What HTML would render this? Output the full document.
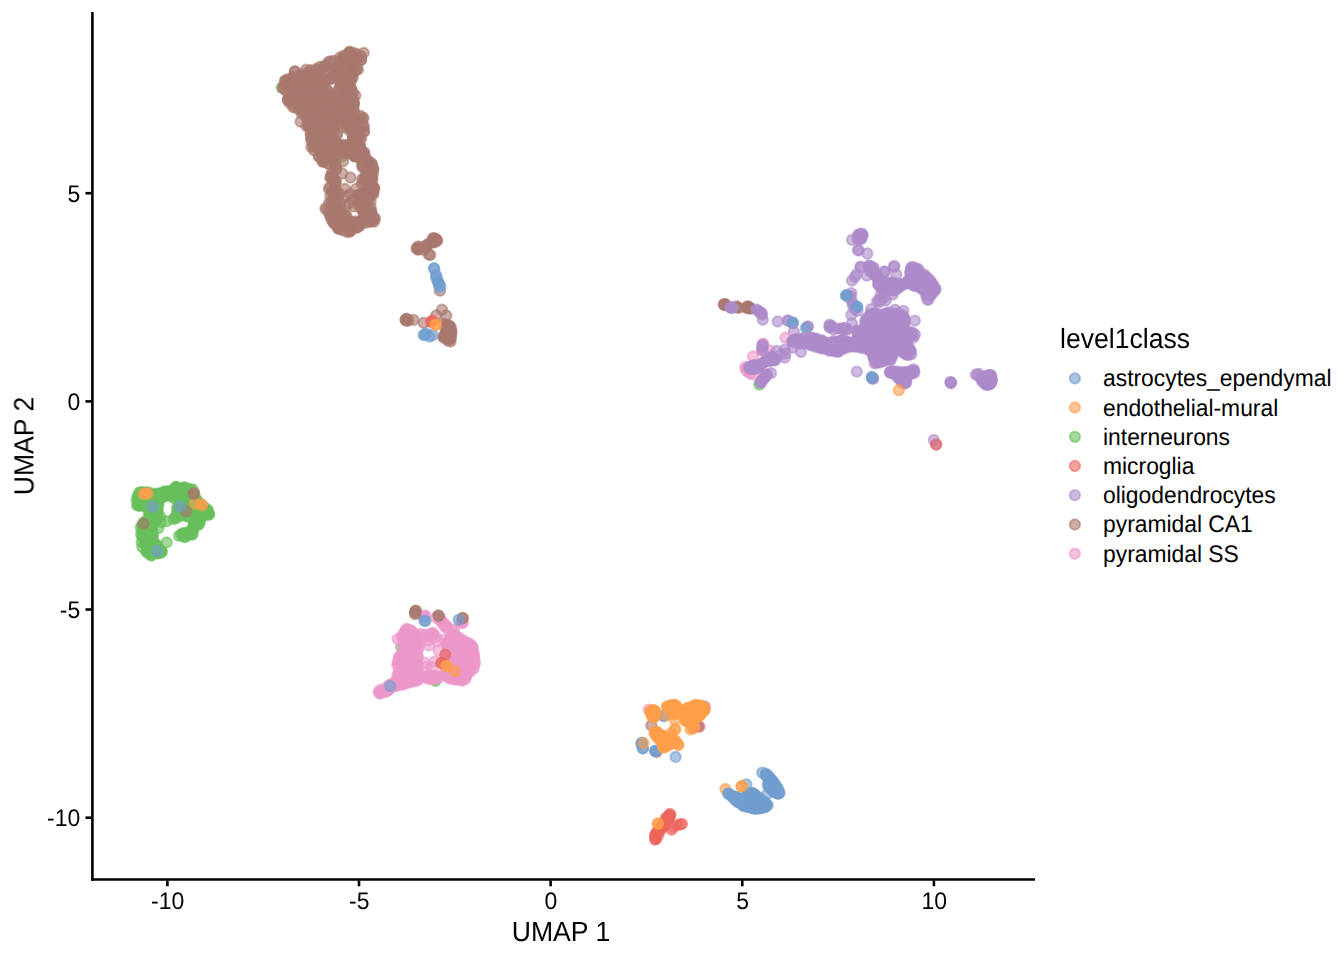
<!DOCTYPE html>
<html><head><meta charset="utf-8"><title>UMAP</title>
<style>
html,body{margin:0;padding:0;background:#fff;}
body{width:1344px;height:960px;overflow:hidden;font-family:"Liberation Sans",sans-serif;}
svg{display:block;font-family:"Liberation Sans",sans-serif;}
text{text-rendering:geometricPrecision}
.tx{opacity:.999}
.t{font-size:23px;fill:#000;}
.l{font-size:22.85px;fill:#000;}
.a{font-size:26.6px;fill:#000;}
.p circle{fill-opacity:.6;stroke-opacity:.6;stroke-width:1.88;}
</style></head><body>
<svg width="1344" height="960" viewBox="0 0 1344 960">
<rect width="1344" height="960" fill="#fff"/>
<g class="p">
<g fill="#67BF5C" stroke="#67BF5C">
<circle cx="349.5" cy="52.0" r="5.2"/>
<circle cx="281.6" cy="87.6" r="5.2"/>
<circle cx="342.2" cy="156.5" r="5.2"/>
</g>
<g fill="#ED97CA" stroke="#ED97CA">
<circle cx="326.0" cy="108.0" r="5.2"/>
<circle cx="345.0" cy="100.0" r="5.2"/>
<circle cx="353.0" cy="103.0" r="5.2"/>
</g>
<g fill="#A8786E" stroke="#A8786E">
<circle cx="313.1" cy="78.9" r="5.2"/>
<circle cx="341.3" cy="223.6" r="5.2"/>
<circle cx="325.1" cy="105.9" r="5.2"/>
<circle cx="354.1" cy="155.6" r="5.2"/>
<circle cx="295.0" cy="96.4" r="5.2"/>
<circle cx="308.9" cy="126.9" r="5.2"/>
<circle cx="345.9" cy="61.3" r="5.2"/>
<circle cx="366.7" cy="193.2" r="5.2"/>
<circle cx="326.3" cy="139.4" r="5.2"/>
<circle cx="332.1" cy="78.1" r="5.2"/>
<circle cx="332.5" cy="193.0" r="5.2"/>
<circle cx="361.2" cy="138.6" r="5.2"/>
<circle cx="350.4" cy="82.3" r="5.2"/>
<circle cx="373.3" cy="169.5" r="5.2"/>
<circle cx="323.9" cy="84.7" r="5.2"/>
<circle cx="313.3" cy="145.6" r="5.2"/>
<circle cx="330.6" cy="177.3" r="5.2"/>
<circle cx="325.1" cy="148.3" r="5.2"/>
<circle cx="301.2" cy="109.3" r="5.2"/>
<circle cx="356.3" cy="228.0" r="5.2"/>
<circle cx="347.0" cy="128.7" r="5.2"/>
<circle cx="293.2" cy="80.8" r="5.2"/>
<circle cx="353.6" cy="104.1" r="5.2"/>
<circle cx="329.0" cy="203.1" r="5.2"/>
<circle cx="309.2" cy="95.5" r="5.2"/>
<circle cx="311.8" cy="116.2" r="5.2"/>
<circle cx="337.4" cy="147.6" r="5.2"/>
<circle cx="334.9" cy="165.5" r="5.2"/>
<circle cx="351.5" cy="97.3" r="5.2"/>
<circle cx="328.9" cy="121.0" r="5.2"/>
<circle cx="374.0" cy="221.6" r="5.2"/>
<circle cx="365.5" cy="179.2" r="5.2"/>
<circle cx="317.6" cy="122.8" r="5.2"/>
<circle cx="326.9" cy="113.9" r="5.2"/>
<circle cx="344.0" cy="106.1" r="5.2"/>
<circle cx="336.0" cy="212.6" r="5.2"/>
<circle cx="320.2" cy="132.5" r="5.2"/>
<circle cx="359.8" cy="206.9" r="5.2"/>
<circle cx="331.8" cy="157.4" r="5.2"/>
<circle cx="319.1" cy="92.1" r="5.2"/>
<circle cx="372.3" cy="179.5" r="5.2"/>
<circle cx="366.5" cy="212.0" r="5.2"/>
<circle cx="344.8" cy="120.2" r="5.2"/>
<circle cx="354.3" cy="58.8" r="5.2"/>
<circle cx="312.4" cy="101.5" r="5.2"/>
<circle cx="355.7" cy="65.8" r="5.2"/>
<circle cx="336.8" cy="110.7" r="5.2"/>
<circle cx="330.2" cy="93.5" r="5.2"/>
<circle cx="343.6" cy="88.4" r="5.2"/>
<circle cx="312.0" cy="88.4" r="5.2"/>
<circle cx="350.7" cy="88.5" r="5.2"/>
<circle cx="331.5" cy="219.6" r="5.2"/>
<circle cx="301.3" cy="74.5" r="5.2"/>
<circle cx="338.7" cy="151.4" r="5.2"/>
<circle cx="322.1" cy="157.3" r="5.2"/>
<circle cx="330.6" cy="61.3" r="5.2"/>
<circle cx="302.3" cy="99.2" r="5.2"/>
<circle cx="364.2" cy="152.3" r="5.2"/>
<circle cx="342.4" cy="230.2" r="5.2"/>
<circle cx="320.4" cy="99.5" r="5.2"/>
<circle cx="352.0" cy="133.7" r="5.2"/>
<circle cx="334.5" cy="130.7" r="5.2"/>
<circle cx="352.4" cy="110.8" r="5.2"/>
<circle cx="315.1" cy="77.2" r="5.2"/>
<circle cx="362.2" cy="163.8" r="5.2"/>
<circle cx="283.1" cy="88.2" r="5.2"/>
<circle cx="315.4" cy="110.8" r="5.2"/>
<circle cx="354.9" cy="156.7" r="5.2"/>
<circle cx="292.9" cy="89.0" r="5.2"/>
<circle cx="341.5" cy="96.9" r="5.2"/>
<circle cx="355.4" cy="122.1" r="5.2"/>
<circle cx="308.5" cy="124.1" r="5.2"/>
<circle cx="334.0" cy="74.2" r="5.2"/>
<circle cx="360.5" cy="115.9" r="5.2"/>
<circle cx="367.2" cy="193.9" r="5.2"/>
<circle cx="292.4" cy="77.4" r="5.2"/>
<circle cx="339.6" cy="193.4" r="5.2"/>
<circle cx="328.7" cy="142.0" r="5.2"/>
<circle cx="346.5" cy="220.7" r="5.2"/>
<circle cx="331.9" cy="191.5" r="5.2"/>
<circle cx="329.8" cy="100.8" r="5.2"/>
<circle cx="367.6" cy="162.6" r="5.2"/>
<circle cx="359.5" cy="194.4" r="5.2"/>
<circle cx="321.3" cy="70.0" r="5.2"/>
<circle cx="350.9" cy="66.8" r="5.2"/>
<circle cx="349.7" cy="53.5" r="5.2"/>
<circle cx="335.7" cy="104.6" r="5.2"/>
<circle cx="362.2" cy="198.1" r="5.2"/>
<circle cx="326.3" cy="89.0" r="5.2"/>
<circle cx="300.6" cy="86.4" r="5.2"/>
<circle cx="320.4" cy="145.4" r="5.2"/>
<circle cx="359.2" cy="226.5" r="5.2"/>
<circle cx="306.8" cy="115.4" r="5.2"/>
<circle cx="360.9" cy="60.0" r="5.2"/>
<circle cx="353.2" cy="222.1" r="5.2"/>
<circle cx="325.1" cy="113.2" r="5.2"/>
<circle cx="359.5" cy="138.2" r="5.2"/>
<circle cx="297.5" cy="100.7" r="5.2"/>
<circle cx="360.4" cy="147.1" r="5.2"/>
<circle cx="358.5" cy="157.4" r="5.2"/>
<circle cx="361.3" cy="208.5" r="5.2"/>
<circle cx="330.7" cy="147.8" r="5.2"/>
<circle cx="363.9" cy="181.7" r="5.2"/>
<circle cx="338.0" cy="207.9" r="5.2"/>
<circle cx="319.1" cy="127.8" r="5.2"/>
<circle cx="372.1" cy="221.2" r="5.2"/>
<circle cx="373.2" cy="192.5" r="5.2"/>
<circle cx="346.1" cy="101.1" r="5.2"/>
<circle cx="309.8" cy="95.7" r="5.2"/>
<circle cx="336.0" cy="169.6" r="5.2"/>
<circle cx="364.0" cy="131.4" r="5.2"/>
<circle cx="353.6" cy="137.8" r="5.2"/>
<circle cx="339.5" cy="120.4" r="5.2"/>
<circle cx="337.1" cy="67.4" r="5.2"/>
<circle cx="335.5" cy="141.8" r="5.2"/>
<circle cx="345.9" cy="146.9" r="5.2"/>
<circle cx="298.9" cy="109.2" r="5.2"/>
<circle cx="342.2" cy="59.1" r="5.2"/>
<circle cx="345.1" cy="87.2" r="5.2"/>
<circle cx="331.6" cy="201.0" r="5.2"/>
<circle cx="324.8" cy="121.5" r="5.2"/>
<circle cx="337.2" cy="225.8" r="5.2"/>
<circle cx="316.3" cy="85.4" r="5.2"/>
<circle cx="344.8" cy="113.5" r="5.2"/>
<circle cx="291.6" cy="100.4" r="5.2"/>
<circle cx="317.2" cy="96.2" r="5.2"/>
<circle cx="316.6" cy="142.4" r="5.2"/>
<circle cx="365.1" cy="207.9" r="5.2"/>
<circle cx="348.0" cy="96.6" r="5.2"/>
<circle cx="311.2" cy="120.6" r="5.2"/>
<circle cx="347.6" cy="123.0" r="5.2"/>
<circle cx="369.5" cy="177.1" r="5.2"/>
<circle cx="311.9" cy="76.3" r="5.2"/>
<circle cx="330.9" cy="132.3" r="5.2"/>
<circle cx="313.2" cy="136.6" r="5.2"/>
<circle cx="368.5" cy="168.5" r="5.2"/>
<circle cx="361.7" cy="219.8" r="5.2"/>
<circle cx="335.7" cy="165.6" r="5.2"/>
<circle cx="347.0" cy="81.2" r="5.2"/>
<circle cx="356.2" cy="128.8" r="5.2"/>
<circle cx="335.4" cy="114.7" r="5.2"/>
<circle cx="285.6" cy="85.8" r="5.2"/>
<circle cx="332.4" cy="97.2" r="5.2"/>
<circle cx="334.2" cy="181.3" r="5.2"/>
<circle cx="353.4" cy="72.3" r="5.2"/>
<circle cx="364.1" cy="153.7" r="5.2"/>
<circle cx="350.1" cy="59.4" r="5.2"/>
<circle cx="318.4" cy="77.7" r="5.2"/>
<circle cx="329.7" cy="210.1" r="5.2"/>
<circle cx="327.2" cy="80.2" r="5.2"/>
<circle cx="326.5" cy="156.3" r="5.2"/>
<circle cx="335.1" cy="191.5" r="5.2"/>
<circle cx="334.2" cy="125.2" r="5.2"/>
<circle cx="325.1" cy="132.4" r="5.2"/>
<circle cx="311.0" cy="107.5" r="5.2"/>
<circle cx="348.5" cy="91.1" r="5.2"/>
<circle cx="351.2" cy="226.4" r="5.2"/>
<circle cx="338.6" cy="98.2" r="5.2"/>
<circle cx="297.5" cy="77.4" r="5.2"/>
<circle cx="338.9" cy="111.6" r="5.2"/>
<circle cx="355.0" cy="117.3" r="5.2"/>
<circle cx="355.4" cy="95.5" r="5.2"/>
<circle cx="304.5" cy="88.4" r="5.2"/>
<circle cx="292.0" cy="82.1" r="5.2"/>
<circle cx="323.0" cy="70.5" r="5.2"/>
<circle cx="333.6" cy="151.2" r="5.2"/>
<circle cx="320.1" cy="109.3" r="5.2"/>
<circle cx="361.4" cy="193.9" r="5.2"/>
<circle cx="343.1" cy="151.2" r="5.2"/>
<circle cx="303.5" cy="77.3" r="5.2"/>
<circle cx="357.7" cy="146.2" r="5.2"/>
<circle cx="346.3" cy="118.1" r="5.2"/>
<circle cx="349.3" cy="105.1" r="5.2"/>
<circle cx="318.8" cy="156.6" r="5.2"/>
<circle cx="323.9" cy="140.7" r="5.2"/>
<circle cx="294.0" cy="91.6" r="5.2"/>
<circle cx="308.5" cy="99.1" r="5.2"/>
<circle cx="332.9" cy="119.4" r="5.2"/>
<circle cx="337.3" cy="117.9" r="5.2"/>
<circle cx="342.4" cy="60.4" r="5.2"/>
<circle cx="310.3" cy="93.7" r="5.2"/>
<circle cx="352.8" cy="141.7" r="5.2"/>
<circle cx="338.7" cy="227.2" r="5.2"/>
<circle cx="335.0" cy="68.8" r="5.2"/>
<circle cx="329.1" cy="148.8" r="5.2"/>
<circle cx="297.3" cy="99.5" r="5.2"/>
<circle cx="358.4" cy="135.4" r="5.2"/>
<circle cx="301.4" cy="91.4" r="5.2"/>
<circle cx="372.8" cy="173.7" r="5.2"/>
<circle cx="367.1" cy="186.8" r="5.2"/>
<circle cx="373.1" cy="194.5" r="5.2"/>
<circle cx="370.6" cy="201.5" r="5.2"/>
<circle cx="340.6" cy="104.5" r="5.2"/>
<circle cx="339.7" cy="213.9" r="5.2"/>
<circle cx="331.6" cy="174.4" r="5.2"/>
<circle cx="371.6" cy="213.4" r="5.2"/>
<circle cx="353.9" cy="104.4" r="5.2"/>
<circle cx="310.7" cy="121.0" r="5.2"/>
<circle cx="312.8" cy="131.1" r="5.2"/>
<circle cx="312.3" cy="79.1" r="5.2"/>
<circle cx="332.2" cy="103.8" r="5.2"/>
<circle cx="293.3" cy="107.2" r="5.2"/>
<circle cx="314.8" cy="122.8" r="5.2"/>
<circle cx="345.2" cy="215.2" r="5.2"/>
<circle cx="339.1" cy="201.2" r="5.2"/>
<circle cx="345.9" cy="228.6" r="5.2"/>
<circle cx="334.6" cy="198.1" r="5.2"/>
<circle cx="314.8" cy="86.0" r="5.2"/>
<circle cx="320.5" cy="102.8" r="5.2"/>
<circle cx="373.5" cy="187.3" r="5.2"/>
<circle cx="294.9" cy="71.2" r="5.2"/>
<circle cx="335.4" cy="143.7" r="5.2"/>
<circle cx="358.5" cy="204.3" r="5.2"/>
<circle cx="350.4" cy="61.2" r="5.2"/>
<circle cx="326.8" cy="124.2" r="5.2"/>
<circle cx="329.7" cy="164.1" r="5.2"/>
<circle cx="352.3" cy="55.8" r="5.2"/>
<circle cx="343.4" cy="89.1" r="5.2"/>
<circle cx="331.4" cy="134.2" r="5.2"/>
<circle cx="306.5" cy="106.1" r="5.2"/>
<circle cx="365.4" cy="218.8" r="5.2"/>
<circle cx="333.1" cy="221.9" r="5.2"/>
<circle cx="349.6" cy="231.3" r="5.2"/>
<circle cx="372.7" cy="168.3" r="5.2"/>
<circle cx="360.4" cy="57.0" r="5.2"/>
<circle cx="283.9" cy="86.0" r="5.2"/>
<circle cx="306.4" cy="118.0" r="5.2"/>
<circle cx="316.6" cy="136.7" r="5.2"/>
<circle cx="352.2" cy="153.7" r="5.2"/>
<circle cx="343.7" cy="145.0" r="5.2"/>
<circle cx="362.7" cy="118.3" r="5.2"/>
<circle cx="335.2" cy="180.8" r="5.2"/>
<circle cx="304.8" cy="81.9" r="5.2"/>
<circle cx="322.1" cy="147.6" r="5.2"/>
<circle cx="347.4" cy="97.9" r="5.2"/>
<circle cx="351.4" cy="116.8" r="5.2"/>
<circle cx="323.6" cy="83.3" r="5.2"/>
<circle cx="314.2" cy="146.4" r="5.2"/>
<circle cx="287.7" cy="79.4" r="5.2"/>
<circle cx="357.8" cy="195.2" r="5.2"/>
<circle cx="295.8" cy="86.5" r="5.2"/>
<circle cx="302.0" cy="108.0" r="5.2"/>
<circle cx="330.8" cy="78.9" r="5.2"/>
<circle cx="355.1" cy="70.8" r="5.2"/>
<circle cx="369.3" cy="221.1" r="5.2"/>
<circle cx="340.5" cy="70.5" r="5.2"/>
<circle cx="322.6" cy="112.9" r="5.2"/>
<circle cx="314.5" cy="96.5" r="5.2"/>
<circle cx="363.3" cy="155.9" r="5.2"/>
<circle cx="318.2" cy="71.5" r="5.2"/>
<circle cx="333.1" cy="112.6" r="5.2"/>
<circle cx="306.2" cy="69.7" r="5.2"/>
<circle cx="357.6" cy="224.8" r="5.2"/>
<circle cx="372.2" cy="177.9" r="5.2"/>
<circle cx="322.9" cy="68.2" r="5.2"/>
<circle cx="329.7" cy="214.7" r="5.2"/>
<circle cx="322.4" cy="160.8" r="5.2"/>
<circle cx="340.5" cy="106.5" r="5.2"/>
<circle cx="338.0" cy="77.7" r="5.2"/>
<circle cx="347.2" cy="122.7" r="5.2"/>
<circle cx="362.0" cy="183.8" r="5.2"/>
<circle cx="366.5" cy="196.9" r="5.2"/>
<circle cx="327.6" cy="141.5" r="5.2"/>
<circle cx="317.4" cy="121.9" r="5.2"/>
<circle cx="288.3" cy="99.4" r="5.2"/>
<circle cx="338.5" cy="228.9" r="5.2"/>
<circle cx="306.5" cy="93.7" r="5.2"/>
<circle cx="299.7" cy="79.1" r="5.2"/>
<circle cx="370.7" cy="207.6" r="5.2"/>
<circle cx="318.0" cy="100.3" r="5.2"/>
<circle cx="328.4" cy="101.4" r="5.2"/>
<circle cx="364.0" cy="131.7" r="5.2"/>
<circle cx="325.4" cy="208.3" r="5.2"/>
<circle cx="352.7" cy="77.8" r="5.2"/>
<circle cx="314.3" cy="81.2" r="5.2"/>
<circle cx="373.3" cy="191.6" r="5.2"/>
<circle cx="334.5" cy="125.1" r="5.2"/>
<circle cx="334.5" cy="189.9" r="5.2"/>
<circle cx="341.5" cy="153.7" r="5.2"/>
<circle cx="346.6" cy="219.8" r="5.2"/>
<circle cx="349.3" cy="51.8" r="5.2"/>
<circle cx="347.9" cy="63.7" r="5.2"/>
<circle cx="337.7" cy="197.0" r="5.2"/>
<circle cx="322.3" cy="94.5" r="5.2"/>
<circle cx="368.9" cy="161.2" r="5.2"/>
<circle cx="311.4" cy="110.4" r="5.2"/>
<circle cx="346.9" cy="232.0" r="5.2"/>
<circle cx="375.1" cy="218.6" r="5.2"/>
<circle cx="373.2" cy="168.5" r="5.2"/>
<circle cx="337.7" cy="91.9" r="5.2"/>
<circle cx="355.6" cy="145.5" r="5.2"/>
<circle cx="351.2" cy="89.1" r="5.2"/>
<circle cx="361.9" cy="209.1" r="5.2"/>
<circle cx="354.9" cy="119.5" r="5.2"/>
<circle cx="341.1" cy="85.7" r="5.2"/>
<circle cx="339.0" cy="144.1" r="5.2"/>
<circle cx="317.3" cy="130.0" r="5.2"/>
<circle cx="348.3" cy="145.2" r="5.2"/>
<circle cx="324.5" cy="125.2" r="5.2"/>
<circle cx="347.5" cy="98.5" r="5.2"/>
<circle cx="327.9" cy="163.5" r="5.2"/>
<circle cx="295.5" cy="107.5" r="5.2"/>
<circle cx="339.9" cy="57.5" r="5.2"/>
<circle cx="360.0" cy="146.1" r="5.2"/>
<circle cx="334.3" cy="162.7" r="5.2"/>
<circle cx="356.1" cy="134.3" r="5.2"/>
<circle cx="316.2" cy="89.6" r="5.2"/>
<circle cx="330.4" cy="78.5" r="5.2"/>
<circle cx="354.4" cy="155.0" r="5.2"/>
<circle cx="317.5" cy="138.7" r="5.2"/>
<circle cx="310.9" cy="135.3" r="5.2"/>
<circle cx="319.5" cy="108.2" r="5.2"/>
<circle cx="325.9" cy="155.9" r="5.2"/>
<circle cx="314.3" cy="74.7" r="5.2"/>
<circle cx="308.9" cy="71.4" r="5.2"/>
<circle cx="370.3" cy="214.5" r="5.2"/>
<circle cx="291.4" cy="86.8" r="5.2"/>
<circle cx="361.1" cy="60.0" r="5.2"/>
<circle cx="337.5" cy="105.8" r="5.2"/>
<circle cx="299.3" cy="98.5" r="5.2"/>
<circle cx="322.5" cy="119.5" r="5.2"/>
<circle cx="312.0" cy="118.4" r="5.2"/>
<circle cx="311.1" cy="100.1" r="5.2"/>
<circle cx="307.7" cy="124.0" r="5.2"/>
<circle cx="368.7" cy="199.1" r="5.2"/>
<circle cx="353.6" cy="109.2" r="5.2"/>
<circle cx="305.1" cy="106.8" r="5.2"/>
<circle cx="340.7" cy="63.4" r="5.2"/>
<circle cx="313.8" cy="150.1" r="5.2"/>
<circle cx="350.6" cy="227.5" r="5.2"/>
<circle cx="356.5" cy="57.1" r="5.2"/>
<circle cx="355.0" cy="221.4" r="5.2"/>
<circle cx="359.3" cy="200.6" r="5.2"/>
<circle cx="290.7" cy="96.3" r="5.2"/>
<circle cx="332.4" cy="178.5" r="5.2"/>
<circle cx="363.4" cy="167.5" r="5.2"/>
<circle cx="368.7" cy="222.1" r="5.2"/>
<circle cx="324.5" cy="136.5" r="5.2"/>
<circle cx="364.1" cy="126.6" r="5.2"/>
<circle cx="336.6" cy="213.2" r="5.2"/>
<circle cx="337.2" cy="132.7" r="5.2"/>
<circle cx="288.0" cy="80.4" r="5.2"/>
<circle cx="333.0" cy="148.3" r="5.2"/>
<circle cx="343.8" cy="122.8" r="5.2"/>
<circle cx="363.8" cy="193.6" r="5.2"/>
<circle cx="336.3" cy="199.6" r="5.2"/>
<circle cx="311.9" cy="113.8" r="5.2"/>
<circle cx="335.2" cy="97.8" r="5.2"/>
<circle cx="311.3" cy="147.0" r="5.2"/>
<circle cx="327.2" cy="111.3" r="5.2"/>
<circle cx="356.9" cy="69.0" r="5.2"/>
<circle cx="333.7" cy="222.5" r="5.2"/>
<circle cx="302.5" cy="78.1" r="5.2"/>
<circle cx="307.7" cy="94.9" r="5.2"/>
<circle cx="364.7" cy="178.2" r="5.2"/>
<circle cx="328.9" cy="189.0" r="5.2"/>
<circle cx="336.2" cy="74.9" r="5.2"/>
<circle cx="338.0" cy="118.1" r="5.2"/>
<circle cx="366.0" cy="203.4" r="5.2"/>
<circle cx="350.9" cy="73.6" r="5.2"/>
<circle cx="304.3" cy="113.7" r="5.2"/>
<circle cx="298.4" cy="86.4" r="5.2"/>
<circle cx="353.6" cy="124.8" r="5.2"/>
<circle cx="325.8" cy="147.1" r="5.2"/>
<circle cx="334.1" cy="110.8" r="5.2"/>
<circle cx="374.3" cy="188.3" r="5.2"/>
<circle cx="306.0" cy="81.4" r="5.2"/>
<circle cx="321.0" cy="79.7" r="5.2"/>
<circle cx="334.3" cy="124.8" r="5.2"/>
<circle cx="354.2" cy="148.8" r="5.2"/>
<circle cx="333.0" cy="69.8" r="5.2"/>
<circle cx="317.5" cy="113.8" r="5.2"/>
<circle cx="358.3" cy="147.6" r="5.2"/>
<circle cx="321.1" cy="152.7" r="5.2"/>
<circle cx="359.6" cy="119.2" r="5.2"/>
<circle cx="324.6" cy="65.7" r="5.2"/>
<circle cx="345.7" cy="153.4" r="5.2"/>
<circle cx="340.3" cy="85.3" r="5.2"/>
<circle cx="313.6" cy="106.9" r="5.2"/>
<circle cx="371.1" cy="210.8" r="5.2"/>
<circle cx="347.8" cy="114.8" r="5.2"/>
<circle cx="363.1" cy="211.6" r="5.2"/>
<circle cx="323.1" cy="94.5" r="5.2"/>
<circle cx="353.5" cy="137.3" r="5.2"/>
<circle cx="311.5" cy="138.0" r="5.2"/>
<circle cx="340.6" cy="149.9" r="5.2"/>
<circle cx="341.6" cy="108.3" r="5.2"/>
<circle cx="352.8" cy="92.6" r="5.2"/>
<circle cx="354.3" cy="112.6" r="5.2"/>
<circle cx="311.9" cy="73.9" r="5.2"/>
<circle cx="294.8" cy="71.8" r="5.2"/>
<circle cx="313.1" cy="126.8" r="5.2"/>
<circle cx="345.6" cy="93.9" r="5.2"/>
<circle cx="331.8" cy="206.5" r="5.2"/>
<circle cx="335.6" cy="160.7" r="5.2"/>
<circle cx="322.3" cy="149.6" r="5.2"/>
<circle cx="328.5" cy="129.0" r="5.2"/>
<circle cx="315.4" cy="142.3" r="5.2"/>
<circle cx="320.1" cy="121.5" r="5.2"/>
<circle cx="350.3" cy="143.9" r="5.2"/>
<circle cx="298.3" cy="95.1" r="5.2"/>
<circle cx="319.1" cy="133.2" r="5.2"/>
<circle cx="349.7" cy="57.7" r="5.2"/>
<circle cx="287.8" cy="99.3" r="5.2"/>
<circle cx="294.0" cy="90.7" r="5.2"/>
<circle cx="335.6" cy="206.9" r="5.2"/>
<circle cx="359.3" cy="136.3" r="5.2"/>
<circle cx="316.0" cy="97.5" r="5.2"/>
<circle cx="303.2" cy="98.1" r="5.2"/>
<circle cx="330.3" cy="137.9" r="5.2"/>
<circle cx="371.7" cy="163.7" r="5.2"/>
<circle cx="367.1" cy="191.0" r="5.2"/>
<circle cx="348.5" cy="82.9" r="5.2"/>
<circle cx="335.8" cy="144.3" r="5.2"/>
<circle cx="367.4" cy="170.2" r="5.2"/>
<circle cx="306.6" cy="126.1" r="5.2"/>
<circle cx="307.0" cy="92.0" r="5.2"/>
<circle cx="353.9" cy="117.6" r="5.2"/>
<circle cx="335.2" cy="185.7" r="5.2"/>
<circle cx="356.5" cy="223.6" r="5.2"/>
<circle cx="357.3" cy="130.0" r="5.2"/>
<circle cx="300.7" cy="75.5" r="5.2"/>
<circle cx="332.6" cy="102.5" r="5.2"/>
<circle cx="300.1" cy="84.8" r="5.2"/>
<circle cx="322.8" cy="161.9" r="5.2"/>
<circle cx="364.3" cy="223.1" r="5.2"/>
<circle cx="361.0" cy="55.9" r="5.2"/>
<circle cx="334.6" cy="110.6" r="5.2"/>
<circle cx="365.1" cy="156.8" r="5.2"/>
<circle cx="285.0" cy="81.3" r="5.2"/>
<circle cx="366.1" cy="201.4" r="5.2"/>
<circle cx="334.4" cy="223.8" r="5.2"/>
<circle cx="347.4" cy="220.2" r="5.2"/>
<circle cx="315.9" cy="69.2" r="5.2"/>
<circle cx="299.2" cy="107.1" r="5.2"/>
<circle cx="367.6" cy="161.8" r="5.2"/>
<circle cx="332.3" cy="172.6" r="5.2"/>
<circle cx="352.9" cy="52.7" r="5.2"/>
<circle cx="354.4" cy="155.6" r="5.2"/>
<circle cx="347.7" cy="125.2" r="5.2"/>
<circle cx="352.7" cy="64.7" r="5.2"/>
<circle cx="337.8" cy="98.6" r="5.2"/>
<circle cx="341.7" cy="71.9" r="5.2"/>
<circle cx="326.5" cy="65.5" r="5.2"/>
<circle cx="360.5" cy="194.5" r="5.2"/>
<circle cx="335.4" cy="75.9" r="5.2"/>
<circle cx="338.6" cy="194.2" r="5.2"/>
<circle cx="308.5" cy="85.0" r="5.2"/>
<circle cx="343.5" cy="105.9" r="5.2"/>
<circle cx="364.0" cy="166.0" r="5.2"/>
<circle cx="349.9" cy="89.5" r="5.2"/>
<circle cx="336.9" cy="135.0" r="5.2"/>
<circle cx="312.1" cy="115.8" r="5.2"/>
<circle cx="301.6" cy="113.3" r="5.2"/>
<circle cx="334.0" cy="60.8" r="5.2"/>
<circle cx="373.3" cy="187.2" r="5.2"/>
<circle cx="357.9" cy="69.4" r="5.2"/>
<circle cx="362.1" cy="179.2" r="5.2"/>
<circle cx="333.9" cy="126.6" r="5.2"/>
<circle cx="319.0" cy="82.0" r="5.2"/>
<circle cx="345.0" cy="97.7" r="5.2"/>
<circle cx="330.4" cy="195.9" r="5.2"/>
<circle cx="327.5" cy="119.1" r="5.2"/>
<circle cx="323.6" cy="147.1" r="5.2"/>
<circle cx="340.1" cy="204.2" r="5.2"/>
<circle cx="321.9" cy="136.4" r="5.2"/>
<circle cx="331.9" cy="153.8" r="5.2"/>
<circle cx="347.6" cy="151.2" r="5.2"/>
<circle cx="315.7" cy="146.5" r="5.2"/>
<circle cx="371.9" cy="220.6" r="5.2"/>
<circle cx="327.9" cy="91.1" r="5.2"/>
<circle cx="353.1" cy="137.3" r="5.2"/>
<circle cx="338.4" cy="228.5" r="5.2"/>
<circle cx="307.6" cy="99.1" r="5.2"/>
<circle cx="323.4" cy="101.3" r="5.2"/>
<circle cx="333.1" cy="204.2" r="5.2"/>
<circle cx="342.6" cy="222.4" r="5.2"/>
<circle cx="346.4" cy="215.6" r="5.2"/>
<circle cx="318.8" cy="155.3" r="5.2"/>
<circle cx="347.0" cy="145.5" r="5.2"/>
<circle cx="288.0" cy="100.6" r="5.2"/>
<circle cx="365.2" cy="212.2" r="5.2"/>
<circle cx="340.7" cy="118.0" r="5.2"/>
<circle cx="362.5" cy="124.2" r="5.2"/>
<circle cx="370.4" cy="192.7" r="5.2"/>
<circle cx="323.3" cy="161.3" r="5.2"/>
<circle cx="316.8" cy="140.4" r="5.2"/>
<circle cx="354.7" cy="120.7" r="5.2"/>
<circle cx="316.7" cy="127.7" r="5.2"/>
<circle cx="303.3" cy="97.0" r="5.2"/>
<circle cx="361.4" cy="151.7" r="5.2"/>
<circle cx="334.0" cy="216.3" r="5.2"/>
<circle cx="350.3" cy="75.8" r="5.2"/>
<circle cx="337.3" cy="144.3" r="5.2"/>
<circle cx="320.4" cy="89.6" r="5.2"/>
<circle cx="311.2" cy="111.1" r="5.2"/>
<circle cx="311.0" cy="140.0" r="5.2"/>
<circle cx="370.1" cy="182.4" r="5.2"/>
<circle cx="324.7" cy="80.3" r="5.2"/>
<circle cx="295.6" cy="83.1" r="5.2"/>
<circle cx="366.4" cy="205.7" r="5.2"/>
<circle cx="343.9" cy="55.7" r="5.2"/>
<circle cx="371.0" cy="212.0" r="5.2"/>
<circle cx="287.0" cy="91.5" r="5.2"/>
<circle cx="339.5" cy="65.8" r="5.2"/>
<circle cx="359.7" cy="221.9" r="5.2"/>
<circle cx="334.1" cy="163.3" r="5.2"/>
<circle cx="353.0" cy="143.4" r="5.2"/>
<circle cx="349.4" cy="127.0" r="5.2"/>
<circle cx="352.4" cy="223.9" r="5.2"/>
<circle cx="298.9" cy="104.3" r="5.2"/>
<circle cx="353.9" cy="102.0" r="5.2"/>
<circle cx="352.7" cy="98.1" r="5.2"/>
<circle cx="336.0" cy="93.6" r="5.2"/>
<circle cx="334.5" cy="150.5" r="5.2"/>
<circle cx="364.7" cy="160.2" r="5.2"/>
<circle cx="308.2" cy="120.8" r="5.2"/>
<circle cx="303.7" cy="102.6" r="5.2"/>
<circle cx="359.0" cy="130.4" r="5.2"/>
<circle cx="319.3" cy="114.0" r="5.2"/>
<circle cx="346.2" cy="83.6" r="5.2"/>
<circle cx="343.3" cy="106.7" r="5.2"/>
<circle cx="367.2" cy="173.4" r="5.2"/>
<circle cx="310.5" cy="70.1" r="5.2"/>
<circle cx="362.2" cy="166.3" r="5.2"/>
<circle cx="373.6" cy="187.3" r="5.2"/>
<circle cx="323.7" cy="136.3" r="5.2"/>
<circle cx="330.2" cy="104.3" r="5.2"/>
<circle cx="328.6" cy="121.8" r="5.2"/>
<circle cx="312.4" cy="85.1" r="5.2"/>
<circle cx="310.6" cy="133.0" r="5.2"/>
<circle cx="334.8" cy="183.5" r="5.2"/>
<circle cx="348.5" cy="63.5" r="5.2"/>
<circle cx="350.0" cy="231.5" r="5.2"/>
<circle cx="349.4" cy="102.7" r="5.2"/>
<circle cx="343.2" cy="94.4" r="5.2"/>
<circle cx="345.0" cy="76.7" r="5.2"/>
<circle cx="363.4" cy="118.0" r="5.2"/>
<circle cx="349.2" cy="91.4" r="5.2"/>
<circle cx="317.2" cy="99.8" r="5.2"/>
<circle cx="335.0" cy="192.7" r="5.2"/>
<circle cx="291.7" cy="99.1" r="5.2"/>
<circle cx="349.0" cy="153.1" r="5.2"/>
<circle cx="341.1" cy="212.3" r="5.2"/>
<circle cx="322.6" cy="149.7" r="5.2"/>
<circle cx="335.6" cy="76.1" r="5.2"/>
<circle cx="333.0" cy="115.3" r="5.2"/>
<circle cx="339.0" cy="228.0" r="5.2"/>
<circle cx="354.7" cy="155.7" r="5.2"/>
<circle cx="323.9" cy="118.3" r="5.2"/>
<circle cx="336.1" cy="108.6" r="5.2"/>
<circle cx="298.6" cy="92.6" r="5.2"/>
<circle cx="349.6" cy="115.3" r="5.2"/>
<circle cx="317.6" cy="127.1" r="5.2"/>
<circle cx="334.0" cy="99.6" r="5.2"/>
<circle cx="337.6" cy="124.0" r="5.2"/>
<circle cx="322.6" cy="130.0" r="5.2"/>
<circle cx="319.5" cy="67.0" r="5.2"/>
<circle cx="365.8" cy="179.6" r="5.2"/>
<circle cx="362.9" cy="210.2" r="5.2"/>
<circle cx="326.7" cy="210.0" r="5.2"/>
<circle cx="368.5" cy="196.3" r="5.2"/>
<circle cx="329.9" cy="187.0" r="5.2"/>
<circle cx="305.5" cy="113.9" r="5.2"/>
<circle cx="360.6" cy="197.9" r="5.2"/>
<circle cx="337.5" cy="67.7" r="5.2"/>
<circle cx="309.5" cy="107.1" r="5.2"/>
<circle cx="322.8" cy="123.1" r="5.2"/>
<circle cx="297.2" cy="85.7" r="5.2"/>
<circle cx="326.8" cy="94.5" r="5.2"/>
<circle cx="303.9" cy="79.2" r="5.2"/>
<circle cx="373.8" cy="217.5" r="5.2"/>
<circle cx="348.3" cy="147.0" r="5.2"/>
<circle cx="314.9" cy="95.6" r="5.2"/>
<circle cx="348.7" cy="121.5" r="5.2"/>
<circle cx="335.1" cy="198.8" r="5.2"/>
<circle cx="354.7" cy="147.5" r="5.2"/>
<circle cx="290.3" cy="103.4" r="5.2"/>
<circle cx="323.3" cy="157.9" r="5.2"/>
<circle cx="321.0" cy="144.0" r="5.2"/>
<circle cx="371.6" cy="164.1" r="5.2"/>
<circle cx="351.3" cy="78.5" r="5.2"/>
<circle cx="285.2" cy="80.5" r="5.2"/>
<circle cx="347.0" cy="126.8" r="5.2"/>
<circle cx="302.2" cy="76.1" r="5.2"/>
<circle cx="330.7" cy="145.1" r="5.2"/>
<circle cx="357.1" cy="226.9" r="5.2"/>
<circle cx="323.0" cy="82.9" r="5.2"/>
<circle cx="308.9" cy="73.4" r="5.2"/>
<circle cx="371.8" cy="185.6" r="5.2"/>
<circle cx="308.6" cy="124.3" r="5.2"/>
<circle cx="318.9" cy="89.7" r="5.2"/>
<circle cx="362.9" cy="127.9" r="5.2"/>
<circle cx="364.2" cy="216.5" r="5.2"/>
<circle cx="344.1" cy="218.6" r="5.2"/>
<circle cx="353.3" cy="63.6" r="5.2"/>
<circle cx="345.2" cy="56.7" r="5.2"/>
<circle cx="365.8" cy="172.1" r="5.2"/>
<circle cx="285.6" cy="90.2" r="5.2"/>
<circle cx="356.7" cy="54.0" r="5.2"/>
<circle cx="346.6" cy="91.7" r="5.2"/>
<circle cx="317.8" cy="114.2" r="5.2"/>
<circle cx="328.0" cy="133.3" r="5.2"/>
<circle cx="357.2" cy="134.0" r="5.2"/>
<circle cx="341.1" cy="106.5" r="5.2"/>
<circle cx="341.7" cy="82.4" r="5.2"/>
<circle cx="328.7" cy="61.9" r="5.2"/>
<circle cx="336.1" cy="181.4" r="5.2"/>
<circle cx="308.3" cy="94.0" r="5.2"/>
<circle cx="356.7" cy="123.2" r="5.2"/>
<circle cx="311.1" cy="127.3" r="5.2"/>
<circle cx="318.6" cy="135.1" r="5.2"/>
<circle cx="334.5" cy="155.7" r="5.2"/>
<circle cx="371.8" cy="177.1" r="5.2"/>
<circle cx="301.9" cy="94.7" r="5.2"/>
<circle cx="305.3" cy="99.8" r="5.2"/>
<circle cx="322.7" cy="109.8" r="5.2"/>
<circle cx="330.5" cy="177.4" r="5.2"/>
<circle cx="308.4" cy="84.0" r="5.2"/>
<circle cx="340.0" cy="209.9" r="5.2"/>
<circle cx="293.1" cy="77.2" r="5.2"/>
<circle cx="349.3" cy="151.2" r="5.2"/>
<circle cx="300.6" cy="121.7" r="5.2"/>
<circle cx="343.8" cy="225.2" r="5.2"/>
<circle cx="369.2" cy="193.4" r="5.2"/>
<circle cx="349.3" cy="231.0" r="5.2"/>
<circle cx="339.3" cy="88.1" r="5.2"/>
<circle cx="337.7" cy="223.6" r="5.2"/>
<circle cx="318.6" cy="99.6" r="5.2"/>
<circle cx="332.8" cy="140.9" r="5.2"/>
<circle cx="366.2" cy="176.9" r="5.2"/>
<circle cx="326.1" cy="96.3" r="5.2"/>
<circle cx="336.1" cy="169.1" r="5.2"/>
<circle cx="342.1" cy="150.1" r="5.2"/>
<circle cx="296.2" cy="88.9" r="5.2"/>
<circle cx="305.3" cy="113.3" r="5.2"/>
<circle cx="330.4" cy="215.6" r="5.2"/>
<circle cx="331.2" cy="114.0" r="5.2"/>
<circle cx="340.3" cy="115.3" r="5.2"/>
<circle cx="342.3" cy="75.0" r="5.2"/>
<circle cx="343.0" cy="161.3" r="5.2"/>
<circle cx="342.3" cy="173.5" r="5.2"/>
<circle cx="350.4" cy="177.5" r="5.2"/>
<circle cx="345.0" cy="189.0" r="5.2"/>
<circle cx="355.8" cy="189.0" r="5.2"/>
<circle cx="363.7" cy="53.0" r="5.2"/>
<circle cx="347.5" cy="196.5" r="5.2"/>
<circle cx="352.5" cy="199.5" r="5.2"/>
<circle cx="349.0" cy="203.5" r="5.2"/>
<circle cx="354.0" cy="206.5" r="5.2"/>
<circle cx="345.5" cy="207.0" r="5.2"/>
<circle cx="350.0" cy="194.0" r="5.2"/>
<circle cx="418.4" cy="246.3" r="5.2"/>
<circle cx="417.9" cy="248.8" r="5.2"/>
<circle cx="416.4" cy="248.2" r="5.2"/>
<circle cx="418.2" cy="249.5" r="5.2"/>
<circle cx="419.4" cy="248.3" r="5.2"/>
<circle cx="417.8" cy="249.4" r="5.2"/>
<circle cx="418.2" cy="248.4" r="5.2"/>
<circle cx="423.7" cy="249.9" r="5.2"/>
<circle cx="425.2" cy="246.2" r="5.2"/>
<circle cx="427.0" cy="245.0" r="5.2"/>
<circle cx="429.0" cy="243.5" r="5.2"/>
<circle cx="426.0" cy="247.5" r="5.2"/>
<circle cx="433.1" cy="238.4" r="5.2"/>
<circle cx="434.7" cy="239.1" r="5.2"/>
<circle cx="436.8" cy="239.8" r="5.2"/>
<circle cx="432.3" cy="241.3" r="5.2"/>
<circle cx="435.1" cy="238.4" r="5.2"/>
<circle cx="433.1" cy="238.5" r="5.2"/>
<circle cx="434.3" cy="241.0" r="5.2"/>
<circle cx="433.1" cy="241.8" r="5.2"/>
<circle cx="433.9" cy="242.7" r="5.2"/>
<circle cx="435.4" cy="239.4" r="5.2"/>
<circle cx="437.2" cy="241.0" r="5.2"/>
<circle cx="436.2" cy="240.1" r="5.2"/>
<circle cx="428.8" cy="254.3" r="5.2"/>
<circle cx="430.3" cy="255.0" r="5.2"/>
<circle cx="440.0" cy="290.7" r="5.2"/>
</g>
<g fill="#729ECE" stroke="#729ECE">
<circle cx="433.9" cy="268.1" r="5.2"/>
<circle cx="434.3" cy="269.0" r="5.2"/>
<circle cx="436.0" cy="275.0" r="5.2"/>
<circle cx="436.3" cy="276.5" r="5.2"/>
<circle cx="436.5" cy="278.6" r="5.2"/>
<circle cx="437.8" cy="280.6" r="5.2"/>
<circle cx="438.4" cy="283.0" r="5.2"/>
<circle cx="438.5" cy="283.1" r="5.2"/>
<circle cx="440.4" cy="285.9" r="5.2"/>
<circle cx="439.3" cy="287.0" r="5.2"/>
</g>
<g fill="#A8786E" stroke="#A8786E">
<circle cx="405.8" cy="319.4" r="5.2"/>
<circle cx="406.5" cy="320.8" r="5.2"/>
<circle cx="405.5" cy="320.0" r="5.2"/>
<circle cx="406.7" cy="318.6" r="5.2"/>
<circle cx="408.3" cy="320.4" r="5.2"/>
<circle cx="413.5" cy="319.9" r="5.2"/>
<circle cx="423.7" cy="322.8" r="5.2"/>
<circle cx="442.0" cy="309.7" r="5.2"/>
<circle cx="446.3" cy="315.5" r="5.2"/>
<circle cx="436.1" cy="315.5" r="5.2"/>
<circle cx="448.5" cy="325.2" r="5.2"/>
<circle cx="443.4" cy="337.3" r="5.2"/>
<circle cx="449.4" cy="337.9" r="5.2"/>
<circle cx="451.5" cy="331.9" r="5.2"/>
<circle cx="445.8" cy="332.0" r="5.2"/>
<circle cx="448.0" cy="340.7" r="5.2"/>
<circle cx="448.3" cy="330.1" r="5.2"/>
<circle cx="446.0" cy="335.4" r="5.2"/>
<circle cx="447.6" cy="335.0" r="5.2"/>
<circle cx="451.2" cy="335.4" r="5.2"/>
<circle cx="443.9" cy="324.0" r="5.2"/>
<circle cx="446.1" cy="324.8" r="5.2"/>
<circle cx="445.9" cy="338.3" r="5.2"/>
<circle cx="449.1" cy="326.7" r="5.2"/>
<circle cx="450.8" cy="328.7" r="5.2"/>
<circle cx="445.9" cy="327.6" r="5.2"/>
<circle cx="450.5" cy="341.5" r="5.2"/>
<circle cx="450.4" cy="339.0" r="5.2"/>
<circle cx="447.5" cy="337.2" r="5.2"/>
<circle cx="449.4" cy="332.6" r="5.2"/>
<circle cx="446.7" cy="331.3" r="5.2"/>
<circle cx="447.2" cy="329.1" r="5.2"/>
<circle cx="450.0" cy="333.7" r="5.2"/>
<circle cx="447.8" cy="332.1" r="5.2"/>
<circle cx="444.7" cy="336.1" r="5.2"/>
<circle cx="443.4" cy="336.4" r="5.2"/>
<circle cx="450.4" cy="326.4" r="5.2"/>
<circle cx="446.7" cy="326.0" r="5.2"/>
<circle cx="449.1" cy="328.4" r="5.2"/>
<circle cx="450.8" cy="337.2" r="5.2"/>
<circle cx="449.1" cy="329.8" r="5.2"/>
<circle cx="445.8" cy="333.9" r="5.2"/>
<circle cx="445.0" cy="337.2" r="5.2"/>
<circle cx="451.3" cy="330.9" r="5.2"/>
</g>
<g fill="#729ECE" stroke="#729ECE">
<circle cx="423.7" cy="335.2" r="5.2"/>
<circle cx="426.6" cy="333.7" r="5.2"/>
<circle cx="432.5" cy="335.2" r="5.2"/>
<circle cx="429.5" cy="336.6" r="5.2"/>
<circle cx="424.5" cy="334.5" r="5.2"/>
</g>
<g fill="#ED665D" stroke="#ED665D">
<circle cx="431.7" cy="321.3" r="5.2"/>
<circle cx="431.0" cy="322.0" r="5.2"/>
<circle cx="432.5" cy="320.8" r="5.2"/>
</g>
<g fill="#FF9E4A" stroke="#FF9E4A">
<circle cx="436.1" cy="325.0" r="5.2"/>
<circle cx="435.6" cy="324.6" r="5.2"/>
</g>
<g fill="#67BF5C" stroke="#67BF5C">
<circle cx="191.4" cy="506.4" r="5.2"/>
<circle cx="146.1" cy="551.2" r="5.2"/>
<circle cx="146.4" cy="504.6" r="5.2"/>
<circle cx="175.7" cy="487.0" r="5.2"/>
<circle cx="188.3" cy="488.7" r="5.2"/>
<circle cx="181.7" cy="498.8" r="5.2"/>
<circle cx="158.6" cy="499.2" r="5.2"/>
<circle cx="184.8" cy="533.8" r="5.2"/>
<circle cx="179.3" cy="512.4" r="5.2"/>
<circle cx="151.5" cy="514.6" r="5.2"/>
<circle cx="138.3" cy="499.7" r="5.2"/>
<circle cx="193.5" cy="524.1" r="5.2"/>
<circle cx="147.8" cy="529.8" r="5.2"/>
<circle cx="207.6" cy="512.9" r="5.2"/>
<circle cx="200.1" cy="519.1" r="5.2"/>
<circle cx="186.6" cy="495.1" r="5.2"/>
<circle cx="156.8" cy="545.0" r="5.2"/>
<circle cx="179.7" cy="490.3" r="5.2"/>
<circle cx="151.2" cy="503.8" r="5.2"/>
<circle cx="160.4" cy="551.7" r="5.2"/>
<circle cx="185.7" cy="508.8" r="5.2"/>
<circle cx="151.9" cy="496.9" r="5.2"/>
<circle cx="152.5" cy="521.5" r="5.2"/>
<circle cx="157.5" cy="509.9" r="5.2"/>
<circle cx="143.1" cy="534.9" r="5.2"/>
<circle cx="146.8" cy="538.5" r="5.2"/>
<circle cx="179.3" cy="505.3" r="5.2"/>
<circle cx="173.8" cy="498.1" r="5.2"/>
<circle cx="140.3" cy="501.8" r="5.2"/>
<circle cx="142.3" cy="547.0" r="5.2"/>
<circle cx="149.5" cy="543.8" r="5.2"/>
<circle cx="178.1" cy="499.4" r="5.2"/>
<circle cx="196.2" cy="509.4" r="5.2"/>
<circle cx="191.7" cy="534.7" r="5.2"/>
<circle cx="170.1" cy="492.0" r="5.2"/>
<circle cx="186.9" cy="516.3" r="5.2"/>
<circle cx="192.7" cy="495.6" r="5.2"/>
<circle cx="142.6" cy="526.0" r="5.2"/>
<circle cx="137.6" cy="496.0" r="5.2"/>
<circle cx="140.6" cy="492.2" r="5.2"/>
<circle cx="201.7" cy="506.8" r="5.2"/>
<circle cx="169.8" cy="496.0" r="5.2"/>
<circle cx="192.6" cy="501.9" r="5.2"/>
<circle cx="151.8" cy="535.4" r="5.2"/>
<circle cx="154.0" cy="552.4" r="5.2"/>
<circle cx="198.2" cy="506.4" r="5.2"/>
<circle cx="155.4" cy="499.9" r="5.2"/>
<circle cx="187.2" cy="534.7" r="5.2"/>
<circle cx="182.9" cy="510.6" r="5.2"/>
<circle cx="190.6" cy="511.9" r="5.2"/>
<circle cx="204.0" cy="514.7" r="5.2"/>
<circle cx="188.2" cy="491.8" r="5.2"/>
<circle cx="154.6" cy="512.8" r="5.2"/>
<circle cx="141.7" cy="542.4" r="5.2"/>
<circle cx="149.0" cy="512.7" r="5.2"/>
<circle cx="192.9" cy="530.7" r="5.2"/>
<circle cx="153.1" cy="542.6" r="5.2"/>
<circle cx="186.1" cy="503.0" r="5.2"/>
<circle cx="142.6" cy="530.2" r="5.2"/>
<circle cx="151.1" cy="525.7" r="5.2"/>
<circle cx="147.1" cy="492.1" r="5.2"/>
<circle cx="205.5" cy="508.2" r="5.2"/>
<circle cx="160.3" cy="516.5" r="5.2"/>
<circle cx="148.6" cy="518.2" r="5.2"/>
<circle cx="141.1" cy="499.8" r="5.2"/>
<circle cx="158.2" cy="504.4" r="5.2"/>
<circle cx="195.7" cy="519.3" r="5.2"/>
<circle cx="144.9" cy="505.0" r="5.2"/>
<circle cx="197.9" cy="525.2" r="5.2"/>
<circle cx="183.2" cy="534.2" r="5.2"/>
<circle cx="181.2" cy="515.7" r="5.2"/>
<circle cx="146.2" cy="545.6" r="5.2"/>
<circle cx="177.6" cy="489.1" r="5.2"/>
<circle cx="149.4" cy="548.5" r="5.2"/>
<circle cx="209.0" cy="514.0" r="5.2"/>
<circle cx="156.2" cy="504.9" r="5.2"/>
<circle cx="175.2" cy="517.3" r="5.2"/>
<circle cx="185.2" cy="494.8" r="5.2"/>
<circle cx="178.7" cy="494.1" r="5.2"/>
<circle cx="145.2" cy="496.5" r="5.2"/>
<circle cx="147.9" cy="501.5" r="5.2"/>
<circle cx="177.5" cy="507.7" r="5.2"/>
<circle cx="193.0" cy="506.3" r="5.2"/>
<circle cx="151.1" cy="539.8" r="5.2"/>
<circle cx="137.0" cy="505.4" r="5.2"/>
<circle cx="149.3" cy="508.2" r="5.2"/>
<circle cx="150.6" cy="511.1" r="5.2"/>
<circle cx="156.7" cy="516.7" r="5.2"/>
<circle cx="159.1" cy="553.1" r="5.2"/>
<circle cx="195.5" cy="499.1" r="5.2"/>
<circle cx="164.6" cy="494.0" r="5.2"/>
<circle cx="197.9" cy="501.7" r="5.2"/>
<circle cx="157.7" cy="496.1" r="5.2"/>
<circle cx="151.5" cy="498.9" r="5.2"/>
<circle cx="179.6" cy="502.9" r="5.2"/>
<circle cx="155.3" cy="494.8" r="5.2"/>
<circle cx="186.4" cy="498.5" r="5.2"/>
<circle cx="191.7" cy="497.7" r="5.2"/>
<circle cx="205.8" cy="511.1" r="5.2"/>
<circle cx="144.7" cy="541.8" r="5.2"/>
<circle cx="143.7" cy="533.2" r="5.2"/>
<circle cx="148.4" cy="543.2" r="5.2"/>
<circle cx="139.2" cy="496.3" r="5.2"/>
<circle cx="147.4" cy="535.0" r="5.2"/>
<circle cx="157.6" cy="509.1" r="5.2"/>
<circle cx="152.6" cy="533.4" r="5.2"/>
<circle cx="207.8" cy="510.2" r="5.2"/>
<circle cx="196.2" cy="504.0" r="5.2"/>
<circle cx="143.0" cy="492.5" r="5.2"/>
<circle cx="149.9" cy="523.8" r="5.2"/>
<circle cx="153.0" cy="551.1" r="5.2"/>
<circle cx="203.1" cy="515.5" r="5.2"/>
<circle cx="171.9" cy="493.6" r="5.2"/>
<circle cx="151.6" cy="529.6" r="5.2"/>
<circle cx="147.5" cy="553.0" r="5.2"/>
<circle cx="183.9" cy="509.6" r="5.2"/>
<circle cx="181.7" cy="492.4" r="5.2"/>
<circle cx="143.1" cy="524.8" r="5.2"/>
<circle cx="181.3" cy="507.2" r="5.2"/>
<circle cx="190.1" cy="505.5" r="5.2"/>
<circle cx="179.5" cy="497.7" r="5.2"/>
<circle cx="193.6" cy="526.5" r="5.2"/>
<circle cx="190.2" cy="516.1" r="5.2"/>
<circle cx="161.9" cy="497.2" r="5.2"/>
<circle cx="155.5" cy="521.6" r="5.2"/>
<circle cx="192.9" cy="529.5" r="5.2"/>
<circle cx="169.0" cy="494.6" r="5.2"/>
<circle cx="200.6" cy="504.1" r="5.2"/>
<circle cx="158.0" cy="500.6" r="5.2"/>
<circle cx="150.7" cy="494.9" r="5.2"/>
<circle cx="185.4" cy="487.5" r="5.2"/>
<circle cx="152.8" cy="516.2" r="5.2"/>
<circle cx="189.2" cy="504.6" r="5.2"/>
<circle cx="178.9" cy="513.0" r="5.2"/>
<circle cx="180.0" cy="489.3" r="5.2"/>
<circle cx="188.8" cy="534.4" r="5.2"/>
<circle cx="161.5" cy="552.4" r="5.2"/>
<circle cx="188.2" cy="493.1" r="5.2"/>
<circle cx="153.4" cy="545.0" r="5.2"/>
<circle cx="197.5" cy="520.6" r="5.2"/>
<circle cx="150.1" cy="519.7" r="5.2"/>
<circle cx="157.1" cy="545.5" r="5.2"/>
<circle cx="175.8" cy="487.5" r="5.2"/>
<circle cx="150.9" cy="550.0" r="5.2"/>
<circle cx="148.8" cy="530.1" r="5.2"/>
<circle cx="136.5" cy="499.8" r="5.2"/>
<circle cx="152.0" cy="537.4" r="5.2"/>
<circle cx="150.6" cy="501.7" r="5.2"/>
<circle cx="194.1" cy="493.2" r="5.2"/>
<circle cx="198.2" cy="524.4" r="5.2"/>
<circle cx="174.2" cy="489.5" r="5.2"/>
<circle cx="158.8" cy="549.2" r="5.2"/>
<circle cx="143.4" cy="500.6" r="5.2"/>
<circle cx="191.8" cy="530.1" r="5.2"/>
<circle cx="143.2" cy="504.5" r="5.2"/>
<circle cx="181.2" cy="534.6" r="5.2"/>
<circle cx="191.9" cy="508.8" r="5.2"/>
<circle cx="180.4" cy="509.7" r="5.2"/>
<circle cx="196.3" cy="507.1" r="5.2"/>
<circle cx="183.9" cy="494.6" r="5.2"/>
<circle cx="150.5" cy="534.3" r="5.2"/>
<circle cx="154.3" cy="518.7" r="5.2"/>
<circle cx="182.4" cy="499.4" r="5.2"/>
<circle cx="182.6" cy="514.5" r="5.2"/>
<circle cx="200.3" cy="510.6" r="5.2"/>
<circle cx="145.6" cy="542.5" r="5.2"/>
<circle cx="201.1" cy="507.0" r="5.2"/>
<circle cx="151.6" cy="555.3" r="5.2"/>
<circle cx="150.3" cy="509.2" r="5.2"/>
<circle cx="179.7" cy="501.2" r="5.2"/>
<circle cx="138.5" cy="505.5" r="5.2"/>
<circle cx="146.4" cy="500.0" r="5.2"/>
<circle cx="143.4" cy="528.6" r="5.2"/>
<circle cx="157.2" cy="512.6" r="5.2"/>
<circle cx="203.7" cy="514.4" r="5.2"/>
<circle cx="147.0" cy="546.9" r="5.2"/>
<circle cx="207.8" cy="515.0" r="5.2"/>
<circle cx="184.3" cy="502.7" r="5.2"/>
<circle cx="143.9" cy="492.6" r="5.2"/>
<circle cx="138.7" cy="501.4" r="5.2"/>
<circle cx="188.0" cy="508.1" r="5.2"/>
<circle cx="157.1" cy="494.2" r="5.2"/>
<circle cx="152.4" cy="531.4" r="5.2"/>
<circle cx="200.1" cy="518.0" r="5.2"/>
<circle cx="192.2" cy="506.2" r="5.2"/>
<circle cx="166.0" cy="495.0" r="5.2"/>
<circle cx="146.6" cy="536.4" r="5.2"/>
<circle cx="196.0" cy="498.8" r="5.2"/>
<circle cx="194.1" cy="520.5" r="5.2"/>
<circle cx="187.6" cy="500.7" r="5.2"/>
<circle cx="193.7" cy="525.2" r="5.2"/>
<circle cx="150.3" cy="542.3" r="5.2"/>
<circle cx="158.4" cy="503.5" r="5.2"/>
<circle cx="183.7" cy="507.2" r="5.2"/>
<circle cx="141.0" cy="534.2" r="5.2"/>
<circle cx="161.5" cy="495.4" r="5.2"/>
<circle cx="150.9" cy="517.3" r="5.2"/>
<circle cx="190.7" cy="489.8" r="5.2"/>
<circle cx="146.4" cy="529.8" r="5.2"/>
<circle cx="207.4" cy="510.2" r="5.2"/>
<circle cx="184.3" cy="497.4" r="5.2"/>
<circle cx="144.3" cy="522.0" r="5.2"/>
<circle cx="155.8" cy="503.1" r="5.2"/>
<circle cx="153.5" cy="543.9" r="5.2"/>
<circle cx="184.4" cy="537.0" r="5.2"/>
<circle cx="161.5" cy="550.9" r="5.2"/>
<circle cx="182.2" cy="488.7" r="5.2"/>
<circle cx="149.1" cy="553.3" r="5.2"/>
<circle cx="149.1" cy="493.1" r="5.2"/>
<circle cx="203.5" cy="507.1" r="5.2"/>
<circle cx="151.2" cy="529.1" r="5.2"/>
<circle cx="203.6" cy="509.2" r="5.2"/>
<circle cx="192.2" cy="495.5" r="5.2"/>
<circle cx="186.3" cy="490.6" r="5.2"/>
<circle cx="190.4" cy="498.1" r="5.2"/>
<circle cx="174.9" cy="495.2" r="5.2"/>
<circle cx="177.2" cy="508.5" r="5.2"/>
<circle cx="142.2" cy="536.5" r="5.2"/>
<circle cx="147.7" cy="519.8" r="5.2"/>
<circle cx="151.0" cy="507.0" r="5.2"/>
<circle cx="141.2" cy="505.9" r="5.2"/>
<circle cx="172.0" cy="495.2" r="5.2"/>
<circle cx="186.9" cy="532.4" r="5.2"/>
<circle cx="179.0" cy="535.8" r="5.2"/>
<circle cx="178.1" cy="493.4" r="5.2"/>
<circle cx="189.4" cy="495.8" r="5.2"/>
<circle cx="180.7" cy="513.1" r="5.2"/>
<circle cx="199.5" cy="523.3" r="5.2"/>
<circle cx="145.4" cy="542.5" r="5.2"/>
<circle cx="192.6" cy="534.2" r="5.2"/>
<circle cx="186.2" cy="516.0" r="5.2"/>
<circle cx="153.0" cy="536.7" r="5.2"/>
<circle cx="202.1" cy="511.0" r="5.2"/>
<circle cx="181.8" cy="494.2" r="5.2"/>
<circle cx="180.4" cy="504.6" r="5.2"/>
<circle cx="151.9" cy="521.8" r="5.2"/>
<circle cx="157.5" cy="549.6" r="5.2"/>
<circle cx="176.5" cy="513.4" r="5.2"/>
<circle cx="157.6" cy="553.5" r="5.2"/>
<circle cx="145.5" cy="506.5" r="5.2"/>
<circle cx="148.2" cy="522.2" r="5.2"/>
<circle cx="189.4" cy="505.5" r="5.2"/>
<circle cx="179.5" cy="500.4" r="5.2"/>
<circle cx="153.6" cy="514.3" r="5.2"/>
<circle cx="142.9" cy="493.5" r="5.2"/>
<circle cx="176.0" cy="490.7" r="5.2"/>
<circle cx="157.0" cy="497.7" r="5.2"/>
<circle cx="155.4" cy="520.9" r="5.2"/>
<circle cx="148.3" cy="500.6" r="5.2"/>
<circle cx="157.3" cy="515.5" r="5.2"/>
<circle cx="192.6" cy="489.3" r="5.2"/>
<circle cx="141.1" cy="501.0" r="5.2"/>
<circle cx="191.7" cy="510.1" r="5.2"/>
<circle cx="194.9" cy="522.2" r="5.2"/>
<circle cx="152.0" cy="550.5" r="5.2"/>
<circle cx="197.3" cy="508.9" r="5.2"/>
<circle cx="139.2" cy="492.8" r="5.2"/>
<circle cx="151.5" cy="503.3" r="5.2"/>
<circle cx="151.2" cy="546.6" r="5.2"/>
<circle cx="182.6" cy="533.1" r="5.2"/>
<circle cx="146.0" cy="530.9" r="5.2"/>
<circle cx="147.4" cy="536.6" r="5.2"/>
<circle cx="156.6" cy="512.8" r="5.2"/>
<circle cx="199.5" cy="503.5" r="5.2"/>
<circle cx="199.9" cy="520.4" r="5.2"/>
<circle cx="184.1" cy="501.5" r="5.2"/>
<circle cx="195.1" cy="503.2" r="5.2"/>
<circle cx="156.1" cy="507.6" r="5.2"/>
<circle cx="200.1" cy="516.6" r="5.2"/>
<circle cx="149.8" cy="516.8" r="5.2"/>
<circle cx="163.8" cy="497.0" r="5.2"/>
<circle cx="209.1" cy="514.3" r="5.2"/>
<circle cx="183.4" cy="487.3" r="5.2"/>
<circle cx="149.2" cy="511.0" r="5.2"/>
<circle cx="160.0" cy="496.1" r="5.2"/>
<circle cx="185.5" cy="536.9" r="5.2"/>
<circle cx="142.5" cy="524.6" r="5.2"/>
<circle cx="184.8" cy="511.9" r="5.2"/>
<circle cx="161.6" cy="551.6" r="5.2"/>
<circle cx="187.0" cy="491.7" r="5.2"/>
<circle cx="180.3" cy="508.4" r="5.2"/>
<circle cx="205.2" cy="513.4" r="5.2"/>
<circle cx="188.6" cy="508.4" r="5.2"/>
<circle cx="152.6" cy="493.6" r="5.2"/>
<circle cx="143.4" cy="504.2" r="5.2"/>
<circle cx="150.8" cy="555.1" r="5.2"/>
<circle cx="147.0" cy="546.1" r="5.2"/>
<circle cx="175.7" cy="495.2" r="5.2"/>
<circle cx="171.8" cy="493.3" r="5.2"/>
<circle cx="177.4" cy="487.4" r="5.2"/>
<circle cx="151.3" cy="527.0" r="5.2"/>
<circle cx="148.4" cy="550.7" r="5.2"/>
<circle cx="139.6" cy="505.4" r="5.2"/>
<circle cx="191.2" cy="500.2" r="5.2"/>
<circle cx="181.4" cy="490.4" r="5.2"/>
<circle cx="140.8" cy="527.4" r="5.2"/>
<circle cx="191.1" cy="495.3" r="5.2"/>
<circle cx="166.8" cy="494.3" r="5.2"/>
<circle cx="181.1" cy="492.5" r="5.2"/>
<circle cx="187.0" cy="496.4" r="5.2"/>
<circle cx="158.5" cy="494.3" r="5.2"/>
<circle cx="158.2" cy="493.4" r="5.2"/>
<circle cx="162.5" cy="492.7" r="5.2"/>
<circle cx="163.4" cy="493.1" r="5.2"/>
<circle cx="164.4" cy="492.1" r="5.2"/>
<circle cx="165.2" cy="491.3" r="5.2"/>
<circle cx="167.7" cy="491.6" r="5.2"/>
<circle cx="169.3" cy="491.3" r="5.2"/>
<circle cx="171.0" cy="491.0" r="5.2"/>
<circle cx="172.9" cy="490.6" r="5.2"/>
<circle cx="166.6" cy="521.2" r="5.2"/>
<circle cx="166.6" cy="542.4" r="5.2"/>
<circle cx="158.5" cy="528.0" r="5.2"/>
<circle cx="160.8" cy="522.3" r="5.2"/>
<circle cx="173.5" cy="519.2" r="5.2"/>
<circle cx="176.9" cy="517.9" r="5.2"/>
</g>
<g fill="#FF9E4A" stroke="#FF9E4A">
<circle cx="143.6" cy="494.2" r="5.2"/>
<circle cx="145.9" cy="493.1" r="5.2"/>
<circle cx="147.6" cy="493.7" r="5.2"/>
<circle cx="195.2" cy="503.4" r="5.2"/>
<circle cx="202.1" cy="505.1" r="5.2"/>
<circle cx="201.4" cy="504.6" r="5.2"/>
</g>
<g fill="#A8786E" stroke="#A8786E">
<circle cx="194.1" cy="493.1" r="5.2"/>
<circle cx="193.5" cy="493.8" r="5.2"/>
<circle cx="186.1" cy="511.4" r="5.2"/>
<circle cx="143.4" cy="523.5" r="5.2"/>
</g>
<g fill="#729ECE" stroke="#729ECE">
<circle cx="152.8" cy="506.8" r="5.2"/>
<circle cx="179.8" cy="506.3" r="5.2"/>
<circle cx="156.8" cy="551.0" r="5.2"/>
</g>
<g fill="#67BF5C" stroke="#67BF5C">
<circle cx="435.4" cy="680.8" r="5.2"/>
<circle cx="401.2" cy="647.0" r="5.2"/>
</g>
<g fill="#ED97CA" stroke="#ED97CA">
<circle cx="424.5" cy="616.1" r="5.2"/>
<circle cx="425.3" cy="615.3" r="5.2"/>
<circle cx="423.8" cy="616.8" r="5.2"/>
<circle cx="462.4" cy="623.2" r="5.2"/>
<circle cx="461.5" cy="622.5" r="5.2"/>
<circle cx="462.8" cy="622.2" r="5.2"/>
<circle cx="380.1" cy="693.5" r="5.2"/>
<circle cx="415.2" cy="663.8" r="5.2"/>
<circle cx="395.8" cy="685.9" r="5.2"/>
<circle cx="412.1" cy="631.8" r="5.2"/>
<circle cx="399.2" cy="673.7" r="5.2"/>
<circle cx="406.8" cy="678.7" r="5.2"/>
<circle cx="416.2" cy="651.9" r="5.2"/>
<circle cx="412.7" cy="674.3" r="5.2"/>
<circle cx="387.5" cy="690.7" r="5.2"/>
<circle cx="410.7" cy="636.8" r="5.2"/>
<circle cx="415.6" cy="644.4" r="5.2"/>
<circle cx="399.0" cy="657.2" r="5.2"/>
<circle cx="403.9" cy="640.3" r="5.2"/>
<circle cx="417.4" cy="680.3" r="5.2"/>
<circle cx="420.2" cy="677.6" r="5.2"/>
<circle cx="407.1" cy="647.4" r="5.2"/>
<circle cx="408.0" cy="657.7" r="5.2"/>
<circle cx="399.3" cy="681.6" r="5.2"/>
<circle cx="411.7" cy="662.6" r="5.2"/>
<circle cx="415.1" cy="659.0" r="5.2"/>
<circle cx="413.1" cy="640.5" r="5.2"/>
<circle cx="418.4" cy="672.0" r="5.2"/>
<circle cx="403.6" cy="683.1" r="5.2"/>
<circle cx="409.5" cy="682.3" r="5.2"/>
<circle cx="407.8" cy="629.5" r="5.2"/>
<circle cx="405.8" cy="668.1" r="5.2"/>
<circle cx="399.1" cy="668.9" r="5.2"/>
<circle cx="390.0" cy="684.6" r="5.2"/>
<circle cx="414.9" cy="636.6" r="5.2"/>
<circle cx="403.4" cy="653.7" r="5.2"/>
<circle cx="409.4" cy="655.5" r="5.2"/>
<circle cx="407.2" cy="661.7" r="5.2"/>
<circle cx="413.4" cy="634.5" r="5.2"/>
<circle cx="397.9" cy="661.2" r="5.2"/>
<circle cx="411.5" cy="669.6" r="5.2"/>
<circle cx="401.3" cy="670.1" r="5.2"/>
<circle cx="414.4" cy="679.3" r="5.2"/>
<circle cx="417.9" cy="657.8" r="5.2"/>
<circle cx="399.1" cy="677.9" r="5.2"/>
<circle cx="408.1" cy="642.0" r="5.2"/>
<circle cx="413.2" cy="654.4" r="5.2"/>
<circle cx="404.2" cy="646.0" r="5.2"/>
<circle cx="405.3" cy="631.0" r="5.2"/>
<circle cx="410.7" cy="633.9" r="5.2"/>
<circle cx="409.8" cy="650.6" r="5.2"/>
<circle cx="403.1" cy="634.1" r="5.2"/>
<circle cx="411.4" cy="677.3" r="5.2"/>
<circle cx="403.6" cy="662.8" r="5.2"/>
<circle cx="416.7" cy="640.2" r="5.2"/>
<circle cx="418.3" cy="649.0" r="5.2"/>
<circle cx="401.9" cy="678.4" r="5.2"/>
<circle cx="380.5" cy="689.9" r="5.2"/>
<circle cx="404.1" cy="673.9" r="5.2"/>
<circle cx="414.4" cy="661.0" r="5.2"/>
<circle cx="410.0" cy="662.9" r="5.2"/>
<circle cx="379.2" cy="691.7" r="5.2"/>
<circle cx="407.8" cy="633.1" r="5.2"/>
<circle cx="412.8" cy="648.9" r="5.2"/>
<circle cx="390.2" cy="688.6" r="5.2"/>
<circle cx="399.7" cy="660.1" r="5.2"/>
<circle cx="408.4" cy="636.5" r="5.2"/>
<circle cx="416.0" cy="635.3" r="5.2"/>
<circle cx="416.5" cy="649.8" r="5.2"/>
<circle cx="404.3" cy="668.1" r="5.2"/>
<circle cx="400.9" cy="668.1" r="5.2"/>
<circle cx="399.9" cy="684.4" r="5.2"/>
<circle cx="401.9" cy="655.7" r="5.2"/>
<circle cx="407.9" cy="678.0" r="5.2"/>
<circle cx="405.7" cy="649.8" r="5.2"/>
<circle cx="417.2" cy="677.6" r="5.2"/>
<circle cx="417.1" cy="667.1" r="5.2"/>
<circle cx="397.8" cy="674.2" r="5.2"/>
<circle cx="393.3" cy="683.4" r="5.2"/>
<circle cx="412.8" cy="666.1" r="5.2"/>
<circle cx="415.1" cy="672.6" r="5.2"/>
<circle cx="411.8" cy="659.5" r="5.2"/>
<circle cx="406.0" cy="665.7" r="5.2"/>
<circle cx="400.8" cy="672.2" r="5.2"/>
<circle cx="385.1" cy="690.3" r="5.2"/>
<circle cx="415.9" cy="655.6" r="5.2"/>
<circle cx="417.6" cy="663.3" r="5.2"/>
<circle cx="380.6" cy="693.1" r="5.2"/>
<circle cx="408.0" cy="674.4" r="5.2"/>
<circle cx="398.2" cy="664.2" r="5.2"/>
<circle cx="408.7" cy="658.5" r="5.2"/>
<circle cx="409.0" cy="671.9" r="5.2"/>
<circle cx="402.2" cy="666.2" r="5.2"/>
<circle cx="412.6" cy="639.6" r="5.2"/>
<circle cx="409.2" cy="646.4" r="5.2"/>
<circle cx="403.6" cy="684.5" r="5.2"/>
<circle cx="415.4" cy="640.9" r="5.2"/>
<circle cx="400.1" cy="680.2" r="5.2"/>
<circle cx="404.8" cy="633.0" r="5.2"/>
<circle cx="409.7" cy="655.0" r="5.2"/>
<circle cx="407.8" cy="660.8" r="5.2"/>
<circle cx="418.2" cy="674.6" r="5.2"/>
<circle cx="405.3" cy="640.7" r="5.2"/>
<circle cx="387.5" cy="686.3" r="5.2"/>
<circle cx="417.0" cy="644.6" r="5.2"/>
<circle cx="402.5" cy="658.5" r="5.2"/>
<circle cx="396.1" cy="684.6" r="5.2"/>
<circle cx="403.9" cy="638.8" r="5.2"/>
<circle cx="401.5" cy="637.1" r="5.2"/>
<circle cx="406.1" cy="663.9" r="5.2"/>
<circle cx="403.0" cy="644.2" r="5.2"/>
<circle cx="405.3" cy="655.4" r="5.2"/>
<circle cx="412.6" cy="652.0" r="5.2"/>
<circle cx="408.2" cy="679.3" r="5.2"/>
<circle cx="411.6" cy="631.0" r="5.2"/>
<circle cx="412.4" cy="680.3" r="5.2"/>
<circle cx="413.0" cy="669.1" r="5.2"/>
<circle cx="411.7" cy="676.5" r="5.2"/>
<circle cx="413.5" cy="635.6" r="5.2"/>
<circle cx="382.6" cy="690.1" r="5.2"/>
<circle cx="406.4" cy="646.2" r="5.2"/>
<circle cx="397.4" cy="676.3" r="5.2"/>
<circle cx="405.2" cy="672.3" r="5.2"/>
<circle cx="405.4" cy="637.5" r="5.2"/>
<circle cx="414.4" cy="667.7" r="5.2"/>
<circle cx="405.6" cy="676.3" r="5.2"/>
<circle cx="391.5" cy="684.4" r="5.2"/>
<circle cx="401.7" cy="662.6" r="5.2"/>
<circle cx="404.2" cy="670.5" r="5.2"/>
<circle cx="412.3" cy="645.2" r="5.2"/>
<circle cx="416.6" cy="635.4" r="5.2"/>
<circle cx="403.0" cy="669.1" r="5.2"/>
<circle cx="407.6" cy="630.9" r="5.2"/>
<circle cx="415.2" cy="652.6" r="5.2"/>
<circle cx="399.9" cy="656.7" r="5.2"/>
<circle cx="410.7" cy="650.3" r="5.2"/>
<circle cx="414.0" cy="643.3" r="5.2"/>
<circle cx="402.5" cy="675.3" r="5.2"/>
<circle cx="410.8" cy="670.4" r="5.2"/>
<circle cx="401.2" cy="655.1" r="5.2"/>
<circle cx="394.0" cy="683.0" r="5.2"/>
<circle cx="415.3" cy="676.1" r="5.2"/>
<circle cx="410.0" cy="664.3" r="5.2"/>
<circle cx="402.9" cy="652.5" r="5.2"/>
<circle cx="398.3" cy="685.1" r="5.2"/>
<circle cx="402.3" cy="667.4" r="5.2"/>
<circle cx="417.6" cy="655.0" r="5.2"/>
<circle cx="408.0" cy="668.9" r="5.2"/>
<circle cx="416.3" cy="671.6" r="5.2"/>
<circle cx="407.0" cy="650.4" r="5.2"/>
<circle cx="416.8" cy="662.7" r="5.2"/>
<circle cx="389.5" cy="689.1" r="5.2"/>
<circle cx="380.4" cy="693.1" r="5.2"/>
<circle cx="397.2" cy="664.9" r="5.2"/>
<circle cx="417.8" cy="679.7" r="5.2"/>
<circle cx="414.3" cy="681.4" r="5.2"/>
<circle cx="412.5" cy="637.0" r="5.2"/>
<circle cx="397.1" cy="682.4" r="5.2"/>
<circle cx="417.8" cy="641.0" r="5.2"/>
<circle cx="406.5" cy="643.0" r="5.2"/>
<circle cx="412.4" cy="639.8" r="5.2"/>
<circle cx="408.7" cy="639.5" r="5.2"/>
<circle cx="405.0" cy="634.5" r="5.2"/>
<circle cx="411.0" cy="647.5" r="5.2"/>
<circle cx="385.5" cy="692.2" r="5.2"/>
<circle cx="401.3" cy="678.9" r="5.2"/>
<circle cx="400.7" cy="659.3" r="5.2"/>
<circle cx="414.7" cy="659.2" r="5.2"/>
<circle cx="411.5" cy="659.4" r="5.2"/>
<circle cx="407.7" cy="670.7" r="5.2"/>
<circle cx="402.6" cy="658.4" r="5.2"/>
<circle cx="404.2" cy="644.3" r="5.2"/>
<circle cx="408.8" cy="676.0" r="5.2"/>
<circle cx="418.8" cy="672.9" r="5.2"/>
<circle cx="404.3" cy="683.2" r="5.2"/>
<circle cx="408.0" cy="682.7" r="5.2"/>
<circle cx="418.2" cy="646.1" r="5.2"/>
<circle cx="414.2" cy="641.2" r="5.2"/>
<circle cx="406.0" cy="665.1" r="5.2"/>
<circle cx="395.5" cy="686.1" r="5.2"/>
<circle cx="400.6" cy="673.7" r="5.2"/>
<circle cx="409.4" cy="681.9" r="5.2"/>
<circle cx="406.3" cy="628.9" r="5.2"/>
<circle cx="389.0" cy="686.7" r="5.2"/>
<circle cx="415.3" cy="655.9" r="5.2"/>
<circle cx="378.8" cy="692.4" r="5.2"/>
<circle cx="407.5" cy="646.8" r="5.2"/>
<circle cx="409.1" cy="657.2" r="5.2"/>
<circle cx="407.0" cy="678.6" r="5.2"/>
<circle cx="408.6" cy="633.2" r="5.2"/>
<circle cx="410.7" cy="643.6" r="5.2"/>
<circle cx="405.6" cy="658.2" r="5.2"/>
<circle cx="410.3" cy="630.2" r="5.2"/>
<circle cx="405.7" cy="636.9" r="5.2"/>
<circle cx="417.4" cy="666.1" r="5.2"/>
<circle cx="399.9" cy="667.0" r="5.2"/>
<circle cx="403.2" cy="637.0" r="5.2"/>
<circle cx="415.5" cy="637.6" r="5.2"/>
<circle cx="417.2" cy="637.6" r="5.2"/>
<circle cx="412.0" cy="655.7" r="5.2"/>
<circle cx="417.4" cy="668.4" r="5.2"/>
<circle cx="400.8" cy="684.8" r="5.2"/>
<circle cx="407.7" cy="661.5" r="5.2"/>
<circle cx="410.8" cy="652.6" r="5.2"/>
<circle cx="402.8" cy="676.0" r="5.2"/>
<circle cx="404.6" cy="671.4" r="5.2"/>
<circle cx="461.4" cy="679.2" r="5.2"/>
<circle cx="457.3" cy="639.8" r="5.2"/>
<circle cx="475.0" cy="662.5" r="5.2"/>
<circle cx="451.2" cy="662.6" r="5.2"/>
<circle cx="462.9" cy="666.3" r="5.2"/>
<circle cx="463.9" cy="651.4" r="5.2"/>
<circle cx="470.3" cy="644.8" r="5.2"/>
<circle cx="446.0" cy="667.0" r="5.2"/>
<circle cx="456.9" cy="657.3" r="5.2"/>
<circle cx="448.0" cy="646.3" r="5.2"/>
<circle cx="446.6" cy="654.6" r="5.2"/>
<circle cx="452.2" cy="674.7" r="5.2"/>
<circle cx="471.6" cy="653.1" r="5.2"/>
<circle cx="454.9" cy="667.7" r="5.2"/>
<circle cx="472.5" cy="648.7" r="5.2"/>
<circle cx="467.8" cy="672.5" r="5.2"/>
<circle cx="470.7" cy="668.9" r="5.2"/>
<circle cx="460.8" cy="674.9" r="5.2"/>
<circle cx="462.8" cy="641.7" r="5.2"/>
<circle cx="452.3" cy="658.0" r="5.2"/>
<circle cx="469.1" cy="659.1" r="5.2"/>
<circle cx="447.0" cy="662.7" r="5.2"/>
<circle cx="450.6" cy="640.5" r="5.2"/>
<circle cx="453.6" cy="678.9" r="5.2"/>
<circle cx="465.7" cy="647.3" r="5.2"/>
<circle cx="453.0" cy="649.5" r="5.2"/>
<circle cx="454.8" cy="672.0" r="5.2"/>
<circle cx="446.8" cy="675.4" r="5.2"/>
<circle cx="459.6" cy="646.6" r="5.2"/>
<circle cx="449.4" cy="672.6" r="5.2"/>
<circle cx="448.9" cy="648.7" r="5.2"/>
<circle cx="463.9" cy="657.7" r="5.2"/>
<circle cx="462.7" cy="654.7" r="5.2"/>
<circle cx="468.9" cy="651.6" r="5.2"/>
<circle cx="467.8" cy="644.5" r="5.2"/>
<circle cx="472.0" cy="664.8" r="5.2"/>
<circle cx="447.4" cy="642.4" r="5.2"/>
<circle cx="455.3" cy="643.0" r="5.2"/>
<circle cx="460.2" cy="667.3" r="5.2"/>
<circle cx="467.3" cy="656.3" r="5.2"/>
<circle cx="456.0" cy="674.2" r="5.2"/>
<circle cx="459.4" cy="654.8" r="5.2"/>
<circle cx="458.9" cy="649.6" r="5.2"/>
<circle cx="467.9" cy="666.2" r="5.2"/>
<circle cx="470.4" cy="654.9" r="5.2"/>
<circle cx="464.9" cy="662.0" r="5.2"/>
<circle cx="449.0" cy="665.2" r="5.2"/>
<circle cx="457.9" cy="669.4" r="5.2"/>
<circle cx="451.1" cy="678.7" r="5.2"/>
<circle cx="459.2" cy="641.6" r="5.2"/>
<circle cx="455.1" cy="646.2" r="5.2"/>
<circle cx="469.7" cy="667.5" r="5.2"/>
<circle cx="461.1" cy="661.9" r="5.2"/>
<circle cx="452.7" cy="653.5" r="5.2"/>
<circle cx="466.1" cy="676.9" r="5.2"/>
<circle cx="474.4" cy="657.5" r="5.2"/>
<circle cx="445.8" cy="659.1" r="5.2"/>
<circle cx="459.8" cy="659.5" r="5.2"/>
<circle cx="457.2" cy="662.6" r="5.2"/>
<circle cx="455.7" cy="648.0" r="5.2"/>
<circle cx="469.3" cy="663.0" r="5.2"/>
<circle cx="447.8" cy="657.6" r="5.2"/>
<circle cx="455.9" cy="678.9" r="5.2"/>
<circle cx="450.2" cy="655.4" r="5.2"/>
<circle cx="465.0" cy="669.2" r="5.2"/>
<circle cx="452.5" cy="662.7" r="5.2"/>
<circle cx="462.0" cy="644.7" r="5.2"/>
<circle cx="458.3" cy="644.0" r="5.2"/>
<circle cx="446.8" cy="644.5" r="5.2"/>
<circle cx="455.5" cy="636.0" r="5.2"/>
<circle cx="462.0" cy="660.5" r="5.2"/>
<circle cx="468.5" cy="657.6" r="5.2"/>
<circle cx="463.3" cy="651.7" r="5.2"/>
<circle cx="458.2" cy="675.3" r="5.2"/>
<circle cx="473.9" cy="653.9" r="5.2"/>
<circle cx="451.4" cy="645.6" r="5.2"/>
<circle cx="472.3" cy="651.1" r="5.2"/>
<circle cx="465.1" cy="679.2" r="5.2"/>
<circle cx="470.9" cy="649.6" r="5.2"/>
<circle cx="462.0" cy="680.8" r="5.2"/>
<circle cx="462.6" cy="677.5" r="5.2"/>
<circle cx="462.8" cy="640.0" r="5.2"/>
<circle cx="464.5" cy="644.2" r="5.2"/>
<circle cx="451.8" cy="642.4" r="5.2"/>
<circle cx="447.9" cy="650.6" r="5.2"/>
<circle cx="456.2" cy="666.5" r="5.2"/>
<circle cx="449.6" cy="638.7" r="5.2"/>
<circle cx="454.3" cy="672.3" r="5.2"/>
<circle cx="463.0" cy="665.6" r="5.2"/>
<circle cx="446.6" cy="655.7" r="5.2"/>
<circle cx="470.9" cy="645.3" r="5.2"/>
<circle cx="454.6" cy="658.3" r="5.2"/>
<circle cx="448.3" cy="675.0" r="5.2"/>
<circle cx="455.9" cy="654.8" r="5.2"/>
<circle cx="462.0" cy="648.1" r="5.2"/>
<circle cx="450.0" cy="670.2" r="5.2"/>
<circle cx="460.9" cy="649.7" r="5.2"/>
<circle cx="460.9" cy="672.0" r="5.2"/>
<circle cx="450.1" cy="663.2" r="5.2"/>
<circle cx="446.4" cy="663.8" r="5.2"/>
<circle cx="459.5" cy="664.4" r="5.2"/>
<circle cx="448.5" cy="646.7" r="5.2"/>
<circle cx="455.2" cy="669.5" r="5.2"/>
<circle cx="466.9" cy="668.8" r="5.2"/>
<circle cx="459.6" cy="651.0" r="5.2"/>
<circle cx="466.4" cy="653.6" r="5.2"/>
<circle cx="466.2" cy="665.8" r="5.2"/>
<circle cx="464.7" cy="647.8" r="5.2"/>
<circle cx="460.5" cy="657.3" r="5.2"/>
<circle cx="461.2" cy="675.4" r="5.2"/>
<circle cx="471.8" cy="664.2" r="5.2"/>
<circle cx="459.0" cy="654.6" r="5.2"/>
<circle cx="460.0" cy="640.3" r="5.2"/>
<circle cx="454.7" cy="662.1" r="5.2"/>
<circle cx="470.6" cy="666.3" r="5.2"/>
<circle cx="472.6" cy="660.9" r="5.2"/>
<circle cx="452.4" cy="674.0" r="5.2"/>
<circle cx="446.5" cy="675.5" r="5.2"/>
<circle cx="468.3" cy="672.7" r="5.2"/>
<circle cx="454.7" cy="637.4" r="5.2"/>
<circle cx="453.1" cy="668.0" r="5.2"/>
<circle cx="447.0" cy="671.2" r="5.2"/>
<circle cx="460.2" cy="667.7" r="5.2"/>
<circle cx="468.4" cy="643.1" r="5.2"/>
<circle cx="462.9" cy="670.7" r="5.2"/>
<circle cx="459.7" cy="661.4" r="5.2"/>
<circle cx="452.4" cy="650.8" r="5.2"/>
<circle cx="462.4" cy="662.5" r="5.2"/>
<circle cx="458.5" cy="637.3" r="5.2"/>
<circle cx="455.5" cy="676.7" r="5.2"/>
<circle cx="467.3" cy="663.8" r="5.2"/>
<circle cx="473.9" cy="657.7" r="5.2"/>
<circle cx="456.4" cy="657.1" r="5.2"/>
<circle cx="446.7" cy="657.5" r="5.2"/>
<circle cx="450.1" cy="678.1" r="5.2"/>
<circle cx="465.8" cy="649.8" r="5.2"/>
<circle cx="452.4" cy="655.2" r="5.2"/>
<circle cx="458.5" cy="678.6" r="5.2"/>
<circle cx="455.9" cy="643.0" r="5.2"/>
<circle cx="464.7" cy="659.0" r="5.2"/>
<circle cx="450.4" cy="658.1" r="5.2"/>
<circle cx="463.7" cy="679.0" r="5.2"/>
<circle cx="450.5" cy="649.2" r="5.2"/>
<circle cx="470.7" cy="653.1" r="5.2"/>
<circle cx="459.2" cy="646.7" r="5.2"/>
<circle cx="452.9" cy="640.2" r="5.2"/>
<circle cx="462.3" cy="655.3" r="5.2"/>
<circle cx="455.8" cy="651.4" r="5.2"/>
<circle cx="465.4" cy="675.2" r="5.2"/>
<circle cx="449.2" cy="665.8" r="5.2"/>
<circle cx="445.4" cy="660.1" r="5.2"/>
<circle cx="467.9" cy="659.8" r="5.2"/>
<circle cx="448.0" cy="659.4" r="5.2"/>
<circle cx="464.1" cy="653.9" r="5.2"/>
<circle cx="445.6" cy="669.3" r="5.2"/>
<circle cx="450.1" cy="668.0" r="5.2"/>
<circle cx="450.0" cy="655.4" r="5.2"/>
<circle cx="469.0" cy="649.0" r="5.2"/>
<circle cx="461.7" cy="659.3" r="5.2"/>
<circle cx="469.8" cy="645.0" r="5.2"/>
<circle cx="451.2" cy="671.3" r="5.2"/>
<circle cx="470.9" cy="670.8" r="5.2"/>
<circle cx="452.2" cy="665.4" r="5.2"/>
<circle cx="469.9" cy="657.2" r="5.2"/>
<circle cx="473.8" cy="668.5" r="5.2"/>
<circle cx="470.8" cy="659.9" r="5.2"/>
<circle cx="449.4" cy="640.8" r="5.2"/>
<circle cx="460.3" cy="654.5" r="5.2"/>
<circle cx="455.8" cy="639.8" r="5.2"/>
<circle cx="461.5" cy="665.3" r="5.2"/>
<circle cx="456.3" cy="663.5" r="5.2"/>
<circle cx="452.9" cy="645.4" r="5.2"/>
<circle cx="454.3" cy="671.7" r="5.2"/>
<circle cx="451.7" cy="646.1" r="5.2"/>
<circle cx="474.4" cy="664.7" r="5.2"/>
<circle cx="473.3" cy="655.6" r="5.2"/>
<circle cx="454.8" cy="660.4" r="5.2"/>
<circle cx="466.1" cy="669.4" r="5.2"/>
<circle cx="462.0" cy="646.0" r="5.2"/>
<circle cx="467.2" cy="658.2" r="5.2"/>
<circle cx="456.2" cy="679.8" r="5.2"/>
<circle cx="447.9" cy="648.0" r="5.2"/>
<circle cx="448.3" cy="643.7" r="5.2"/>
<circle cx="466.9" cy="653.3" r="5.2"/>
<circle cx="464.5" cy="665.6" r="5.2"/>
<circle cx="459.2" cy="668.1" r="5.2"/>
<circle cx="452.8" cy="674.3" r="5.2"/>
<circle cx="446.8" cy="666.3" r="5.2"/>
<circle cx="460.0" cy="657.2" r="5.2"/>
<circle cx="472.7" cy="646.7" r="5.2"/>
<circle cx="466.5" cy="642.3" r="5.2"/>
<circle cx="450.5" cy="652.6" r="5.2"/>
<circle cx="467.1" cy="647.2" r="5.2"/>
<circle cx="448.0" cy="670.4" r="5.2"/>
<circle cx="454.8" cy="634.4" r="5.2"/>
<circle cx="461.7" cy="641.6" r="5.2"/>
<circle cx="462.1" cy="672.9" r="5.2"/>
<circle cx="470.4" cy="647.3" r="5.2"/>
<circle cx="456.0" cy="658.8" r="5.2"/>
<circle cx="455.5" cy="643.6" r="5.2"/>
<circle cx="451.7" cy="637.5" r="5.2"/>
<circle cx="458.2" cy="674.7" r="5.2"/>
<circle cx="448.0" cy="677.7" r="5.2"/>
<circle cx="448.0" cy="674.5" r="5.2"/>
<circle cx="450.1" cy="660.3" r="5.2"/>
<circle cx="464.7" cy="662.2" r="5.2"/>
<circle cx="452.3" cy="678.7" r="5.2"/>
<circle cx="472.3" cy="649.2" r="5.2"/>
<circle cx="467.7" cy="671.8" r="5.2"/>
<circle cx="462.4" cy="677.6" r="5.2"/>
<circle cx="435.4" cy="677.9" r="5.2"/>
<circle cx="428.3" cy="678.7" r="5.2"/>
<circle cx="431.0" cy="676.5" r="5.2"/>
<circle cx="432.9" cy="678.3" r="5.2"/>
<circle cx="432.8" cy="676.0" r="5.2"/>
<circle cx="432.0" cy="677.5" r="5.2"/>
<circle cx="435.9" cy="676.2" r="5.2"/>
<circle cx="435.1" cy="677.1" r="5.2"/>
<circle cx="430.1" cy="677.9" r="5.2"/>
<circle cx="427.2" cy="676.2" r="5.2"/>
<circle cx="432.0" cy="676.7" r="5.2"/>
<circle cx="426.6" cy="677.3" r="5.2"/>
<circle cx="437.7" cy="675.6" r="5.2"/>
<circle cx="433.5" cy="676.6" r="5.2"/>
<circle cx="427.9" cy="677.1" r="5.2"/>
<circle cx="427.6" cy="677.8" r="5.2"/>
<circle cx="431.2" cy="678.8" r="5.2"/>
<circle cx="437.9" cy="678.1" r="5.2"/>
<circle cx="435.3" cy="679.0" r="5.2"/>
<circle cx="430.2" cy="679.0" r="5.2"/>
<circle cx="434.2" cy="677.8" r="5.2"/>
<circle cx="430.2" cy="676.7" r="5.2"/>
<circle cx="436.3" cy="678.0" r="5.2"/>
<circle cx="429.1" cy="675.7" r="5.2"/>
<circle cx="429.8" cy="675.9" r="5.2"/>
<circle cx="430.8" cy="677.7" r="5.2"/>
<circle cx="432.8" cy="634.5" r="5.2"/>
<circle cx="432.6" cy="634.3" r="5.2"/>
<circle cx="429.4" cy="635.3" r="5.2"/>
<circle cx="430.3" cy="636.7" r="5.2"/>
<circle cx="430.1" cy="634.6" r="5.2"/>
<circle cx="432.1" cy="635.8" r="5.2"/>
<circle cx="433.4" cy="634.6" r="5.2"/>
<circle cx="432.4" cy="632.7" r="5.2"/>
<circle cx="433.1" cy="633.8" r="5.2"/>
<circle cx="430.7" cy="634.7" r="5.2"/>
<circle cx="420.5" cy="634.0" r="5.2"/>
<circle cx="422.8" cy="637.0" r="5.2"/>
<circle cx="425.0" cy="634.5" r="5.2"/>
<circle cx="429.0" cy="645.4" r="5.2"/>
<circle cx="424.6" cy="662.6" r="5.2"/>
<circle cx="434.9" cy="661.4" r="5.2"/>
<circle cx="437.5" cy="641.0" r="5.2"/>
<circle cx="438.5" cy="650.5" r="5.2"/>
<circle cx="432.0" cy="667.5" r="5.2"/>
<circle cx="426.5" cy="667.0" r="5.2"/>
<circle cx="397.6" cy="639.1" r="5.2"/>
<circle cx="444.3" cy="639.5" r="5.2"/>
<circle cx="428.0" cy="640.5" r="5.2"/>
<circle cx="436.0" cy="637.0" r="5.2"/>
<circle cx="436.3" cy="617.7" r="5.2"/>
<circle cx="439.4" cy="619.3" r="5.2"/>
<circle cx="440.3" cy="618.4" r="5.2"/>
<circle cx="440.9" cy="620.1" r="5.2"/>
<circle cx="441.1" cy="621.5" r="5.2"/>
<circle cx="443.2" cy="622.9" r="5.2"/>
<circle cx="442.3" cy="622.9" r="5.2"/>
<circle cx="444.0" cy="623.7" r="5.2"/>
<circle cx="444.1" cy="626.1" r="5.2"/>
<circle cx="446.0" cy="625.9" r="5.2"/>
<circle cx="445.4" cy="624.9" r="5.2"/>
<circle cx="446.9" cy="627.4" r="5.2"/>
<circle cx="447.2" cy="628.2" r="5.2"/>
<circle cx="453.9" cy="630.1" r="5.2"/>
<circle cx="451.5" cy="629.5" r="5.2"/>
</g>
<g fill="#A8786E" stroke="#A8786E">
<circle cx="415.4" cy="611.0" r="5.2"/>
<circle cx="414.8" cy="612.6" r="5.2"/>
<circle cx="416.0" cy="610.6" r="5.2"/>
<circle cx="415.2" cy="614.2" r="5.2"/>
<circle cx="438.3" cy="615.3" r="5.2"/>
<circle cx="438.9" cy="616.0" r="5.2"/>
<circle cx="462.4" cy="618.3" r="5.2"/>
<circle cx="462.9" cy="617.9" r="5.2"/>
</g>
<g fill="#729ECE" stroke="#729ECE">
<circle cx="424.2" cy="620.6" r="5.2"/>
<circle cx="425.6" cy="621.1" r="5.2"/>
<circle cx="458.6" cy="619.8" r="5.2"/>
<circle cx="390.2" cy="686.1" r="5.2"/>
</g>
<g fill="#ED665D" stroke="#ED665D">
<circle cx="445.2" cy="654.6" r="5.2"/>
<circle cx="441.2" cy="663.2" r="5.2"/>
<circle cx="441.8" cy="663.0" r="5.2"/>
</g>
<g fill="#FF9E4A" stroke="#FF9E4A">
<circle cx="446.3" cy="666.0" r="5.2"/>
<circle cx="446.8" cy="666.4" r="5.2"/>
<circle cx="454.9" cy="671.2" r="5.2"/>
</g>
<g fill="#ED97CA" stroke="#ED97CA">
<circle cx="648.6" cy="709.6" r="5.2"/>
</g>
<g fill="#AD8BC9" stroke="#AD8BC9">
<circle cx="704.8" cy="706.4" r="5.2"/>
</g>
<g fill="#729ECE" stroke="#729ECE">
<circle cx="663.4" cy="715.7" r="5.2"/>
<circle cx="664.0" cy="716.2" r="5.2"/>
<circle cx="698.0" cy="726.3" r="5.2"/>
<circle cx="697.4" cy="725.8" r="5.2"/>
</g>
<g fill="#ED665D" stroke="#ED665D">
<circle cx="699.4" cy="726.6" r="5.2"/>
</g>
<g fill="#A8786E" stroke="#A8786E">
<circle cx="651.4" cy="725.4" r="5.2"/>
</g>
<g fill="#ED665D" stroke="#ED665D">
<circle cx="656.6" cy="752.0" r="5.2"/>
</g>
<g fill="#729ECE" stroke="#729ECE">
<circle cx="641.7" cy="743.1" r="5.2"/>
<circle cx="641.2" cy="743.8" r="5.2"/>
<circle cx="642.2" cy="742.6" r="5.2"/>
<circle cx="643.0" cy="748.5" r="5.2"/>
<circle cx="642.5" cy="748.0" r="5.2"/>
<circle cx="655.4" cy="751.1" r="5.2"/>
<circle cx="654.9" cy="750.6" r="5.2"/>
<circle cx="655.9" cy="751.5" r="5.2"/>
<circle cx="675.6" cy="756.9" r="5.2"/>
</g>
<g fill="#FF9E4A" stroke="#FF9E4A">
<circle cx="652.0" cy="711.5" r="5.2"/>
<circle cx="654.9" cy="712.1" r="5.2"/>
<circle cx="652.9" cy="714.6" r="5.2"/>
<circle cx="654.0" cy="717.2" r="5.2"/>
<circle cx="653.6" cy="710.5" r="5.2"/>
<circle cx="654.0" cy="715.3" r="5.2"/>
<circle cx="651.6" cy="713.7" r="5.2"/>
<circle cx="654.9" cy="710.7" r="5.2"/>
<circle cx="653.9" cy="712.5" r="5.2"/>
<circle cx="650.6" cy="712.2" r="5.2"/>
<circle cx="652.4" cy="715.8" r="5.2"/>
<circle cx="653.9" cy="714.2" r="5.2"/>
<circle cx="653.3" cy="711.9" r="5.2"/>
<circle cx="651.6" cy="714.8" r="5.2"/>
<circle cx="652.9" cy="713.5" r="5.2"/>
<circle cx="652.9" cy="710.8" r="5.2"/>
<circle cx="653.1" cy="716.8" r="5.2"/>
<circle cx="651.6" cy="710.9" r="5.2"/>
<circle cx="654.8" cy="714.4" r="5.2"/>
<circle cx="654.6" cy="713.4" r="5.2"/>
<circle cx="654.6" cy="713.0" r="5.2"/>
<circle cx="652.7" cy="712.8" r="5.2"/>
<circle cx="653.6" cy="714.8" r="5.2"/>
<circle cx="653.8" cy="716.7" r="5.2"/>
<circle cx="654.0" cy="711.4" r="5.2"/>
<circle cx="652.0" cy="715.2" r="5.2"/>
<circle cx="654.4" cy="712.1" r="5.2"/>
<circle cx="652.9" cy="715.2" r="5.2"/>
<circle cx="651.6" cy="712.5" r="5.2"/>
<circle cx="652.1" cy="713.3" r="5.2"/>
<circle cx="652.8" cy="713.9" r="5.2"/>
<circle cx="650.9" cy="710.5" r="5.2"/>
<circle cx="654.2" cy="716.5" r="5.2"/>
<circle cx="652.5" cy="716.5" r="5.2"/>
<circle cx="652.9" cy="710.2" r="5.2"/>
<circle cx="676.1" cy="711.6" r="5.2"/>
<circle cx="671.8" cy="706.8" r="5.2"/>
<circle cx="673.3" cy="712.2" r="5.2"/>
<circle cx="674.6" cy="709.3" r="5.2"/>
<circle cx="669.4" cy="706.3" r="5.2"/>
<circle cx="674.5" cy="710.9" r="5.2"/>
<circle cx="675.1" cy="705.4" r="5.2"/>
<circle cx="671.3" cy="709.4" r="5.2"/>
<circle cx="676.3" cy="707.9" r="5.2"/>
<circle cx="674.4" cy="714.5" r="5.2"/>
<circle cx="673.6" cy="707.2" r="5.2"/>
<circle cx="673.3" cy="709.7" r="5.2"/>
<circle cx="672.4" cy="705.2" r="5.2"/>
<circle cx="673.3" cy="710.7" r="5.2"/>
<circle cx="676.1" cy="709.8" r="5.2"/>
<circle cx="676.3" cy="713.1" r="5.2"/>
<circle cx="676.3" cy="706.7" r="5.2"/>
<circle cx="674.9" cy="707.7" r="5.2"/>
<circle cx="671.2" cy="708.1" r="5.2"/>
<circle cx="673.2" cy="706.7" r="5.2"/>
<circle cx="675.4" cy="708.2" r="5.2"/>
<circle cx="666.8" cy="706.5" r="5.2"/>
<circle cx="677.1" cy="710.3" r="5.2"/>
<circle cx="669.9" cy="707.9" r="5.2"/>
<circle cx="675.1" cy="712.7" r="5.2"/>
<circle cx="674.0" cy="705.0" r="5.2"/>
<circle cx="677.0" cy="709.1" r="5.2"/>
<circle cx="674.5" cy="712.3" r="5.2"/>
<circle cx="672.1" cy="708.5" r="5.2"/>
<circle cx="671.6" cy="705.8" r="5.2"/>
<circle cx="673.7" cy="708.0" r="5.2"/>
<circle cx="667.6" cy="706.8" r="5.2"/>
<circle cx="675.4" cy="706.9" r="5.2"/>
<circle cx="670.0" cy="708.8" r="5.2"/>
<circle cx="673.9" cy="705.5" r="5.2"/>
<circle cx="675.2" cy="712.0" r="5.2"/>
<circle cx="673.1" cy="708.8" r="5.2"/>
<circle cx="670.5" cy="705.4" r="5.2"/>
<circle cx="668.5" cy="706.7" r="5.2"/>
<circle cx="675.9" cy="708.7" r="5.2"/>
<circle cx="674.0" cy="713.2" r="5.2"/>
<circle cx="670.9" cy="706.7" r="5.2"/>
<circle cx="674.8" cy="707.1" r="5.2"/>
<circle cx="677.0" cy="708.2" r="5.2"/>
<circle cx="669.1" cy="708.3" r="5.2"/>
<circle cx="669.7" cy="706.5" r="5.2"/>
<circle cx="676.1" cy="705.6" r="5.2"/>
<circle cx="674.0" cy="708.9" r="5.2"/>
<circle cx="675.0" cy="710.1" r="5.2"/>
<circle cx="672.0" cy="709.6" r="5.2"/>
<circle cx="686.0" cy="718.9" r="5.2"/>
<circle cx="701.1" cy="709.5" r="5.2"/>
<circle cx="689.1" cy="710.2" r="5.2"/>
<circle cx="694.5" cy="717.8" r="5.2"/>
<circle cx="689.8" cy="720.6" r="5.2"/>
<circle cx="704.2" cy="710.7" r="5.2"/>
<circle cx="691.1" cy="714.4" r="5.2"/>
<circle cx="697.0" cy="713.3" r="5.2"/>
<circle cx="695.8" cy="709.0" r="5.2"/>
<circle cx="700.2" cy="715.1" r="5.2"/>
<circle cx="699.3" cy="706.0" r="5.2"/>
<circle cx="690.3" cy="717.5" r="5.2"/>
<circle cx="686.8" cy="712.9" r="5.2"/>
<circle cx="692.2" cy="707.6" r="5.2"/>
<circle cx="703.4" cy="708.9" r="5.2"/>
<circle cx="693.2" cy="711.4" r="5.2"/>
<circle cx="687.1" cy="715.1" r="5.2"/>
<circle cx="691.4" cy="718.8" r="5.2"/>
<circle cx="691.5" cy="709.5" r="5.2"/>
<circle cx="687.3" cy="721.1" r="5.2"/>
<circle cx="694.9" cy="704.9" r="5.2"/>
<circle cx="698.6" cy="710.0" r="5.2"/>
<circle cx="693.6" cy="714.0" r="5.2"/>
<circle cx="686.6" cy="717.2" r="5.2"/>
<circle cx="700.9" cy="707.2" r="5.2"/>
<circle cx="694.8" cy="706.8" r="5.2"/>
<circle cx="697.2" cy="705.2" r="5.2"/>
<circle cx="699.1" cy="711.0" r="5.2"/>
<circle cx="687.7" cy="719.5" r="5.2"/>
<circle cx="697.4" cy="715.2" r="5.2"/>
<circle cx="688.1" cy="708.2" r="5.2"/>
<circle cx="701.3" cy="713.2" r="5.2"/>
<circle cx="690.1" cy="708.3" r="5.2"/>
<circle cx="687.0" cy="719.7" r="5.2"/>
<circle cx="704.8" cy="708.8" r="5.2"/>
<circle cx="695.8" cy="714.6" r="5.2"/>
<circle cx="690.2" cy="710.9" r="5.2"/>
<circle cx="688.3" cy="714.2" r="5.2"/>
<circle cx="698.6" cy="713.6" r="5.2"/>
<circle cx="688.4" cy="721.4" r="5.2"/>
<circle cx="687.1" cy="714.0" r="5.2"/>
<circle cx="685.3" cy="717.6" r="5.2"/>
<circle cx="694.5" cy="716.5" r="5.2"/>
<circle cx="688.0" cy="712.7" r="5.2"/>
<circle cx="685.7" cy="710.4" r="5.2"/>
<circle cx="700.9" cy="705.7" r="5.2"/>
<circle cx="697.8" cy="707.6" r="5.2"/>
<circle cx="696.3" cy="707.6" r="5.2"/>
<circle cx="686.8" cy="709.3" r="5.2"/>
<circle cx="689.4" cy="715.9" r="5.2"/>
<circle cx="698.1" cy="706.6" r="5.2"/>
<circle cx="698.5" cy="716.6" r="5.2"/>
<circle cx="691.8" cy="711.1" r="5.2"/>
<circle cx="692.8" cy="712.9" r="5.2"/>
<circle cx="702.5" cy="706.3" r="5.2"/>
<circle cx="696.7" cy="716.9" r="5.2"/>
<circle cx="701.7" cy="707.7" r="5.2"/>
<circle cx="701.7" cy="706.4" r="5.2"/>
<circle cx="698.0" cy="714.7" r="5.2"/>
<circle cx="693.4" cy="707.3" r="5.2"/>
<circle cx="687.5" cy="708.2" r="5.2"/>
<circle cx="685.4" cy="714.2" r="5.2"/>
<circle cx="692.8" cy="719.1" r="5.2"/>
<circle cx="703.3" cy="707.2" r="5.2"/>
<circle cx="702.1" cy="710.3" r="5.2"/>
<circle cx="688.4" cy="720.4" r="5.2"/>
<circle cx="688.8" cy="710.9" r="5.2"/>
<circle cx="688.9" cy="709.9" r="5.2"/>
<circle cx="690.2" cy="715.5" r="5.2"/>
<circle cx="695.4" cy="710.7" r="5.2"/>
<circle cx="693.6" cy="717.8" r="5.2"/>
<circle cx="700.2" cy="714.5" r="5.2"/>
<circle cx="692.3" cy="713.8" r="5.2"/>
<circle cx="696.2" cy="712.5" r="5.2"/>
<circle cx="703.2" cy="710.5" r="5.2"/>
<circle cx="690.0" cy="719.4" r="5.2"/>
<circle cx="686.4" cy="721.3" r="5.2"/>
<circle cx="687.9" cy="716.7" r="5.2"/>
<circle cx="692.2" cy="706.7" r="5.2"/>
<circle cx="698.7" cy="708.3" r="5.2"/>
<circle cx="701.4" cy="711.7" r="5.2"/>
<circle cx="694.7" cy="708.2" r="5.2"/>
<circle cx="685.8" cy="715.6" r="5.2"/>
<circle cx="686.5" cy="711.2" r="5.2"/>
<circle cx="696.1" cy="705.3" r="5.2"/>
<circle cx="702.6" cy="711.5" r="5.2"/>
<circle cx="696.7" cy="715.6" r="5.2"/>
<circle cx="694.7" cy="718.4" r="5.2"/>
<circle cx="685.2" cy="720.9" r="5.2"/>
<circle cx="691.1" cy="710.3" r="5.2"/>
<circle cx="687.7" cy="711.5" r="5.2"/>
<circle cx="699.9" cy="712.6" r="5.2"/>
<circle cx="691.4" cy="720.4" r="5.2"/>
<circle cx="686.6" cy="718.3" r="5.2"/>
<circle cx="689.7" cy="712.6" r="5.2"/>
<circle cx="697.7" cy="710.7" r="5.2"/>
<circle cx="697.3" cy="709.1" r="5.2"/>
<circle cx="704.4" cy="709.7" r="5.2"/>
<circle cx="694.5" cy="709.5" r="5.2"/>
<circle cx="700.2" cy="706.6" r="5.2"/>
<circle cx="688.7" cy="708.8" r="5.2"/>
<circle cx="695.1" cy="714.5" r="5.2"/>
<circle cx="696.4" cy="714.3" r="5.2"/>
<circle cx="685.9" cy="712.4" r="5.2"/>
<circle cx="688.8" cy="713.4" r="5.2"/>
<circle cx="692.2" cy="716.7" r="5.2"/>
<circle cx="689.0" cy="715.0" r="5.2"/>
<circle cx="699.2" cy="711.5" r="5.2"/>
<circle cx="695.7" cy="715.7" r="5.2"/>
<circle cx="694.6" cy="713.0" r="5.2"/>
<circle cx="693.5" cy="728.1" r="5.2"/>
<circle cx="692.0" cy="727.2" r="5.2"/>
<circle cx="690.5" cy="729.5" r="5.2"/>
<circle cx="694.3" cy="727.3" r="5.2"/>
<circle cx="666.2" cy="715.4" r="5.2"/>
<circle cx="660.1" cy="736.1" r="5.2"/>
<circle cx="674.4" cy="740.4" r="5.2"/>
<circle cx="666.2" cy="738.9" r="5.2"/>
<circle cx="663.2" cy="747.6" r="5.2"/>
<circle cx="655.7" cy="731.5" r="5.2"/>
<circle cx="658.5" cy="733.9" r="5.2"/>
<circle cx="662.6" cy="743.7" r="5.2"/>
<circle cx="669.9" cy="741.5" r="5.2"/>
<circle cx="666.1" cy="743.9" r="5.2"/>
<circle cx="657.2" cy="737.2" r="5.2"/>
<circle cx="660.9" cy="740.5" r="5.2"/>
<circle cx="669.4" cy="744.7" r="5.2"/>
<circle cx="664.4" cy="736.4" r="5.2"/>
<circle cx="661.9" cy="737.9" r="5.2"/>
<circle cx="673.2" cy="742.5" r="5.2"/>
<circle cx="665.2" cy="746.9" r="5.2"/>
<circle cx="671.2" cy="739.6" r="5.2"/>
<circle cx="666.8" cy="741.6" r="5.2"/>
<circle cx="666.0" cy="745.6" r="5.2"/>
<circle cx="668.7" cy="739.2" r="5.2"/>
<circle cx="657.3" cy="735.4" r="5.2"/>
<circle cx="674.7" cy="742.9" r="5.2"/>
<circle cx="663.1" cy="742.4" r="5.2"/>
<circle cx="671.4" cy="741.5" r="5.2"/>
<circle cx="663.0" cy="736.4" r="5.2"/>
<circle cx="663.7" cy="738.9" r="5.2"/>
<circle cx="655.2" cy="734.5" r="5.2"/>
<circle cx="657.2" cy="733.6" r="5.2"/>
<circle cx="659.9" cy="739.1" r="5.2"/>
<circle cx="667.8" cy="744.0" r="5.2"/>
<circle cx="663.0" cy="740.7" r="5.2"/>
<circle cx="663.7" cy="744.4" r="5.2"/>
<circle cx="664.7" cy="740.9" r="5.2"/>
<circle cx="668.4" cy="741.9" r="5.2"/>
<circle cx="663.3" cy="746.2" r="5.2"/>
<circle cx="668.9" cy="743.0" r="5.2"/>
<circle cx="664.6" cy="744.5" r="5.2"/>
<circle cx="664.8" cy="743.0" r="5.2"/>
<circle cx="670.5" cy="743.6" r="5.2"/>
<circle cx="667.5" cy="745.5" r="5.2"/>
<circle cx="661.4" cy="735.1" r="5.2"/>
<circle cx="662.3" cy="741.8" r="5.2"/>
<circle cx="655.3" cy="733.0" r="5.2"/>
<circle cx="666.9" cy="743.0" r="5.2"/>
<circle cx="673.9" cy="741.4" r="5.2"/>
<circle cx="665.2" cy="742.1" r="5.2"/>
<circle cx="672.3" cy="740.6" r="5.2"/>
<circle cx="665.2" cy="738.0" r="5.2"/>
<circle cx="656.1" cy="734.7" r="5.2"/>
<circle cx="659.3" cy="738.6" r="5.2"/>
<circle cx="667.9" cy="740.6" r="5.2"/>
<circle cx="667.4" cy="739.5" r="5.2"/>
<circle cx="676.0" cy="741.7" r="5.2"/>
<circle cx="657.9" cy="732.5" r="5.2"/>
<circle cx="666.2" cy="737.6" r="5.2"/>
<circle cx="660.1" cy="737.7" r="5.2"/>
<circle cx="664.4" cy="746.7" r="5.2"/>
<circle cx="672.4" cy="742.8" r="5.2"/>
<circle cx="672.0" cy="741.2" r="5.2"/>
<circle cx="654.5" cy="732.4" r="5.2"/>
<circle cx="670.8" cy="741.1" r="5.2"/>
<circle cx="659.3" cy="736.0" r="5.2"/>
<circle cx="669.5" cy="740.1" r="5.2"/>
<circle cx="660.1" cy="736.7" r="5.2"/>
<circle cx="662.5" cy="739.4" r="5.2"/>
<circle cx="656.3" cy="731.8" r="5.2"/>
<circle cx="661.8" cy="740.3" r="5.2"/>
<circle cx="664.5" cy="738.0" r="5.2"/>
<circle cx="671.1" cy="742.8" r="5.2"/>
<circle cx="664.8" cy="738.9" r="5.2"/>
<circle cx="674.9" cy="729.0" r="5.2"/>
<circle cx="675.3" cy="729.5" r="5.2"/>
<circle cx="674.9" cy="719.8" r="5.2"/>
<circle cx="678.5" cy="745.0" r="5.2"/>
<circle cx="678.0" cy="744.5" r="5.2"/>
<circle cx="672.0" cy="736.0" r="5.2"/>
<circle cx="671.0" cy="733.5" r="5.2"/>
<circle cx="643.5" cy="743.1" r="5.2"/>
</g>
<g fill="#ED665D" stroke="#ED665D">
<circle cx="655.2" cy="839.5" r="5.2"/>
<circle cx="655.4" cy="839.1" r="5.2"/>
<circle cx="656.4" cy="838.4" r="5.2"/>
<circle cx="655.4" cy="837.5" r="5.2"/>
<circle cx="658.6" cy="834.5" r="5.2"/>
<circle cx="655.2" cy="835.9" r="5.2"/>
<circle cx="655.5" cy="834.8" r="5.2"/>
<circle cx="656.1" cy="832.8" r="5.2"/>
<circle cx="658.2" cy="830.4" r="5.2"/>
<circle cx="659.6" cy="830.6" r="5.2"/>
<circle cx="659.7" cy="829.7" r="5.2"/>
<circle cx="662.7" cy="827.7" r="5.2"/>
<circle cx="661.8" cy="827.3" r="5.2"/>
<circle cx="661.0" cy="827.5" r="5.2"/>
<circle cx="662.6" cy="825.2" r="5.2"/>
<circle cx="663.1" cy="825.2" r="5.2"/>
<circle cx="663.8" cy="823.9" r="5.2"/>
<circle cx="664.9" cy="824.6" r="5.2"/>
<circle cx="664.6" cy="823.6" r="5.2"/>
<circle cx="666.8" cy="819.3" r="5.2"/>
<circle cx="665.7" cy="820.9" r="5.2"/>
<circle cx="666.0" cy="817.6" r="5.2"/>
<circle cx="667.6" cy="818.7" r="5.2"/>
<circle cx="668.9" cy="818.5" r="5.2"/>
<circle cx="669.1" cy="816.9" r="5.2"/>
<circle cx="670.5" cy="815.1" r="5.2"/>
<circle cx="669.5" cy="815.7" r="5.2"/>
<circle cx="669.8" cy="813.9" r="5.2"/>
<circle cx="681.9" cy="823.9" r="5.2"/>
<circle cx="673.0" cy="827.1" r="5.2"/>
<circle cx="676.8" cy="825.2" r="5.2"/>
<circle cx="671.7" cy="829.6" r="5.2"/>
<circle cx="680.5" cy="824.5" r="5.2"/>
</g>
<g fill="#FF9E4A" stroke="#FF9E4A">
<circle cx="658.1" cy="823.3" r="5.2"/>
<circle cx="657.6" cy="823.8" r="5.2"/>
<circle cx="725.4" cy="789.0" r="5.2"/>
</g>
<g fill="#729ECE" stroke="#729ECE">
<circle cx="746.4" cy="784.3" r="5.2"/>
<circle cx="757.2" cy="807.0" r="5.2"/>
<circle cx="746.4" cy="801.7" r="5.2"/>
<circle cx="731.9" cy="795.5" r="5.2"/>
<circle cx="751.0" cy="795.5" r="5.2"/>
<circle cx="739.3" cy="799.5" r="5.2"/>
<circle cx="761.1" cy="801.0" r="5.2"/>
<circle cx="746.8" cy="806.3" r="5.2"/>
<circle cx="753.1" cy="803.4" r="5.2"/>
<circle cx="765.8" cy="806.6" r="5.2"/>
<circle cx="756.5" cy="799.9" r="5.2"/>
<circle cx="744.7" cy="797.4" r="5.2"/>
<circle cx="753.9" cy="806.8" r="5.2"/>
<circle cx="735.7" cy="800.3" r="5.2"/>
<circle cx="741.3" cy="802.9" r="5.2"/>
<circle cx="728.5" cy="793.6" r="5.2"/>
<circle cx="748.8" cy="797.3" r="5.2"/>
<circle cx="750.1" cy="807.3" r="5.2"/>
<circle cx="746.5" cy="795.5" r="5.2"/>
<circle cx="755.4" cy="804.4" r="5.2"/>
<circle cx="761.1" cy="805.9" r="5.2"/>
<circle cx="764.5" cy="802.3" r="5.2"/>
<circle cx="756.3" cy="796.5" r="5.2"/>
<circle cx="747.4" cy="803.5" r="5.2"/>
<circle cx="757.1" cy="800.9" r="5.2"/>
<circle cx="752.4" cy="793.2" r="5.2"/>
<circle cx="751.1" cy="801.8" r="5.2"/>
<circle cx="747.4" cy="798.4" r="5.2"/>
<circle cx="742.5" cy="805.0" r="5.2"/>
<circle cx="758.3" cy="798.8" r="5.2"/>
<circle cx="755.8" cy="803.2" r="5.2"/>
<circle cx="766.7" cy="805.1" r="5.2"/>
<circle cx="735.7" cy="797.0" r="5.2"/>
<circle cx="742.9" cy="803.4" r="5.2"/>
<circle cx="762.2" cy="807.3" r="5.2"/>
<circle cx="748.6" cy="800.7" r="5.2"/>
<circle cx="759.8" cy="798.6" r="5.2"/>
<circle cx="744.2" cy="801.7" r="5.2"/>
<circle cx="759.9" cy="803.8" r="5.2"/>
<circle cx="763.8" cy="803.9" r="5.2"/>
<circle cx="743.4" cy="798.4" r="5.2"/>
<circle cx="734.3" cy="797.5" r="5.2"/>
<circle cx="741.8" cy="799.5" r="5.2"/>
<circle cx="746.2" cy="799.4" r="5.2"/>
<circle cx="751.1" cy="793.8" r="5.2"/>
<circle cx="737.7" cy="802.1" r="5.2"/>
<circle cx="759.1" cy="807.9" r="5.2"/>
<circle cx="753.1" cy="796.1" r="5.2"/>
<circle cx="748.1" cy="796.7" r="5.2"/>
<circle cx="743.9" cy="805.8" r="5.2"/>
<circle cx="757.4" cy="804.0" r="5.2"/>
<circle cx="754.3" cy="794.4" r="5.2"/>
<circle cx="763.1" cy="805.3" r="5.2"/>
<circle cx="762.7" cy="803.9" r="5.2"/>
<circle cx="756.6" cy="798.0" r="5.2"/>
<circle cx="743.2" cy="800.8" r="5.2"/>
<circle cx="749.5" cy="806.5" r="5.2"/>
<circle cx="758.1" cy="807.5" r="5.2"/>
<circle cx="748.8" cy="795.4" r="5.2"/>
<circle cx="760.9" cy="808.2" r="5.2"/>
<circle cx="736.9" cy="800.1" r="5.2"/>
<circle cx="742.5" cy="801.6" r="5.2"/>
<circle cx="752.1" cy="804.1" r="5.2"/>
<circle cx="749.9" cy="800.8" r="5.2"/>
<circle cx="756.6" cy="805.0" r="5.2"/>
<circle cx="751.3" cy="799.2" r="5.2"/>
<circle cx="738.1" cy="798.7" r="5.2"/>
<circle cx="748.6" cy="797.9" r="5.2"/>
<circle cx="730.6" cy="795.4" r="5.2"/>
<circle cx="747.2" cy="801.2" r="5.2"/>
<circle cx="744.6" cy="804.8" r="5.2"/>
<circle cx="753.2" cy="793.6" r="5.2"/>
<circle cx="756.4" cy="808.9" r="5.2"/>
<circle cx="753.7" cy="804.4" r="5.2"/>
<circle cx="747.3" cy="797.6" r="5.2"/>
<circle cx="740.0" cy="803.1" r="5.2"/>
<circle cx="755.1" cy="807.0" r="5.2"/>
<circle cx="753.7" cy="797.6" r="5.2"/>
<circle cx="748.6" cy="802.7" r="5.2"/>
<circle cx="753.6" cy="808.7" r="5.2"/>
<circle cx="740.7" cy="801.3" r="5.2"/>
<circle cx="765.3" cy="806.8" r="5.2"/>
<circle cx="758.8" cy="805.7" r="5.2"/>
<circle cx="750.5" cy="797.4" r="5.2"/>
<circle cx="746.1" cy="802.5" r="5.2"/>
<circle cx="754.7" cy="801.6" r="5.2"/>
<circle cx="747.1" cy="805.2" r="5.2"/>
<circle cx="763.1" cy="801.5" r="5.2"/>
<circle cx="749.8" cy="804.3" r="5.2"/>
<circle cx="756.1" cy="800.2" r="5.2"/>
<circle cx="756.0" cy="805.9" r="5.2"/>
<circle cx="764.6" cy="802.3" r="5.2"/>
<circle cx="750.5" cy="795.0" r="5.2"/>
<circle cx="753.1" cy="800.4" r="5.2"/>
<circle cx="761.5" cy="805.1" r="5.2"/>
<circle cx="760.8" cy="800.9" r="5.2"/>
<circle cx="732.7" cy="797.1" r="5.2"/>
<circle cx="752.6" cy="797.0" r="5.2"/>
<circle cx="766.4" cy="805.0" r="5.2"/>
<circle cx="746.1" cy="804.1" r="5.2"/>
<circle cx="753.2" cy="807.6" r="5.2"/>
<circle cx="747.0" cy="806.8" r="5.2"/>
<circle cx="758.1" cy="798.9" r="5.2"/>
<circle cx="751.5" cy="806.3" r="5.2"/>
<circle cx="755.6" cy="808.0" r="5.2"/>
<circle cx="749.1" cy="793.5" r="5.2"/>
<circle cx="735.1" cy="799.2" r="5.2"/>
<circle cx="728.1" cy="793.3" r="5.2"/>
<circle cx="741.7" cy="800.9" r="5.2"/>
<circle cx="744.1" cy="803.2" r="5.2"/>
<circle cx="759.3" cy="802.0" r="5.2"/>
<circle cx="760.3" cy="804.6" r="5.2"/>
<circle cx="755.2" cy="798.3" r="5.2"/>
<circle cx="748.0" cy="799.8" r="5.2"/>
<circle cx="746.5" cy="795.6" r="5.2"/>
<circle cx="757.8" cy="797.7" r="5.2"/>
<circle cx="742.9" cy="799.3" r="5.2"/>
<circle cx="736.1" cy="797.0" r="5.2"/>
<circle cx="745.5" cy="800.1" r="5.2"/>
<circle cx="740.8" cy="799.0" r="5.2"/>
<circle cx="754.6" cy="808.1" r="5.2"/>
<circle cx="756.2" cy="803.4" r="5.2"/>
<circle cx="759.4" cy="808.4" r="5.2"/>
<circle cx="736.7" cy="798.9" r="5.2"/>
<circle cx="749.5" cy="798.9" r="5.2"/>
<circle cx="763.0" cy="803.2" r="5.2"/>
<circle cx="752.2" cy="792.8" r="5.2"/>
<circle cx="757.5" cy="806.9" r="5.2"/>
<circle cx="752.9" cy="803.2" r="5.2"/>
<circle cx="748.5" cy="801.1" r="5.2"/>
<circle cx="752.5" cy="794.1" r="5.2"/>
<circle cx="737.7" cy="800.7" r="5.2"/>
<circle cx="764.3" cy="804.3" r="5.2"/>
<circle cx="755.3" cy="795.2" r="5.2"/>
<circle cx="751.7" cy="801.9" r="5.2"/>
<circle cx="747.7" cy="797.6" r="5.2"/>
<circle cx="767.7" cy="805.1" r="5.2"/>
<circle cx="749.1" cy="797.6" r="5.2"/>
<circle cx="733.9" cy="797.6" r="5.2"/>
<circle cx="763.8" cy="807.3" r="5.2"/>
<circle cx="742.8" cy="805.1" r="5.2"/>
<circle cx="758.0" cy="803.1" r="5.2"/>
<circle cx="751.1" cy="807.5" r="5.2"/>
<circle cx="744.2" cy="805.9" r="5.2"/>
<circle cx="754.3" cy="796.6" r="5.2"/>
<circle cx="756.4" cy="796.1" r="5.2"/>
<circle cx="761.8" cy="802.5" r="5.2"/>
<circle cx="740.1" cy="802.0" r="5.2"/>
<circle cx="753.9" cy="806.3" r="5.2"/>
<circle cx="744.1" cy="798.9" r="5.2"/>
<circle cx="749.2" cy="806.6" r="5.2"/>
<circle cx="771.5" cy="783.0" r="5.2"/>
<circle cx="767.1" cy="775.0" r="5.2"/>
<circle cx="774.2" cy="786.6" r="5.2"/>
<circle cx="775.6" cy="790.9" r="5.2"/>
<circle cx="767.8" cy="784.6" r="5.2"/>
<circle cx="775.0" cy="792.5" r="5.2"/>
<circle cx="768.9" cy="776.4" r="5.2"/>
<circle cx="768.8" cy="779.9" r="5.2"/>
<circle cx="775.1" cy="784.5" r="5.2"/>
<circle cx="770.6" cy="786.9" r="5.2"/>
<circle cx="771.1" cy="779.8" r="5.2"/>
<circle cx="773.8" cy="789.2" r="5.2"/>
<circle cx="778.0" cy="788.5" r="5.2"/>
<circle cx="772.2" cy="789.7" r="5.2"/>
<circle cx="770.0" cy="778.2" r="5.2"/>
<circle cx="771.2" cy="784.9" r="5.2"/>
<circle cx="773.7" cy="783.0" r="5.2"/>
<circle cx="770.0" cy="782.0" r="5.2"/>
<circle cx="777.5" cy="790.7" r="5.2"/>
<circle cx="775.8" cy="788.9" r="5.2"/>
<circle cx="769.0" cy="784.2" r="5.2"/>
<circle cx="773.0" cy="785.6" r="5.2"/>
<circle cx="772.2" cy="786.9" r="5.2"/>
<circle cx="772.7" cy="781.0" r="5.2"/>
<circle cx="771.2" cy="785.7" r="5.2"/>
<circle cx="773.2" cy="791.0" r="5.2"/>
<circle cx="774.8" cy="788.1" r="5.2"/>
<circle cx="779.1" cy="791.8" r="5.2"/>
<circle cx="773.6" cy="790.0" r="5.2"/>
<circle cx="776.5" cy="792.6" r="5.2"/>
<circle cx="772.6" cy="783.1" r="5.2"/>
<circle cx="770.2" cy="782.9" r="5.2"/>
<circle cx="769.7" cy="785.1" r="5.2"/>
<circle cx="765.6" cy="775.6" r="5.2"/>
<circle cx="767.7" cy="776.3" r="5.2"/>
<circle cx="775.8" cy="785.8" r="5.2"/>
<circle cx="773.6" cy="785.0" r="5.2"/>
<circle cx="770.0" cy="787.9" r="5.2"/>
<circle cx="770.5" cy="779.4" r="5.2"/>
<circle cx="776.0" cy="787.3" r="5.2"/>
<circle cx="777.6" cy="793.5" r="5.2"/>
<circle cx="778.8" cy="793.9" r="5.2"/>
<circle cx="769.6" cy="780.6" r="5.2"/>
<circle cx="775.0" cy="789.6" r="5.2"/>
<circle cx="779.5" cy="792.9" r="5.2"/>
<circle cx="768.4" cy="786.2" r="5.2"/>
<circle cx="773.5" cy="788.1" r="5.2"/>
<circle cx="774.4" cy="784.0" r="5.2"/>
<circle cx="773.9" cy="787.3" r="5.2"/>
<circle cx="772.9" cy="782.0" r="5.2"/>
<circle cx="775.3" cy="791.8" r="5.2"/>
<circle cx="770.0" cy="784.3" r="5.2"/>
<circle cx="774.1" cy="791.7" r="5.2"/>
<circle cx="771.1" cy="781.4" r="5.2"/>
<circle cx="766.2" cy="774.7" r="5.2"/>
<circle cx="771.9" cy="780.9" r="5.2"/>
<circle cx="775.0" cy="787.3" r="5.2"/>
<circle cx="769.8" cy="786.5" r="5.2"/>
<circle cx="772.8" cy="788.4" r="5.2"/>
<circle cx="765.6" cy="773.6" r="5.2"/>
<circle cx="762.2" cy="772.7" r="5.2"/>
<circle cx="766.0" cy="795.5" r="5.2"/>
</g>
<g fill="#FF9E4A" stroke="#FF9E4A">
<circle cx="741.9" cy="786.0" r="5.2"/>
<circle cx="741.4" cy="786.5" r="5.2"/>
</g>
<g fill="#A8786E" stroke="#A8786E">
<circle cx="724.3" cy="304.4" r="5.2"/>
<circle cx="725.0" cy="303.8" r="5.2"/>
<circle cx="724.9" cy="305.3" r="5.2"/>
<circle cx="723.7" cy="304.5" r="5.2"/>
<circle cx="737.5" cy="307.2" r="5.2"/>
<circle cx="736.5" cy="306.5" r="5.2"/>
<circle cx="738.5" cy="308.0" r="5.2"/>
<circle cx="746.2" cy="307.9" r="5.2"/>
<circle cx="749.2" cy="307.2" r="5.2"/>
<circle cx="750.1" cy="308.3" r="5.2"/>
<circle cx="747.1" cy="307.0" r="5.2"/>
<circle cx="747.5" cy="308.0" r="5.2"/>
<circle cx="747.7" cy="306.5" r="5.2"/>
<circle cx="750.0" cy="308.7" r="5.2"/>
<circle cx="748.1" cy="306.6" r="5.2"/>
</g>
<g fill="#AD8BC9" stroke="#AD8BC9">
<circle cx="730.7" cy="308.0" r="5.2"/>
<circle cx="731.4" cy="307.3" r="5.2"/>
<circle cx="730.9" cy="307.0" r="5.2"/>
<circle cx="732.6" cy="307.9" r="5.2"/>
<circle cx="756.5" cy="309.5" r="5.2"/>
<circle cx="757.9" cy="310.7" r="5.2"/>
<circle cx="759.5" cy="312.0" r="5.2"/>
<circle cx="761.5" cy="313.1" r="5.2"/>
<circle cx="760.5" cy="312.5" r="5.2"/>
<circle cx="762.2" cy="314.5" r="5.2"/>
<circle cx="762.7" cy="319.7" r="5.2"/>
<circle cx="777.7" cy="321.5" r="5.2"/>
<circle cx="788.4" cy="320.9" r="5.2"/>
<circle cx="787.6" cy="320.4" r="5.2"/>
</g>
<g fill="#729ECE" stroke="#729ECE">
<circle cx="792.9" cy="322.7" r="5.2"/>
<circle cx="792.7" cy="323.1" r="5.2"/>
<circle cx="792.4" cy="322.7" r="5.2"/>
</g>
<g fill="#AD8BC9" stroke="#AD8BC9">
<circle cx="807.5" cy="327.0" r="5.2"/>
<circle cx="808.0" cy="326.4" r="5.2"/>
<circle cx="793.8" cy="331.7" r="5.2"/>
</g>
<g fill="#729ECE" stroke="#729ECE">
<circle cx="805.8" cy="328.1" r="5.2"/>
</g>
<g fill="#ED97CA" stroke="#ED97CA">
<circle cx="785.4" cy="337.7" r="5.2"/>
</g>
<g fill="#67BF5C" stroke="#67BF5C">
<circle cx="759.3" cy="384.6" r="5.2"/>
</g>
<g fill="#ED97CA" stroke="#ED97CA">
<circle cx="763.2" cy="343.6" r="5.2"/>
<circle cx="762.5" cy="345.0" r="5.2"/>
<circle cx="762.0" cy="351.0" r="5.2"/>
<circle cx="762.8" cy="348.5" r="5.2"/>
<circle cx="769.5" cy="350.5" r="5.2"/>
<circle cx="753.0" cy="356.4" r="5.2"/>
<circle cx="745.3" cy="367.0" r="5.2"/>
<circle cx="745.8" cy="369.5" r="5.2"/>
<circle cx="747.5" cy="371.5" r="5.2"/>
<circle cx="750.0" cy="373.5" r="5.2"/>
<circle cx="753.0" cy="374.5" r="5.2"/>
</g>
<g fill="#AD8BC9" stroke="#AD8BC9">
<circle cx="762.7" cy="344.6" r="5.2"/>
<circle cx="762.1" cy="349.8" r="5.2"/>
<circle cx="762.5" cy="347.0" r="5.2"/>
<circle cx="753.6" cy="368.2" r="5.2"/>
<circle cx="750.3" cy="367.0" r="5.2"/>
<circle cx="756.5" cy="367.7" r="5.2"/>
<circle cx="753.3" cy="368.2" r="5.2"/>
<circle cx="750.3" cy="367.6" r="5.2"/>
<circle cx="753.9" cy="367.8" r="5.2"/>
<circle cx="757.8" cy="368.1" r="5.2"/>
<circle cx="753.7" cy="365.1" r="5.2"/>
<circle cx="750.6" cy="368.4" r="5.2"/>
<circle cx="754.5" cy="365.9" r="5.2"/>
<circle cx="753.6" cy="369.0" r="5.2"/>
<circle cx="752.5" cy="368.8" r="5.2"/>
<circle cx="756.5" cy="368.1" r="5.2"/>
<circle cx="751.2" cy="366.4" r="5.2"/>
<circle cx="753.5" cy="368.6" r="5.2"/>
<circle cx="753.4" cy="366.6" r="5.2"/>
<circle cx="748.8" cy="367.2" r="5.2"/>
<circle cx="749.9" cy="368.6" r="5.2"/>
<circle cx="757.4" cy="367.7" r="5.2"/>
<circle cx="755.0" cy="365.3" r="5.2"/>
<circle cx="751.1" cy="368.1" r="5.2"/>
<circle cx="756.2" cy="365.5" r="5.2"/>
<circle cx="752.0" cy="367.7" r="5.2"/>
<circle cx="755.5" cy="367.5" r="5.2"/>
<circle cx="771.5" cy="359.2" r="5.2"/>
<circle cx="774.3" cy="359.0" r="5.2"/>
<circle cx="769.4" cy="359.3" r="5.2"/>
<circle cx="770.5" cy="360.1" r="5.2"/>
<circle cx="773.2" cy="359.9" r="5.2"/>
<circle cx="769.5" cy="358.2" r="5.2"/>
<circle cx="773.7" cy="358.5" r="5.2"/>
<circle cx="770.1" cy="361.1" r="5.2"/>
<circle cx="775.0" cy="360.5" r="5.2"/>
<circle cx="773.1" cy="359.1" r="5.2"/>
<circle cx="772.2" cy="356.5" r="5.2"/>
<circle cx="773.4" cy="360.1" r="5.2"/>
<circle cx="771.6" cy="356.6" r="5.2"/>
<circle cx="774.8" cy="359.7" r="5.2"/>
<circle cx="763.0" cy="363.0" r="5.2"/>
<circle cx="765.5" cy="361.5" r="5.2"/>
<circle cx="761.0" cy="364.2" r="5.2"/>
<circle cx="759.5" cy="365.5" r="5.2"/>
<circle cx="766.5" cy="360.8" r="5.2"/>
<circle cx="764.0" cy="362.3" r="5.2"/>
<circle cx="776.7" cy="351.0" r="5.2"/>
<circle cx="784.8" cy="349.6" r="5.2"/>
<circle cx="785.5" cy="353.7" r="5.2"/>
<circle cx="784.8" cy="357.7" r="5.2"/>
<circle cx="781.0" cy="354.5" r="5.2"/>
<circle cx="771.0" cy="373.2" r="5.2"/>
<circle cx="760.9" cy="382.8" r="5.2"/>
<circle cx="760.6" cy="381.9" r="5.2"/>
<circle cx="761.9" cy="381.2" r="5.2"/>
<circle cx="763.4" cy="378.5" r="5.2"/>
<circle cx="763.5" cy="379.1" r="5.2"/>
<circle cx="764.6" cy="377.3" r="5.2"/>
<circle cx="765.2" cy="377.0" r="5.2"/>
<circle cx="766.4" cy="374.9" r="5.2"/>
<circle cx="766.3" cy="374.8" r="5.2"/>
<circle cx="767.0" cy="374.4" r="5.2"/>
<circle cx="851.4" cy="293.1" r="5.2"/>
<circle cx="850.5" cy="296.0" r="5.2"/>
<circle cx="851.2" cy="299.5" r="5.2"/>
<circle cx="852.5" cy="303.0" r="5.2"/>
<circle cx="853.0" cy="306.0" r="5.2"/>
<circle cx="855.0" cy="309.0" r="5.2"/>
<circle cx="857.5" cy="310.8" r="5.2"/>
<circle cx="848.0" cy="296.5" r="5.2"/>
</g>
<g fill="#729ECE" stroke="#729ECE">
<circle cx="846.1" cy="295.5" r="5.2"/>
<circle cx="846.5" cy="295.3" r="5.2"/>
<circle cx="846.2" cy="295.4" r="5.2"/>
<circle cx="857.4" cy="306.9" r="5.2"/>
<circle cx="856.6" cy="306.8" r="5.2"/>
<circle cx="856.5" cy="307.0" r="5.2"/>
</g>
<g fill="#AD8BC9" stroke="#AD8BC9">
<circle cx="829.5" cy="324.6" r="5.2"/>
<circle cx="829.5" cy="327.3" r="5.2"/>
<circle cx="829.7" cy="326.2" r="5.2"/>
<circle cx="831.2" cy="325.8" r="5.2"/>
<circle cx="833.5" cy="329.5" r="5.2"/>
<circle cx="837.0" cy="328.4" r="5.2"/>
<circle cx="840.5" cy="329.0" r="5.2"/>
<circle cx="843.5" cy="328.2" r="5.2"/>
<circle cx="846.5" cy="328.9" r="5.2"/>
<circle cx="851.9" cy="323.3" r="5.2"/>
<circle cx="851.3" cy="314.9" r="5.2"/>
<circle cx="856.6" cy="330.4" r="5.2"/>
<circle cx="847.0" cy="329.7" r="5.2"/>
<circle cx="844.8" cy="327.8" r="5.2"/>
<circle cx="871.8" cy="315.0" r="5.2"/>
<circle cx="900.8" cy="316.4" r="5.2"/>
<circle cx="831.2" cy="345.0" r="5.2"/>
<circle cx="884.4" cy="347.9" r="5.2"/>
<circle cx="909.8" cy="351.3" r="5.2"/>
<circle cx="897.3" cy="335.4" r="5.2"/>
<circle cx="884.6" cy="323.8" r="5.2"/>
<circle cx="869.0" cy="347.2" r="5.2"/>
<circle cx="858.6" cy="340.9" r="5.2"/>
<circle cx="869.7" cy="326.0" r="5.2"/>
<circle cx="891.7" cy="355.2" r="5.2"/>
<circle cx="793.2" cy="341.2" r="5.2"/>
<circle cx="898.4" cy="343.1" r="5.2"/>
<circle cx="899.3" cy="325.1" r="5.2"/>
<circle cx="822.6" cy="345.4" r="5.2"/>
<circle cx="845.5" cy="343.2" r="5.2"/>
<circle cx="871.1" cy="335.8" r="5.2"/>
<circle cx="896.0" cy="322.6" r="5.2"/>
<circle cx="882.2" cy="360.8" r="5.2"/>
<circle cx="889.6" cy="333.7" r="5.2"/>
<circle cx="887.8" cy="314.9" r="5.2"/>
<circle cx="880.8" cy="352.7" r="5.2"/>
<circle cx="873.9" cy="340.9" r="5.2"/>
<circle cx="884.2" cy="351.6" r="5.2"/>
<circle cx="911.3" cy="332.5" r="5.2"/>
<circle cx="895.2" cy="350.4" r="5.2"/>
<circle cx="840.6" cy="348.5" r="5.2"/>
<circle cx="811.2" cy="338.0" r="5.2"/>
<circle cx="864.6" cy="338.5" r="5.2"/>
<circle cx="879.8" cy="324.8" r="5.2"/>
<circle cx="822.0" cy="340.5" r="5.2"/>
<circle cx="904.1" cy="334.4" r="5.2"/>
<circle cx="875.4" cy="320.3" r="5.2"/>
<circle cx="862.4" cy="335.3" r="5.2"/>
<circle cx="906.8" cy="344.4" r="5.2"/>
<circle cx="889.4" cy="350.7" r="5.2"/>
<circle cx="875.0" cy="330.0" r="5.2"/>
<circle cx="811.1" cy="345.2" r="5.2"/>
<circle cx="865.7" cy="319.6" r="5.2"/>
<circle cx="862.0" cy="330.4" r="5.2"/>
<circle cx="883.3" cy="342.0" r="5.2"/>
<circle cx="873.6" cy="357.2" r="5.2"/>
<circle cx="871.6" cy="351.8" r="5.2"/>
<circle cx="836.6" cy="343.8" r="5.2"/>
<circle cx="898.0" cy="330.1" r="5.2"/>
<circle cx="903.8" cy="347.0" r="5.2"/>
<circle cx="857.3" cy="346.7" r="5.2"/>
<circle cx="826.8" cy="348.7" r="5.2"/>
<circle cx="860.8" cy="342.0" r="5.2"/>
<circle cx="881.8" cy="330.3" r="5.2"/>
<circle cx="816.5" cy="343.1" r="5.2"/>
<circle cx="877.4" cy="360.0" r="5.2"/>
<circle cx="898.8" cy="347.1" r="5.2"/>
<circle cx="900.5" cy="337.9" r="5.2"/>
<circle cx="905.5" cy="339.7" r="5.2"/>
<circle cx="889.7" cy="358.7" r="5.2"/>
<circle cx="819.1" cy="347.7" r="5.2"/>
<circle cx="893.7" cy="318.9" r="5.2"/>
<circle cx="875.6" cy="336.7" r="5.2"/>
<circle cx="889.5" cy="318.6" r="5.2"/>
<circle cx="896.9" cy="315.1" r="5.2"/>
<circle cx="877.2" cy="333.1" r="5.2"/>
<circle cx="880.6" cy="345.5" r="5.2"/>
<circle cx="893.8" cy="332.5" r="5.2"/>
<circle cx="881.9" cy="317.2" r="5.2"/>
<circle cx="884.8" cy="347.0" r="5.2"/>
<circle cx="870.3" cy="314.0" r="5.2"/>
<circle cx="903.5" cy="316.0" r="5.2"/>
<circle cx="875.0" cy="315.6" r="5.2"/>
<circle cx="910.7" cy="350.6" r="5.2"/>
<circle cx="898.5" cy="319.6" r="5.2"/>
<circle cx="845.7" cy="347.9" r="5.2"/>
<circle cx="908.8" cy="335.7" r="5.2"/>
<circle cx="836.5" cy="351.5" r="5.2"/>
<circle cx="871.2" cy="317.7" r="5.2"/>
<circle cx="868.8" cy="341.0" r="5.2"/>
<circle cx="794.6" cy="340.2" r="5.2"/>
<circle cx="890.3" cy="343.0" r="5.2"/>
<circle cx="878.4" cy="336.2" r="5.2"/>
<circle cx="798.5" cy="339.9" r="5.2"/>
<circle cx="892.6" cy="353.8" r="5.2"/>
<circle cx="842.4" cy="342.9" r="5.2"/>
<circle cx="829.7" cy="350.9" r="5.2"/>
<circle cx="902.9" cy="328.8" r="5.2"/>
<circle cx="893.7" cy="327.3" r="5.2"/>
<circle cx="883.6" cy="334.5" r="5.2"/>
<circle cx="887.9" cy="329.5" r="5.2"/>
<circle cx="872.5" cy="345.7" r="5.2"/>
<circle cx="884.8" cy="353.1" r="5.2"/>
<circle cx="870.6" cy="323.2" r="5.2"/>
<circle cx="867.7" cy="330.7" r="5.2"/>
<circle cx="792.0" cy="341.4" r="5.2"/>
<circle cx="890.3" cy="334.2" r="5.2"/>
<circle cx="879.0" cy="355.1" r="5.2"/>
<circle cx="822.5" cy="341.0" r="5.2"/>
<circle cx="851.7" cy="345.1" r="5.2"/>
<circle cx="887.2" cy="338.3" r="5.2"/>
<circle cx="888.8" cy="355.1" r="5.2"/>
<circle cx="809.9" cy="344.4" r="5.2"/>
<circle cx="893.7" cy="343.2" r="5.2"/>
<circle cx="887.9" cy="312.5" r="5.2"/>
<circle cx="857.9" cy="331.1" r="5.2"/>
<circle cx="812.7" cy="338.0" r="5.2"/>
<circle cx="904.4" cy="320.3" r="5.2"/>
<circle cx="816.5" cy="338.8" r="5.2"/>
<circle cx="882.1" cy="323.0" r="5.2"/>
<circle cx="871.8" cy="352.3" r="5.2"/>
<circle cx="885.2" cy="315.6" r="5.2"/>
<circle cx="905.2" cy="350.9" r="5.2"/>
<circle cx="895.6" cy="334.5" r="5.2"/>
<circle cx="862.4" cy="347.5" r="5.2"/>
<circle cx="875.6" cy="320.9" r="5.2"/>
<circle cx="848.6" cy="342.0" r="5.2"/>
<circle cx="833.0" cy="346.2" r="5.2"/>
<circle cx="878.5" cy="326.4" r="5.2"/>
<circle cx="871.6" cy="327.4" r="5.2"/>
<circle cx="877.0" cy="341.2" r="5.2"/>
<circle cx="837.6" cy="345.8" r="5.2"/>
<circle cx="888.7" cy="325.5" r="5.2"/>
<circle cx="858.4" cy="334.5" r="5.2"/>
<circle cx="865.0" cy="336.4" r="5.2"/>
<circle cx="899.8" cy="316.2" r="5.2"/>
<circle cx="876.5" cy="348.6" r="5.2"/>
<circle cx="815.6" cy="346.8" r="5.2"/>
<circle cx="875.7" cy="333.1" r="5.2"/>
<circle cx="891.1" cy="345.9" r="5.2"/>
<circle cx="905.8" cy="346.6" r="5.2"/>
<circle cx="880.4" cy="318.5" r="5.2"/>
<circle cx="889.6" cy="350.9" r="5.2"/>
<circle cx="900.1" cy="342.9" r="5.2"/>
<circle cx="881.0" cy="359.5" r="5.2"/>
<circle cx="908.6" cy="355.0" r="5.2"/>
<circle cx="876.8" cy="345.7" r="5.2"/>
<circle cx="842.9" cy="348.9" r="5.2"/>
<circle cx="911.0" cy="334.2" r="5.2"/>
<circle cx="883.3" cy="345.6" r="5.2"/>
<circle cx="879.0" cy="322.6" r="5.2"/>
<circle cx="886.4" cy="357.6" r="5.2"/>
<circle cx="903.8" cy="337.3" r="5.2"/>
<circle cx="906.6" cy="336.2" r="5.2"/>
<circle cx="890.3" cy="359.0" r="5.2"/>
<circle cx="874.6" cy="313.3" r="5.2"/>
<circle cx="871.2" cy="333.9" r="5.2"/>
<circle cx="890.8" cy="315.8" r="5.2"/>
<circle cx="817.5" cy="343.5" r="5.2"/>
<circle cx="804.5" cy="343.1" r="5.2"/>
<circle cx="904.0" cy="322.5" r="5.2"/>
<circle cx="907.8" cy="332.9" r="5.2"/>
<circle cx="876.0" cy="352.7" r="5.2"/>
<circle cx="880.6" cy="314.9" r="5.2"/>
<circle cx="868.3" cy="343.0" r="5.2"/>
<circle cx="843.1" cy="340.0" r="5.2"/>
<circle cx="876.2" cy="358.7" r="5.2"/>
<circle cx="855.5" cy="342.4" r="5.2"/>
<circle cx="881.5" cy="335.5" r="5.2"/>
<circle cx="827.3" cy="343.1" r="5.2"/>
<circle cx="898.9" cy="322.7" r="5.2"/>
<circle cx="897.6" cy="338.9" r="5.2"/>
<circle cx="878.9" cy="345.1" r="5.2"/>
<circle cx="867.4" cy="320.5" r="5.2"/>
<circle cx="885.4" cy="321.5" r="5.2"/>
<circle cx="884.6" cy="329.4" r="5.2"/>
<circle cx="903.1" cy="346.5" r="5.2"/>
<circle cx="795.8" cy="340.6" r="5.2"/>
<circle cx="896.7" cy="344.6" r="5.2"/>
<circle cx="891.1" cy="339.0" r="5.2"/>
<circle cx="897.7" cy="330.8" r="5.2"/>
<circle cx="890.1" cy="320.5" r="5.2"/>
<circle cx="800.2" cy="338.7" r="5.2"/>
<circle cx="871.7" cy="324.1" r="5.2"/>
<circle cx="834.7" cy="351.3" r="5.2"/>
<circle cx="899.0" cy="347.3" r="5.2"/>
<circle cx="903.4" cy="352.6" r="5.2"/>
<circle cx="823.4" cy="342.9" r="5.2"/>
<circle cx="910.3" cy="351.2" r="5.2"/>
<circle cx="859.0" cy="344.1" r="5.2"/>
<circle cx="913.4" cy="337.6" r="5.2"/>
<circle cx="901.4" cy="329.0" r="5.2"/>
<circle cx="878.0" cy="355.2" r="5.2"/>
<circle cx="833.2" cy="349.1" r="5.2"/>
<circle cx="885.0" cy="326.0" r="5.2"/>
<circle cx="894.4" cy="323.8" r="5.2"/>
<circle cx="885.7" cy="316.2" r="5.2"/>
<circle cx="861.3" cy="331.7" r="5.2"/>
<circle cx="879.4" cy="328.3" r="5.2"/>
<circle cx="881.0" cy="351.0" r="5.2"/>
<circle cx="871.2" cy="328.5" r="5.2"/>
<circle cx="891.0" cy="312.6" r="5.2"/>
<circle cx="894.1" cy="337.9" r="5.2"/>
<circle cx="873.1" cy="341.7" r="5.2"/>
<circle cx="875.0" cy="332.2" r="5.2"/>
<circle cx="882.6" cy="322.3" r="5.2"/>
<circle cx="884.0" cy="361.1" r="5.2"/>
<circle cx="865.8" cy="338.7" r="5.2"/>
<circle cx="897.6" cy="318.7" r="5.2"/>
<circle cx="890.1" cy="352.8" r="5.2"/>
<circle cx="878.7" cy="337.1" r="5.2"/>
<circle cx="826.1" cy="346.5" r="5.2"/>
<circle cx="857.4" cy="332.1" r="5.2"/>
<circle cx="798.7" cy="343.5" r="5.2"/>
<circle cx="877.3" cy="362.7" r="5.2"/>
<circle cx="883.4" cy="341.0" r="5.2"/>
<circle cx="840.9" cy="348.3" r="5.2"/>
<circle cx="866.9" cy="334.1" r="5.2"/>
<circle cx="810.5" cy="342.5" r="5.2"/>
<circle cx="877.5" cy="317.5" r="5.2"/>
<circle cx="814.9" cy="340.6" r="5.2"/>
<circle cx="892.3" cy="332.9" r="5.2"/>
<circle cx="893.9" cy="348.2" r="5.2"/>
<circle cx="908.6" cy="335.9" r="5.2"/>
<circle cx="884.2" cy="344.8" r="5.2"/>
<circle cx="884.2" cy="358.0" r="5.2"/>
<circle cx="905.6" cy="334.8" r="5.2"/>
<circle cx="892.1" cy="356.9" r="5.2"/>
<circle cx="887.4" cy="348.7" r="5.2"/>
<circle cx="871.5" cy="336.1" r="5.2"/>
<circle cx="804.3" cy="338.4" r="5.2"/>
<circle cx="891.8" cy="328.5" r="5.2"/>
<circle cx="838.9" cy="342.8" r="5.2"/>
<circle cx="861.8" cy="347.1" r="5.2"/>
<circle cx="818.8" cy="344.7" r="5.2"/>
<circle cx="904.3" cy="318.7" r="5.2"/>
<circle cx="896.4" cy="321.4" r="5.2"/>
<circle cx="877.9" cy="323.7" r="5.2"/>
<circle cx="795.0" cy="342.9" r="5.2"/>
<circle cx="841.6" cy="340.4" r="5.2"/>
<circle cx="867.5" cy="347.2" r="5.2"/>
<circle cx="890.3" cy="339.3" r="5.2"/>
<circle cx="906.0" cy="348.5" r="5.2"/>
<circle cx="900.6" cy="341.1" r="5.2"/>
<circle cx="885.2" cy="334.6" r="5.2"/>
<circle cx="829.0" cy="349.8" r="5.2"/>
<circle cx="891.7" cy="320.5" r="5.2"/>
<circle cx="875.6" cy="349.3" r="5.2"/>
<circle cx="848.3" cy="344.4" r="5.2"/>
<circle cx="893.6" cy="352.3" r="5.2"/>
<circle cx="904.8" cy="353.5" r="5.2"/>
<circle cx="879.3" cy="342.6" r="5.2"/>
<circle cx="864.9" cy="323.0" r="5.2"/>
<circle cx="900.8" cy="335.6" r="5.2"/>
<circle cx="870.5" cy="315.4" r="5.2"/>
<circle cx="859.3" cy="335.8" r="5.2"/>
<circle cx="872.8" cy="322.8" r="5.2"/>
<circle cx="873.1" cy="346.1" r="5.2"/>
<circle cx="876.0" cy="338.3" r="5.2"/>
<circle cx="897.4" cy="314.2" r="5.2"/>
<circle cx="832.2" cy="347.6" r="5.2"/>
<circle cx="879.2" cy="350.0" r="5.2"/>
<circle cx="876.2" cy="357.3" r="5.2"/>
<circle cx="855.4" cy="342.3" r="5.2"/>
<circle cx="864.1" cy="331.9" r="5.2"/>
<circle cx="899.3" cy="325.1" r="5.2"/>
<circle cx="882.8" cy="315.2" r="5.2"/>
<circle cx="867.9" cy="328.1" r="5.2"/>
<circle cx="906.2" cy="332.3" r="5.2"/>
<circle cx="829.5" cy="345.9" r="5.2"/>
<circle cx="882.1" cy="319.5" r="5.2"/>
<circle cx="873.7" cy="357.8" r="5.2"/>
<circle cx="875.2" cy="329.5" r="5.2"/>
<circle cx="882.6" cy="326.2" r="5.2"/>
<circle cx="889.5" cy="354.5" r="5.2"/>
<circle cx="901.1" cy="348.2" r="5.2"/>
<circle cx="831.9" cy="343.0" r="5.2"/>
<circle cx="901.6" cy="330.1" r="5.2"/>
<circle cx="797.2" cy="339.8" r="5.2"/>
<circle cx="854.4" cy="346.6" r="5.2"/>
<circle cx="911.3" cy="354.3" r="5.2"/>
<circle cx="872.9" cy="317.8" r="5.2"/>
<circle cx="904.7" cy="323.1" r="5.2"/>
<circle cx="900.6" cy="319.3" r="5.2"/>
<circle cx="878.6" cy="334.5" r="5.2"/>
<circle cx="803.7" cy="341.9" r="5.2"/>
<circle cx="844.3" cy="343.3" r="5.2"/>
<circle cx="838.9" cy="351.0" r="5.2"/>
<circle cx="889.4" cy="315.6" r="5.2"/>
<circle cx="895.9" cy="340.3" r="5.2"/>
<circle cx="887.2" cy="327.0" r="5.2"/>
<circle cx="868.6" cy="332.8" r="5.2"/>
<circle cx="903.5" cy="338.5" r="5.2"/>
<circle cx="894.9" cy="345.6" r="5.2"/>
<circle cx="827.3" cy="344.1" r="5.2"/>
<circle cx="893.3" cy="340.0" r="5.2"/>
<circle cx="811.3" cy="337.9" r="5.2"/>
<circle cx="881.1" cy="361.2" r="5.2"/>
<circle cx="870.3" cy="329.8" r="5.2"/>
<circle cx="883.8" cy="345.3" r="5.2"/>
<circle cx="838.9" cy="348.5" r="5.2"/>
<circle cx="835.1" cy="342.3" r="5.2"/>
<circle cx="871.5" cy="338.5" r="5.2"/>
<circle cx="866.9" cy="318.0" r="5.2"/>
<circle cx="819.2" cy="344.3" r="5.2"/>
<circle cx="851.8" cy="344.7" r="5.2"/>
<circle cx="914.9" cy="334.5" r="5.2"/>
<circle cx="877.4" cy="321.5" r="5.2"/>
<circle cx="874.7" cy="333.5" r="5.2"/>
<circle cx="906.3" cy="340.9" r="5.2"/>
<circle cx="888.7" cy="349.5" r="5.2"/>
<circle cx="879.1" cy="355.3" r="5.2"/>
<circle cx="895.1" cy="335.2" r="5.2"/>
<circle cx="822.6" cy="348.8" r="5.2"/>
<circle cx="870.3" cy="350.5" r="5.2"/>
<circle cx="881.2" cy="330.0" r="5.2"/>
<circle cx="864.3" cy="345.6" r="5.2"/>
<circle cx="890.3" cy="332.8" r="5.2"/>
<circle cx="813.8" cy="341.3" r="5.2"/>
<circle cx="849.8" cy="343.1" r="5.2"/>
<circle cx="884.0" cy="338.2" r="5.2"/>
<circle cx="892.9" cy="320.2" r="5.2"/>
<circle cx="894.0" cy="331.0" r="5.2"/>
<circle cx="873.1" cy="321.4" r="5.2"/>
<circle cx="892.7" cy="352.0" r="5.2"/>
<circle cx="822.3" cy="341.8" r="5.2"/>
<circle cx="879.6" cy="350.7" r="5.2"/>
<circle cx="900.1" cy="324.4" r="5.2"/>
<circle cx="884.5" cy="351.6" r="5.2"/>
<circle cx="860.8" cy="347.4" r="5.2"/>
<circle cx="860.1" cy="342.3" r="5.2"/>
<circle cx="880.9" cy="315.0" r="5.2"/>
<circle cx="903.4" cy="325.3" r="5.2"/>
<circle cx="793.3" cy="341.1" r="5.2"/>
<circle cx="829.8" cy="347.7" r="5.2"/>
<circle cx="875.8" cy="339.7" r="5.2"/>
<circle cx="900.5" cy="341.7" r="5.2"/>
<circle cx="890.7" cy="345.2" r="5.2"/>
<circle cx="870.3" cy="324.9" r="5.2"/>
<circle cx="880.2" cy="347.4" r="5.2"/>
<circle cx="910.5" cy="336.4" r="5.2"/>
<circle cx="870.8" cy="344.5" r="5.2"/>
<circle cx="888.4" cy="354.8" r="5.2"/>
<circle cx="826.2" cy="347.8" r="5.2"/>
<circle cx="874.4" cy="314.4" r="5.2"/>
<circle cx="899.4" cy="348.0" r="5.2"/>
<circle cx="893.3" cy="313.8" r="5.2"/>
<circle cx="895.3" cy="323.8" r="5.2"/>
<circle cx="906.8" cy="354.1" r="5.2"/>
<circle cx="880.5" cy="337.5" r="5.2"/>
<circle cx="833.7" cy="348.8" r="5.2"/>
<circle cx="803.6" cy="338.6" r="5.2"/>
<circle cx="856.6" cy="345.1" r="5.2"/>
<circle cx="880.0" cy="334.6" r="5.2"/>
<circle cx="908.4" cy="348.5" r="5.2"/>
<circle cx="901.3" cy="314.9" r="5.2"/>
<circle cx="876.4" cy="362.4" r="5.2"/>
<circle cx="887.1" cy="326.7" r="5.2"/>
<circle cx="887.2" cy="340.1" r="5.2"/>
<circle cx="905.8" cy="334.8" r="5.2"/>
<circle cx="875.1" cy="327.3" r="5.2"/>
<circle cx="810.0" cy="339.7" r="5.2"/>
<circle cx="885.1" cy="321.3" r="5.2"/>
<circle cx="900.9" cy="331.7" r="5.2"/>
<circle cx="815.9" cy="338.8" r="5.2"/>
<circle cx="817.4" cy="342.7" r="5.2"/>
<circle cx="840.2" cy="344.9" r="5.2"/>
<circle cx="891.5" cy="329.8" r="5.2"/>
<circle cx="883.9" cy="359.7" r="5.2"/>
<circle cx="878.3" cy="328.6" r="5.2"/>
<circle cx="869.4" cy="332.9" r="5.2"/>
<circle cx="887.7" cy="318.4" r="5.2"/>
<circle cx="884.9" cy="313.7" r="5.2"/>
<circle cx="888.9" cy="343.2" r="5.2"/>
<circle cx="872.6" cy="351.8" r="5.2"/>
<circle cx="899.1" cy="338.2" r="5.2"/>
<circle cx="838.4" cy="351.7" r="5.2"/>
<circle cx="867.4" cy="319.7" r="5.2"/>
<circle cx="898.0" cy="313.5" r="5.2"/>
<circle cx="875.8" cy="354.2" r="5.2"/>
<circle cx="857.7" cy="334.6" r="5.2"/>
<circle cx="879.6" cy="325.5" r="5.2"/>
<circle cx="890.7" cy="360.1" r="5.2"/>
<circle cx="802.9" cy="343.6" r="5.2"/>
<circle cx="877.4" cy="358.4" r="5.2"/>
<circle cx="898.5" cy="327.0" r="5.2"/>
<circle cx="902.7" cy="321.6" r="5.2"/>
<circle cx="811.4" cy="343.0" r="5.2"/>
<circle cx="891.4" cy="334.3" r="5.2"/>
<circle cx="901.1" cy="318.3" r="5.2"/>
<circle cx="874.9" cy="331.8" r="5.2"/>
<circle cx="885.4" cy="343.5" r="5.2"/>
<circle cx="864.8" cy="333.7" r="5.2"/>
<circle cx="901.1" cy="334.8" r="5.2"/>
<circle cx="882.1" cy="342.8" r="5.2"/>
<circle cx="867.5" cy="349.5" r="5.2"/>
<circle cx="867.8" cy="324.7" r="5.2"/>
<circle cx="833.5" cy="341.1" r="5.2"/>
<circle cx="873.7" cy="338.2" r="5.2"/>
<circle cx="864.3" cy="341.9" r="5.2"/>
<circle cx="837.6" cy="341.9" r="5.2"/>
<circle cx="895.4" cy="340.4" r="5.2"/>
<circle cx="890.9" cy="347.9" r="5.2"/>
<circle cx="877.1" cy="344.5" r="5.2"/>
<circle cx="882.4" cy="348.1" r="5.2"/>
<circle cx="798.3" cy="341.5" r="5.2"/>
<circle cx="903.0" cy="326.4" r="5.2"/>
<circle cx="824.4" cy="347.2" r="5.2"/>
<circle cx="861.8" cy="339.6" r="5.2"/>
<circle cx="888.0" cy="314.4" r="5.2"/>
<circle cx="892.0" cy="342.4" r="5.2"/>
<circle cx="906.9" cy="354.2" r="5.2"/>
<circle cx="891.4" cy="354.2" r="5.2"/>
<circle cx="843.6" cy="340.0" r="5.2"/>
<circle cx="894.2" cy="348.7" r="5.2"/>
<circle cx="905.4" cy="343.9" r="5.2"/>
<circle cx="879.0" cy="315.4" r="5.2"/>
<circle cx="879.2" cy="349.9" r="5.2"/>
<circle cx="910.1" cy="336.0" r="5.2"/>
<circle cx="859.1" cy="342.4" r="5.2"/>
<circle cx="849.1" cy="342.8" r="5.2"/>
<circle cx="829.6" cy="348.8" r="5.2"/>
<circle cx="877.8" cy="319.4" r="5.2"/>
<circle cx="861.4" cy="347.3" r="5.2"/>
<circle cx="856.6" cy="344.3" r="5.2"/>
<circle cx="888.6" cy="337.1" r="5.2"/>
<circle cx="867.9" cy="339.9" r="5.2"/>
<circle cx="899.3" cy="350.5" r="5.2"/>
<circle cx="893.6" cy="327.5" r="5.2"/>
<circle cx="833.3" cy="346.2" r="5.2"/>
<circle cx="863.7" cy="329.3" r="5.2"/>
<circle cx="893.2" cy="320.8" r="5.2"/>
<circle cx="880.1" cy="362.5" r="5.2"/>
<circle cx="831.8" cy="343.7" r="5.2"/>
<circle cx="817.9" cy="341.7" r="5.2"/>
<circle cx="878.4" cy="337.6" r="5.2"/>
<circle cx="864.7" cy="347.8" r="5.2"/>
<circle cx="870.4" cy="350.3" r="5.2"/>
<circle cx="888.8" cy="355.9" r="5.2"/>
<circle cx="898.5" cy="323.5" r="5.2"/>
<circle cx="869.0" cy="345.6" r="5.2"/>
<circle cx="874.3" cy="313.7" r="5.2"/>
<circle cx="836.3" cy="348.8" r="5.2"/>
<circle cx="882.0" cy="321.0" r="5.2"/>
<circle cx="795.3" cy="339.2" r="5.2"/>
<circle cx="889.5" cy="321.6" r="5.2"/>
<circle cx="885.1" cy="327.1" r="5.2"/>
<circle cx="884.9" cy="316.6" r="5.2"/>
<circle cx="902.8" cy="332.1" r="5.2"/>
<circle cx="844.0" cy="346.7" r="5.2"/>
<circle cx="866.9" cy="328.3" r="5.2"/>
<circle cx="900.4" cy="316.6" r="5.2"/>
<circle cx="867.0" cy="336.1" r="5.2"/>
<circle cx="873.8" cy="357.5" r="5.2"/>
<circle cx="880.4" cy="325.4" r="5.2"/>
<circle cx="828.1" cy="345.1" r="5.2"/>
<circle cx="869.8" cy="321.1" r="5.2"/>
<circle cx="807.6" cy="341.9" r="5.2"/>
<circle cx="876.4" cy="327.3" r="5.2"/>
<circle cx="863.5" cy="336.7" r="5.2"/>
<circle cx="811.6" cy="345.0" r="5.2"/>
<circle cx="900.9" cy="337.0" r="5.2"/>
<circle cx="856.1" cy="340.2" r="5.2"/>
<circle cx="873.2" cy="342.4" r="5.2"/>
<circle cx="887.6" cy="341.7" r="5.2"/>
<circle cx="864.3" cy="332.8" r="5.2"/>
<circle cx="867.9" cy="329.4" r="5.2"/>
<circle cx="899.4" cy="327.4" r="5.2"/>
<circle cx="875.0" cy="350.4" r="5.2"/>
<circle cx="848.8" cy="346.8" r="5.2"/>
<circle cx="895.5" cy="317.0" r="5.2"/>
<circle cx="821.1" cy="346.5" r="5.2"/>
<circle cx="902.9" cy="324.2" r="5.2"/>
<circle cx="904.3" cy="319.1" r="5.2"/>
<circle cx="838.1" cy="341.5" r="5.2"/>
<circle cx="884.3" cy="343.8" r="5.2"/>
<circle cx="906.2" cy="354.6" r="5.2"/>
<circle cx="896.0" cy="342.3" r="5.2"/>
<circle cx="891.4" cy="339.5" r="5.2"/>
<circle cx="869.8" cy="337.9" r="5.2"/>
<circle cx="912.6" cy="333.2" r="5.2"/>
<circle cx="888.8" cy="359.6" r="5.2"/>
<circle cx="880.1" cy="350.4" r="5.2"/>
<circle cx="873.2" cy="328.2" r="5.2"/>
<circle cx="875.4" cy="319.3" r="5.2"/>
<circle cx="861.6" cy="340.9" r="5.2"/>
<circle cx="852.7" cy="346.0" r="5.2"/>
<circle cx="883.9" cy="336.7" r="5.2"/>
<circle cx="882.4" cy="333.1" r="5.2"/>
<circle cx="801.1" cy="340.0" r="5.2"/>
<circle cx="883.4" cy="354.0" r="5.2"/>
<circle cx="890.4" cy="315.2" r="5.2"/>
<circle cx="859.1" cy="337.6" r="5.2"/>
<circle cx="884.2" cy="322.4" r="5.2"/>
<circle cx="878.1" cy="355.6" r="5.2"/>
<circle cx="878.9" cy="333.3" r="5.2"/>
<circle cx="892.4" cy="352.2" r="5.2"/>
<circle cx="901.3" cy="348.9" r="5.2"/>
<circle cx="878.3" cy="322.4" r="5.2"/>
<circle cx="905.4" cy="340.3" r="5.2"/>
<circle cx="893.6" cy="322.6" r="5.2"/>
<circle cx="868.1" cy="348.4" r="5.2"/>
<circle cx="890.9" cy="334.9" r="5.2"/>
<circle cx="877.3" cy="339.1" r="5.2"/>
<circle cx="879.3" cy="346.1" r="5.2"/>
<circle cx="907.4" cy="331.5" r="5.2"/>
<circle cx="906.8" cy="337.3" r="5.2"/>
<circle cx="858.9" cy="332.2" r="5.2"/>
<circle cx="888.5" cy="317.5" r="5.2"/>
<circle cx="875.8" cy="313.0" r="5.2"/>
<circle cx="825.3" cy="342.7" r="5.2"/>
<circle cx="895.3" cy="348.3" r="5.2"/>
<circle cx="900.8" cy="316.5" r="5.2"/>
<circle cx="895.0" cy="334.3" r="5.2"/>
<circle cx="873.0" cy="323.0" r="5.2"/>
<circle cx="812.5" cy="339.7" r="5.2"/>
<circle cx="880.4" cy="317.3" r="5.2"/>
<circle cx="868.0" cy="345.0" r="5.2"/>
<circle cx="908.9" cy="347.2" r="5.2"/>
<circle cx="837.1" cy="349.5" r="5.2"/>
<circle cx="903.8" cy="347.8" r="5.2"/>
<circle cx="888.7" cy="355.1" r="5.2"/>
<circle cx="891.1" cy="348.6" r="5.2"/>
<circle cx="882.1" cy="324.7" r="5.2"/>
<circle cx="835.4" cy="344.6" r="5.2"/>
<circle cx="908.1" cy="333.0" r="5.2"/>
<circle cx="842.0" cy="347.2" r="5.2"/>
<circle cx="889.7" cy="343.9" r="5.2"/>
<circle cx="869.2" cy="330.3" r="5.2"/>
<circle cx="804.3" cy="342.7" r="5.2"/>
<circle cx="891.6" cy="355.0" r="5.2"/>
<circle cx="875.5" cy="343.7" r="5.2"/>
<circle cx="866.5" cy="325.0" r="5.2"/>
<circle cx="864.6" cy="333.1" r="5.2"/>
<circle cx="801.0" cy="352.0" r="5.2"/>
<circle cx="792.8" cy="347.5" r="5.2"/>
<circle cx="871.1" cy="309.2" r="5.2"/>
<circle cx="903.5" cy="311.0" r="5.2"/>
<circle cx="914.9" cy="320.6" r="5.2"/>
<circle cx="895.1" cy="309.8" r="5.2"/>
<circle cx="874.7" cy="363.3" r="5.2"/>
<circle cx="856.8" cy="371.6" r="5.2"/>
<circle cx="906.0" cy="381.4" r="5.2"/>
<circle cx="895.8" cy="373.9" r="5.2"/>
<circle cx="908.3" cy="372.7" r="5.2"/>
<circle cx="903.8" cy="377.3" r="5.2"/>
<circle cx="890.1" cy="371.7" r="5.2"/>
<circle cx="902.8" cy="382.7" r="5.2"/>
<circle cx="914.4" cy="373.0" r="5.2"/>
<circle cx="904.6" cy="372.7" r="5.2"/>
<circle cx="892.8" cy="372.5" r="5.2"/>
<circle cx="897.5" cy="373.0" r="5.2"/>
<circle cx="914.1" cy="370.4" r="5.2"/>
<circle cx="900.7" cy="377.4" r="5.2"/>
<circle cx="911.5" cy="373.5" r="5.2"/>
<circle cx="901.2" cy="380.6" r="5.2"/>
<circle cx="906.6" cy="373.5" r="5.2"/>
<circle cx="910.0" cy="371.5" r="5.2"/>
<circle cx="905.5" cy="380.4" r="5.2"/>
<circle cx="898.4" cy="371.6" r="5.2"/>
<circle cx="901.9" cy="373.6" r="5.2"/>
<circle cx="903.8" cy="380.5" r="5.2"/>
<circle cx="906.6" cy="371.9" r="5.2"/>
<circle cx="902.6" cy="380.8" r="5.2"/>
<circle cx="904.9" cy="383.6" r="5.2"/>
<circle cx="895.2" cy="371.7" r="5.2"/>
<circle cx="898.8" cy="375.9" r="5.2"/>
<circle cx="904.6" cy="375.0" r="5.2"/>
<circle cx="890.8" cy="372.9" r="5.2"/>
<circle cx="897.8" cy="377.6" r="5.2"/>
<circle cx="909.7" cy="373.8" r="5.2"/>
<circle cx="913.4" cy="369.5" r="5.2"/>
<circle cx="900.1" cy="378.8" r="5.2"/>
<circle cx="900.1" cy="373.7" r="5.2"/>
<circle cx="900.2" cy="376.0" r="5.2"/>
<circle cx="903.2" cy="375.6" r="5.2"/>
<circle cx="899.1" cy="375.2" r="5.2"/>
<circle cx="893.0" cy="371.3" r="5.2"/>
<circle cx="901.3" cy="381.5" r="5.2"/>
<circle cx="907.4" cy="376.6" r="5.2"/>
<circle cx="913.2" cy="371.7" r="5.2"/>
<circle cx="901.8" cy="378.6" r="5.2"/>
<circle cx="911.6" cy="371.3" r="5.2"/>
<circle cx="902.8" cy="379.5" r="5.2"/>
<circle cx="895.1" cy="374.8" r="5.2"/>
<circle cx="905.3" cy="379.5" r="5.2"/>
<circle cx="894.0" cy="373.1" r="5.2"/>
<circle cx="902.9" cy="372.1" r="5.2"/>
<circle cx="905.8" cy="376.8" r="5.2"/>
<circle cx="897.0" cy="374.6" r="5.2"/>
<circle cx="907.6" cy="374.1" r="5.2"/>
<circle cx="901.9" cy="375.3" r="5.2"/>
<circle cx="889.8" cy="372.5" r="5.2"/>
<circle cx="906.2" cy="382.6" r="5.2"/>
<circle cx="904.0" cy="382.3" r="5.2"/>
<circle cx="906.2" cy="378.9" r="5.2"/>
<circle cx="899.4" cy="373.1" r="5.2"/>
</g>
<g fill="#FF9E4A" stroke="#FF9E4A">
<circle cx="898.7" cy="390.2" r="5.2"/>
</g>
<g fill="#AD8BC9" stroke="#AD8BC9">
<circle cx="872.6" cy="378.9" r="5.2"/>
<circle cx="872.5" cy="378.2" r="5.2"/>
<circle cx="873.2" cy="378.3" r="5.2"/>
</g>
<g fill="#729ECE" stroke="#729ECE">
<circle cx="871.7" cy="377.0" r="5.2"/>
<circle cx="872.0" cy="377.4" r="5.2"/>
</g>
<g fill="#AD8BC9" stroke="#AD8BC9">
<circle cx="857.9" cy="237.5" r="5.2"/>
<circle cx="862.1" cy="234.9" r="5.2"/>
<circle cx="860.3" cy="234.7" r="5.2"/>
<circle cx="860.4" cy="234.3" r="5.2"/>
<circle cx="858.8" cy="239.2" r="5.2"/>
<circle cx="860.7" cy="237.4" r="5.2"/>
<circle cx="861.5" cy="238.4" r="5.2"/>
<circle cx="862.1" cy="235.0" r="5.2"/>
<circle cx="859.0" cy="237.4" r="5.2"/>
<circle cx="860.1" cy="238.3" r="5.2"/>
<circle cx="858.0" cy="234.7" r="5.2"/>
<circle cx="857.7" cy="238.8" r="5.2"/>
<circle cx="859.0" cy="236.8" r="5.2"/>
<circle cx="858.7" cy="239.3" r="5.2"/>
<circle cx="859.8" cy="238.5" r="5.2"/>
<circle cx="860.9" cy="239.0" r="5.2"/>
<circle cx="862.7" cy="235.2" r="5.2"/>
<circle cx="861.6" cy="233.7" r="5.2"/>
<circle cx="852.0" cy="239.8" r="5.2"/>
<circle cx="858.0" cy="249.9" r="5.2"/>
<circle cx="858.6" cy="250.5" r="5.2"/>
<circle cx="867.3" cy="253.5" r="5.2"/>
<circle cx="860.4" cy="266.7" r="5.2"/>
<circle cx="861.0" cy="267.3" r="5.2"/>
<circle cx="852.0" cy="280.5" r="5.2"/>
<circle cx="855.0" cy="277.0" r="5.2"/>
<circle cx="856.2" cy="274.5" r="5.2"/>
<circle cx="866.9" cy="275.7" r="5.2"/>
<circle cx="884.3" cy="271.5" r="5.2"/>
<circle cx="884.9" cy="272.0" r="5.2"/>
<circle cx="893.9" cy="266.1" r="5.2"/>
<circle cx="894.4" cy="266.6" r="5.2"/>
<circle cx="896.3" cy="274.5" r="5.2"/>
<circle cx="873.6" cy="267.8" r="5.2"/>
<circle cx="870.2" cy="270.6" r="5.2"/>
<circle cx="871.9" cy="268.5" r="5.2"/>
<circle cx="873.0" cy="267.9" r="5.2"/>
<circle cx="873.0" cy="271.2" r="5.2"/>
<circle cx="870.8" cy="272.0" r="5.2"/>
<circle cx="873.2" cy="271.5" r="5.2"/>
<circle cx="873.5" cy="273.1" r="5.2"/>
<circle cx="874.8" cy="275.0" r="5.2"/>
<circle cx="876.6" cy="276.0" r="5.2"/>
<circle cx="876.5" cy="275.4" r="5.2"/>
<circle cx="877.6" cy="275.4" r="5.2"/>
<circle cx="876.8" cy="276.2" r="5.2"/>
<circle cx="877.6" cy="277.8" r="5.2"/>
<circle cx="879.4" cy="281.6" r="5.2"/>
<circle cx="877.1" cy="277.2" r="5.2"/>
<circle cx="878.4" cy="280.1" r="5.2"/>
<circle cx="879.6" cy="284.5" r="5.2"/>
<circle cx="881.5" cy="285.3" r="5.2"/>
<circle cx="879.6" cy="284.4" r="5.2"/>
<circle cx="883.2" cy="286.8" r="5.2"/>
<circle cx="881.9" cy="288.0" r="5.2"/>
<circle cx="868.5" cy="265.5" r="5.2"/>
<circle cx="869.5" cy="267.0" r="5.2"/>
<circle cx="870.5" cy="266.0" r="5.2"/>
<circle cx="914.3" cy="285.9" r="5.2"/>
<circle cx="931.2" cy="282.8" r="5.2"/>
<circle cx="912.2" cy="267.6" r="5.2"/>
<circle cx="916.3" cy="276.1" r="5.2"/>
<circle cx="910.8" cy="278.9" r="5.2"/>
<circle cx="888.1" cy="287.5" r="5.2"/>
<circle cx="928.8" cy="293.7" r="5.2"/>
<circle cx="916.5" cy="269.3" r="5.2"/>
<circle cx="896.6" cy="286.7" r="5.2"/>
<circle cx="879.9" cy="283.1" r="5.2"/>
<circle cx="887.2" cy="283.7" r="5.2"/>
<circle cx="922.1" cy="279.8" r="5.2"/>
<circle cx="927.4" cy="279.0" r="5.2"/>
<circle cx="925.5" cy="284.7" r="5.2"/>
<circle cx="922.9" cy="288.3" r="5.2"/>
<circle cx="918.2" cy="281.8" r="5.2"/>
<circle cx="912.3" cy="274.1" r="5.2"/>
<circle cx="922.6" cy="276.6" r="5.2"/>
<circle cx="932.8" cy="290.8" r="5.2"/>
<circle cx="905.3" cy="283.1" r="5.2"/>
<circle cx="935.6" cy="288.8" r="5.2"/>
<circle cx="893.1" cy="286.1" r="5.2"/>
<circle cx="927.6" cy="299.7" r="5.2"/>
<circle cx="914.6" cy="280.4" r="5.2"/>
<circle cx="884.2" cy="282.6" r="5.2"/>
<circle cx="924.3" cy="274.5" r="5.2"/>
<circle cx="921.2" cy="282.6" r="5.2"/>
<circle cx="912.3" cy="284.7" r="5.2"/>
<circle cx="910.0" cy="273.1" r="5.2"/>
<circle cx="929.1" cy="287.5" r="5.2"/>
<circle cx="919.6" cy="287.5" r="5.2"/>
<circle cx="883.0" cy="287.2" r="5.2"/>
<circle cx="894.8" cy="283.3" r="5.2"/>
<circle cx="917.7" cy="272.4" r="5.2"/>
<circle cx="917.5" cy="284.7" r="5.2"/>
<circle cx="908.5" cy="280.2" r="5.2"/>
<circle cx="892.2" cy="284.5" r="5.2"/>
<circle cx="911.7" cy="270.6" r="5.2"/>
<circle cx="930.5" cy="295.4" r="5.2"/>
<circle cx="890.3" cy="289.6" r="5.2"/>
<circle cx="927.0" cy="288.8" r="5.2"/>
<circle cx="923.2" cy="278.3" r="5.2"/>
<circle cx="880.2" cy="286.4" r="5.2"/>
<circle cx="931.2" cy="284.9" r="5.2"/>
<circle cx="893.0" cy="290.4" r="5.2"/>
<circle cx="915.1" cy="271.4" r="5.2"/>
<circle cx="909.9" cy="279.3" r="5.2"/>
<circle cx="889.0" cy="282.5" r="5.2"/>
<circle cx="925.3" cy="281.4" r="5.2"/>
<circle cx="914.0" cy="273.7" r="5.2"/>
<circle cx="901.6" cy="285.5" r="5.2"/>
<circle cx="878.0" cy="284.5" r="5.2"/>
<circle cx="890.9" cy="287.3" r="5.2"/>
<circle cx="926.3" cy="296.2" r="5.2"/>
<circle cx="913.4" cy="268.8" r="5.2"/>
<circle cx="910.1" cy="283.1" r="5.2"/>
<circle cx="898.2" cy="288.4" r="5.2"/>
<circle cx="923.1" cy="284.2" r="5.2"/>
<circle cx="896.8" cy="284.5" r="5.2"/>
<circle cx="933.3" cy="287.9" r="5.2"/>
<circle cx="930.7" cy="293.1" r="5.2"/>
<circle cx="920.7" cy="273.9" r="5.2"/>
<circle cx="928.6" cy="289.0" r="5.2"/>
<circle cx="912.1" cy="269.1" r="5.2"/>
<circle cx="920.3" cy="280.2" r="5.2"/>
<circle cx="903.9" cy="284.5" r="5.2"/>
<circle cx="930.1" cy="291.4" r="5.2"/>
<circle cx="930.9" cy="288.4" r="5.2"/>
<circle cx="918.9" cy="285.2" r="5.2"/>
<circle cx="925.5" cy="276.9" r="5.2"/>
<circle cx="880.2" cy="283.9" r="5.2"/>
<circle cx="882.5" cy="284.6" r="5.2"/>
<circle cx="915.2" cy="283.8" r="5.2"/>
<circle cx="917.1" cy="275.5" r="5.2"/>
<circle cx="912.5" cy="279.8" r="5.2"/>
<circle cx="933.5" cy="285.0" r="5.2"/>
<circle cx="924.4" cy="282.7" r="5.2"/>
<circle cx="913.6" cy="277.1" r="5.2"/>
<circle cx="927.3" cy="290.4" r="5.2"/>
<circle cx="908.1" cy="282.5" r="5.2"/>
<circle cx="924.2" cy="290.2" r="5.2"/>
<circle cx="895.8" cy="288.0" r="5.2"/>
<circle cx="915.8" cy="269.0" r="5.2"/>
<circle cx="919.1" cy="274.7" r="5.2"/>
<circle cx="933.2" cy="290.6" r="5.2"/>
<circle cx="879.1" cy="281.8" r="5.2"/>
<circle cx="887.3" cy="284.9" r="5.2"/>
<circle cx="916.1" cy="286.1" r="5.2"/>
<circle cx="910.8" cy="276.5" r="5.2"/>
<circle cx="892.8" cy="282.4" r="5.2"/>
<circle cx="894.7" cy="290.4" r="5.2"/>
<circle cx="882.8" cy="281.7" r="5.2"/>
<circle cx="919.2" cy="282.7" r="5.2"/>
<circle cx="888.2" cy="286.7" r="5.2"/>
<circle cx="927.9" cy="281.9" r="5.2"/>
<circle cx="918.3" cy="269.0" r="5.2"/>
<circle cx="920.1" cy="284.6" r="5.2"/>
<circle cx="925.5" cy="284.6" r="5.2"/>
<circle cx="927.7" cy="285.8" r="5.2"/>
<circle cx="884.5" cy="286.7" r="5.2"/>
<circle cx="928.1" cy="284.1" r="5.2"/>
<circle cx="913.2" cy="271.1" r="5.2"/>
<circle cx="930.6" cy="295.2" r="5.2"/>
<circle cx="917.7" cy="277.7" r="5.2"/>
<circle cx="917.1" cy="281.1" r="5.2"/>
<circle cx="923.8" cy="278.7" r="5.2"/>
<circle cx="926.7" cy="281.6" r="5.2"/>
<circle cx="912.7" cy="284.2" r="5.2"/>
<circle cx="918.9" cy="271.9" r="5.2"/>
<circle cx="913.4" cy="267.1" r="5.2"/>
<circle cx="933.8" cy="292.1" r="5.2"/>
<circle cx="928.3" cy="299.6" r="5.2"/>
<circle cx="926.8" cy="277.4" r="5.2"/>
<circle cx="922.4" cy="289.5" r="5.2"/>
<circle cx="910.8" cy="278.7" r="5.2"/>
<circle cx="893.4" cy="286.5" r="5.2"/>
<circle cx="920.4" cy="282.5" r="5.2"/>
<circle cx="878.9" cy="284.6" r="5.2"/>
<circle cx="916.9" cy="279.4" r="5.2"/>
<circle cx="935.2" cy="289.7" r="5.2"/>
<circle cx="913.7" cy="274.3" r="5.2"/>
<circle cx="929.5" cy="279.6" r="5.2"/>
<circle cx="916.2" cy="272.7" r="5.2"/>
<circle cx="889.9" cy="287.9" r="5.2"/>
<circle cx="910.6" cy="270.6" r="5.2"/>
<circle cx="892.6" cy="284.1" r="5.2"/>
<circle cx="920.2" cy="281.0" r="5.2"/>
<circle cx="921.4" cy="277.8" r="5.2"/>
<circle cx="890.0" cy="289.4" r="5.2"/>
<circle cx="922.8" cy="280.6" r="5.2"/>
<circle cx="923.5" cy="287.4" r="5.2"/>
<circle cx="884.9" cy="285.4" r="5.2"/>
<circle cx="933.9" cy="288.3" r="5.2"/>
<circle cx="920.3" cy="277.8" r="5.2"/>
<circle cx="933.1" cy="286.8" r="5.2"/>
<circle cx="893.0" cy="288.6" r="5.2"/>
<circle cx="899.1" cy="285.3" r="5.2"/>
<circle cx="926.7" cy="283.4" r="5.2"/>
<circle cx="926.2" cy="293.4" r="5.2"/>
<circle cx="880.3" cy="286.8" r="5.2"/>
<circle cx="912.3" cy="277.7" r="5.2"/>
<circle cx="905.5" cy="283.1" r="5.2"/>
<circle cx="929.3" cy="289.1" r="5.2"/>
<circle cx="915.6" cy="282.7" r="5.2"/>
<circle cx="924.8" cy="286.3" r="5.2"/>
<circle cx="925.3" cy="289.2" r="5.2"/>
<circle cx="923.6" cy="276.7" r="5.2"/>
<circle cx="911.1" cy="267.5" r="5.2"/>
<circle cx="901.0" cy="284.3" r="5.2"/>
<circle cx="931.2" cy="282.4" r="5.2"/>
<circle cx="882.2" cy="297.7" r="5.2"/>
<circle cx="884.1" cy="297.6" r="5.2"/>
<circle cx="885.9" cy="300.3" r="5.2"/>
<circle cx="879.9" cy="302.0" r="5.2"/>
<circle cx="878.9" cy="300.4" r="5.2"/>
<circle cx="880.5" cy="295.5" r="5.2"/>
<circle cx="877.1" cy="301.4" r="5.2"/>
<circle cx="892.7" cy="294.3" r="5.2"/>
<circle cx="950.9" cy="382.8" r="5.2"/>
<circle cx="950.4" cy="381.9" r="5.2"/>
<circle cx="950.9" cy="382.4" r="5.2"/>
<circle cx="950.8" cy="383.0" r="5.2"/>
<circle cx="989.2" cy="378.2" r="5.2"/>
<circle cx="981.2" cy="378.1" r="5.2"/>
<circle cx="989.3" cy="384.5" r="5.2"/>
<circle cx="985.4" cy="382.5" r="5.2"/>
<circle cx="991.2" cy="381.7" r="5.2"/>
<circle cx="985.5" cy="380.1" r="5.2"/>
<circle cx="989.5" cy="374.8" r="5.2"/>
<circle cx="982.8" cy="379.8" r="5.2"/>
<circle cx="986.1" cy="384.9" r="5.2"/>
<circle cx="986.8" cy="376.5" r="5.2"/>
<circle cx="987.8" cy="379.4" r="5.2"/>
<circle cx="987.1" cy="381.0" r="5.2"/>
<circle cx="991.1" cy="377.3" r="5.2"/>
<circle cx="983.4" cy="381.0" r="5.2"/>
<circle cx="991.1" cy="375.2" r="5.2"/>
<circle cx="986.7" cy="377.8" r="5.2"/>
<circle cx="986.8" cy="375.6" r="5.2"/>
<circle cx="982.1" cy="381.4" r="5.2"/>
<circle cx="990.1" cy="379.9" r="5.2"/>
<circle cx="992.0" cy="379.0" r="5.2"/>
<circle cx="991.0" cy="383.0" r="5.2"/>
<circle cx="988.8" cy="381.2" r="5.2"/>
<circle cx="988.7" cy="376.0" r="5.2"/>
<circle cx="983.2" cy="376.7" r="5.2"/>
<circle cx="984.0" cy="377.5" r="5.2"/>
<circle cx="986.1" cy="383.6" r="5.2"/>
<circle cx="990.6" cy="376.2" r="5.2"/>
<circle cx="985.7" cy="381.3" r="5.2"/>
<circle cx="985.3" cy="378.0" r="5.2"/>
<circle cx="991.5" cy="380.9" r="5.2"/>
<circle cx="987.4" cy="383.5" r="5.2"/>
<circle cx="988.2" cy="384.7" r="5.2"/>
<circle cx="986.0" cy="377.1" r="5.2"/>
<circle cx="990.4" cy="383.9" r="5.2"/>
<circle cx="984.8" cy="383.7" r="5.2"/>
<circle cx="989.1" cy="383.3" r="5.2"/>
<circle cx="975.8" cy="374.5" r="5.2"/>
<circle cx="977.5" cy="375.5" r="5.2"/>
<circle cx="979.0" cy="374.0" r="5.2"/>
<circle cx="933.8" cy="440.0" r="5.2"/>
<circle cx="936.2" cy="444.7" r="5.2"/>
</g>
<g fill="#ED665D" stroke="#ED665D">
<circle cx="936.2" cy="444.4" r="5.2"/>
</g>
</g>
<g stroke="#000" stroke-width="2.6" fill="none" stroke-linecap="butt">
<path d="M92.4 11.9V880.8"/>
<path d="M91.1 879.55H1035"/>
<path d="M167.4 880.5V886.3"/>
<path d="M359.0 880.5V886.3"/>
<path d="M550.6 880.5V886.3"/>
<path d="M742.3 880.5V886.3"/>
<path d="M933.9 880.5V886.3"/>
<path d="M85.5 193.2H91.5"/>
<path d="M85.5 401.4H91.5"/>
<path d="M85.5 609.5H91.5"/>
<path d="M85.5 817.7H91.5"/>
</g>
<g class="tx"><g class="t" text-anchor="middle">
<text transform="translate(167.7,909.4) scale(1,1.045)">-10</text>
<text transform="translate(359.3,909.4) scale(1,1.045)">-5</text>
<text transform="translate(550.9,909.4) scale(1,1.045)">0</text>
<text transform="translate(742.6,909.4) scale(1,1.045)">5</text>
<text transform="translate(934.2,909.4) scale(1,1.045)">10</text>
</g>
<g class="t" text-anchor="end">
<text transform="translate(80.3,201.9) scale(1,1.045)">5</text>
<text transform="translate(80.3,410.1) scale(1,1.045)">0</text>
<text transform="translate(80.3,618.2) scale(1,1.045)">-5</text>
<text transform="translate(80.3,826.4) scale(1,1.045)">-10</text>
</g>
<text class="a" text-anchor="middle" transform="translate(561,941) scale(1,1.045)">UMAP 1</text>
<text class="a" text-anchor="middle" transform="translate(33.5,446) rotate(-90) scale(1,1.045)">UMAP 2</text>
<text class="a" transform="translate(1060,348) scale(1,1.045)">level1class</text>
</g><g class="p">
<circle cx="1074.9" cy="378.3" r="5.2" fill="#729ECE" stroke="#729ECE"/>
<circle cx="1074.9" cy="407.5" r="5.2" fill="#FF9E4A" stroke="#FF9E4A"/>
<circle cx="1074.9" cy="436.8" r="5.2" fill="#67BF5C" stroke="#67BF5C"/>
<circle cx="1074.9" cy="466.0" r="5.2" fill="#ED665D" stroke="#ED665D"/>
<circle cx="1074.9" cy="495.2" r="5.2" fill="#AD8BC9" stroke="#AD8BC9"/>
<circle cx="1074.9" cy="524.5" r="5.2" fill="#A8786E" stroke="#A8786E"/>
<circle cx="1074.9" cy="553.7" r="5.2" fill="#ED97CA" stroke="#ED97CA"/>
</g><g class="tx"><g class="l">
<text transform="translate(1103,386.3) scale(1,1.045)">astrocytes_ependymal</text>
<text transform="translate(1103,415.5) scale(1,1.045)">endothelial-mural</text>
<text transform="translate(1103,444.7) scale(1,1.045)">interneurons</text>
<text transform="translate(1103,473.9) scale(1,1.045)">microglia</text>
<text transform="translate(1103,503.1) scale(1,1.045)">oligodendrocytes</text>
<text transform="translate(1103,532.3) scale(1,1.045)">pyramidal CA1</text>
<text transform="translate(1103,561.5) scale(1,1.045)">pyramidal SS</text>
</g></g>
</svg></body></html>
